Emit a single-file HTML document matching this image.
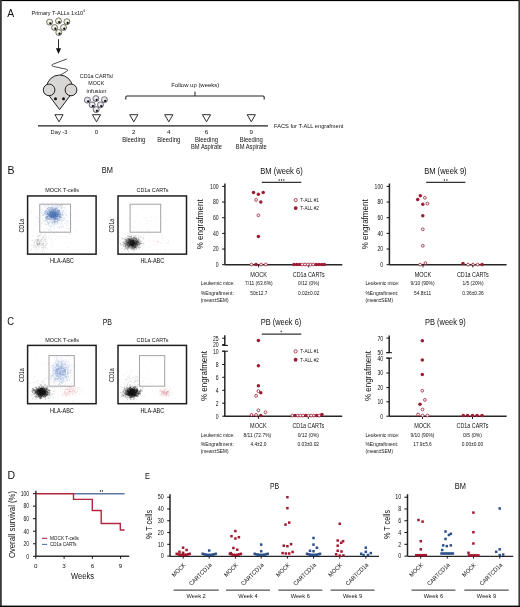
<!DOCTYPE html>
<html><head><meta charset="utf-8"><style>
html,body{margin:0;padding:0;background:#fff;}
svg{display:block;font-family:"Liberation Sans",sans-serif;will-change:transform;}
text{fill:#111111;}
</style></head><body>
<svg width="520" height="607" viewBox="0 0 520 607">
<defs>
<radialGradient id="gc" cx="0.45" cy="0.4" r="0.6"><stop offset="0" stop-color="#fbfaf0"/><stop offset="0.7" stop-color="#e8e6cc"/><stop offset="1" stop-color="#b8b69e"/></radialGradient>
<radialGradient id="gp" cx="0.45" cy="0.4" r="0.6"><stop offset="0" stop-color="#f6f6fc"/><stop offset="0.7" stop-color="#d6d6ea"/><stop offset="1" stop-color="#a4a4bc"/></radialGradient>
</defs>
<rect x="0" y="0" width="520" height="607" fill="#ffffff"/>
<path d="M135.2 379.9h.1M131.4 378.9h.1M138.0 379.4h.1M134.1 381.8h.1M134.9 384.4h.1M138.5 376.9h.1M128.6 390.7h.1M137.0 381.5h.1M130.8 382.5h.1M137.1 376.7h.1M137.7 380.8h.1M130.5 378.8h.1M123.6 382.9h.1M126.7 377.9h.1M128.4 382.4h.1M134.8 381.3h.1M132.7 383.4h.1M138.3 384.4h.1M138.2 380.7h.1M133.3 377.4h.1M134.3 376.2h.1M133.8 377.5h.1M130.5 388.0h.1M132.5 385.6h.1M131.0 370.5h.1M137.8 380.1h.1M129.3 386.4h.1M127.4 376.9h.1M136.5 377.1h.1M136.4 379.4h.1M131.1 381.5h.1M129.9 387.2h.1M136.3 381.5h.1M134.4 384.2h.1M138.6 372.1h.1M136.0 386.3h.1M130.7 381.2h.1M130.5 388.1h.1M127.4 384.5h.1M137.0 384.3h.1M130.0 378.5h.1M123.5 375.3h.1M136.3 375.7h.1M125.4 379.7h.1M126.0 383.7h.1M128.5 386.5h.1M131.5 373.1h.1M128.9 377.4h.1M128.6 388.1h.1M127.9 383.2h.1M129.6 384.4h.1M126.2 372.2h.1M134.0 389.2h.1M126.4 379.3h.1M129.9 375.8h.1M135.8 381.4h.1M126.4 379.9h.1M137.2 377.1h.1M129.9 376.4h.1M132.6 378.0h.1" stroke="#6a6a6a" stroke-width="0.5" stroke-linecap="round" stroke-opacity="0.3" fill="none"/>
<path d="M128.2 374.6h.1M136.6 385.5h.1M132.7 380.0h.1M143.6 380.9h.1M143.7 377.6h.1M141.8 391.8h.1M135.3 379.5h.1M136.6 385.6h.1M128.2 382.4h.1M133.2 392.9h.1M124.1 387.0h.1M135.3 376.4h.1M138.9 380.3h.1M138.2 383.9h.1M147.5 379.0h.1M151.2 361.6h.1M152.4 391.3h.1M150.3 383.6h.1M140.1 374.4h.1M148.5 373.3h.1M131.5 382.1h.1M139.7 384.7h.1M128.6 379.5h.1M141.8 391.1h.1M144.0 385.2h.1M135.8 378.0h.1M133.8 381.4h.1M142.1 378.3h.1M154.3 374.5h.1" stroke="#6a6a6a" stroke-width="0.5" stroke-linecap="round" stroke-opacity="0.25" fill="none"/>
<path d="M169.9 394.7h.1M164.4 393.8h.1M162.3 389.2h.1M166.3 393.8h.1M163.5 392.6h.1M156.9 392.3h.1M168.3 393.0h.1M165.9 393.8h.1M159.6 389.9h.1M161.9 393.1h.1M163.7 388.7h.1M167.9 392.2h.1M168.2 396.8h.1M160.8 389.9h.1M168.4 395.6h.1M166.5 393.4h.1M167.3 394.0h.1M161.9 394.2h.1M168.1 391.8h.1M162.9 391.6h.1M163.8 393.7h.1M167.6 392.7h.1M164.5 388.9h.1M164.2 390.5h.1M163.9 393.3h.1M165.9 399.9h.1M163.0 391.5h.1M162.2 392.1h.1M164.6 394.7h.1M160.0 394.5h.1M167.2 391.5h.1M163.5 393.0h.1M166.8 392.3h.1M165.0 392.6h.1M162.4 393.2h.1M167.0 392.7h.1M162.2 392.6h.1M165.1 393.3h.1M164.2 394.3h.1M168.4 394.3h.1M166.0 395.1h.1M165.3 392.3h.1M161.4 392.6h.1M168.8 390.6h.1M167.6 390.0h.1M166.2 396.4h.1M165.5 390.2h.1M166.2 392.3h.1M167.6 391.5h.1M160.6 391.6h.1M167.0 394.7h.1M166.2 392.7h.1M167.3 392.2h.1M164.1 393.1h.1M168.4 391.6h.1M166.8 391.3h.1M163.3 393.0h.1M161.7 390.8h.1M162.1 391.4h.1M162.9 397.4h.1M167.1 392.8h.1M161.7 387.7h.1M166.6 391.3h.1M168.3 391.8h.1M161.8 391.3h.1M161.1 389.7h.1M167.4 391.5h.1M167.3 391.5h.1M164.7 391.5h.1M163.9 391.2h.1M169.5 392.5h.1M160.0 396.1h.1M168.9 394.9h.1M165.1 392.3h.1M164.1 392.9h.1M166.7 392.6h.1M163.1 390.6h.1M170.0 396.1h.1M161.9 391.3h.1M165.3 393.8h.1M165.1 393.1h.1M166.4 394.9h.1M161.7 394.9h.1M166.6 393.7h.1M161.2 392.1h.1M164.6 393.9h.1M167.3 394.0h.1M161.8 395.2h.1M165.6 394.5h.1M165.3 391.2h.1M172.7 393.9h.1M167.5 391.7h.1M164.8 394.9h.1M166.6 396.2h.1M168.7 390.4h.1M161.1 395.0h.1M167.0 392.1h.1M164.6 391.5h.1M170.4 392.3h.1M161.5 394.5h.1M165.1 393.3h.1M164.3 392.5h.1M160.1 393.7h.1M163.5 391.8h.1M166.2 395.2h.1M159.4 392.3h.1M166.9 394.7h.1M162.8 393.3h.1M166.5 394.5h.1M163.6 392.2h.1M163.9 394.9h.1M168.4 391.7h.1M165.0 393.1h.1M162.8 392.4h.1M167.8 394.2h.1M163.5 391.3h.1M165.0 389.6h.1M166.2 392.9h.1M161.6 392.1h.1M163.5 392.1h.1M162.9 395.4h.1M162.7 394.2h.1M165.9 395.5h.1M165.2 392.6h.1M165.5 388.8h.1M172.1 392.2h.1M164.5 390.4h.1M165.0 395.9h.1M163.2 393.5h.1M168.2 394.5h.1M164.2 389.1h.1M166.5 393.8h.1M164.4 391.8h.1M170.2 389.4h.1M163.9 391.4h.1M161.0 391.2h.1M163.1 395.1h.1M160.5 389.9h.1M166.1 389.5h.1M159.8 391.4h.1" stroke="#d98890" stroke-width="0.5" stroke-linecap="round" stroke-opacity="0.45" fill="none"/>
<path d="M134.8 391.4h.1M134.1 392.9h.1M130.9 392.3h.1M129.5 388.5h.1M124.3 390.0h.1M123.8 390.6h.1M133.0 385.7h.1M132.3 391.8h.1M130.3 386.5h.1M131.5 392.3h.1M136.5 399.1h.1M122.5 392.0h.1M134.1 387.7h.1M133.6 399.8h.1M132.6 396.6h.1M137.2 388.5h.1M120.8 395.7h.1M139.5 382.7h.1M131.0 387.4h.1M133.0 390.8h.1M137.5 387.9h.1M141.3 382.9h.1M133.1 402.4h.1M131.5 393.3h.1M136.3 388.9h.1M122.7 391.4h.1M135.6 381.4h.1M129.6 393.0h.1M120.4 389.7h.1M124.3 384.5h.1M134.0 395.6h.1M137.6 387.6h.1M134.5 382.6h.1M124.8 392.9h.1M130.1 386.0h.1M123.0 389.5h.1M142.8 381.5h.1M126.9 395.5h.1M122.7 387.7h.1M132.3 395.5h.1M131.6 398.6h.1M131.9 390.0h.1M134.1 392.1h.1M124.7 386.3h.1M130.9 392.0h.1M126.1 387.3h.1M128.4 392.0h.1M129.9 393.2h.1M133.9 386.4h.1M130.6 385.0h.1M132.5 394.1h.1M127.2 382.6h.1M134.5 389.2h.1M131.9 392.6h.1M133.8 394.6h.1M129.8 380.7h.1M129.6 389.1h.1M130.0 392.3h.1M130.8 396.3h.1M128.9 390.5h.1M130.3 399.9h.1M127.4 386.0h.1M130.2 393.9h.1M132.1 389.7h.1M124.9 381.2h.1M131.0 389.4h.1M140.6 392.2h.1M134.1 394.8h.1M127.6 385.0h.1M130.2 397.1h.1M136.8 387.9h.1M126.0 394.7h.1M137.3 385.6h.1M139.8 387.0h.1M135.7 389.6h.1M130.4 387.8h.1M135.4 393.3h.1M135.9 389.2h.1M127.9 400.1h.1M140.4 389.6h.1M126.4 397.2h.1M132.7 390.8h.1M136.2 392.1h.1M132.5 399.4h.1M122.8 393.4h.1M127.2 390.8h.1M131.2 391.7h.1M120.2 393.6h.1M143.4 388.7h.1M136.4 393.3h.1M133.5 388.3h.1M135.1 391.7h.1M139.1 394.2h.1M128.5 377.4h.1M139.4 392.7h.1M132.8 387.8h.1M144.3 396.5h.1M132.5 388.9h.1M134.8 396.6h.1M134.6 394.7h.1M133.3 392.1h.1M125.8 391.1h.1M132.3 390.2h.1M130.8 391.9h.1M129.2 389.6h.1M125.6 400.9h.1M127.6 385.1h.1M129.4 388.6h.1M126.7 379.6h.1" stroke="#6a6a6a" stroke-width="0.5" stroke-linecap="round" stroke-opacity="0.35" fill="none"/>
<path d="M131.7 388.5h.1M126.4 388.7h.1M135.0 393.1h.1M134.6 395.3h.1M132.2 393.0h.1M133.4 393.5h.1M128.3 391.7h.1M131.5 392.5h.1M129.4 392.1h.1M133.0 392.8h.1M134.1 394.4h.1M134.0 394.7h.1M134.9 395.7h.1M134.2 390.9h.1M140.2 395.1h.1M136.4 394.2h.1M132.2 389.6h.1M133.5 391.5h.1M130.6 387.3h.1M137.4 389.6h.1M128.1 393.5h.1M134.0 390.5h.1M132.0 393.0h.1M132.5 393.7h.1M134.7 391.5h.1M126.3 397.6h.1M130.6 390.0h.1M134.6 393.8h.1M129.8 398.1h.1M123.7 395.5h.1M131.9 393.1h.1M133.1 391.8h.1M133.1 389.3h.1M130.6 396.8h.1M122.9 395.4h.1M124.2 390.3h.1M135.1 391.4h.1M130.0 388.8h.1M131.6 392.0h.1M129.8 388.6h.1M132.5 393.4h.1M136.0 393.6h.1M137.3 395.3h.1M122.1 396.4h.1M131.6 389.9h.1M133.5 394.7h.1M126.6 389.4h.1M134.4 391.1h.1M137.1 392.9h.1M130.1 389.2h.1M134.1 388.3h.1M127.4 389.2h.1M138.0 396.5h.1M131.2 391.5h.1M134.5 395.4h.1M129.2 397.7h.1M131.3 395.1h.1M123.7 392.3h.1M129.5 397.2h.1M131.2 389.3h.1M138.8 390.7h.1M132.0 389.4h.1M134.4 392.9h.1M131.0 391.4h.1M130.0 390.7h.1M127.1 395.3h.1M135.1 389.0h.1M127.9 393.4h.1M140.0 391.9h.1M130.9 391.8h.1M132.9 392.0h.1M135.8 394.8h.1M133.9 396.2h.1M131.2 391.1h.1M142.5 387.7h.1M126.5 386.7h.1M133.3 389.8h.1M135.7 387.3h.1M131.5 391.5h.1M128.2 395.1h.1M130.6 393.5h.1M130.1 392.8h.1M130.4 392.6h.1M131.6 390.8h.1M133.5 392.0h.1M128.6 389.9h.1M133.6 395.6h.1M127.4 391.4h.1M133.6 394.9h.1M134.5 389.5h.1M132.1 394.6h.1M132.8 391.9h.1M127.8 392.8h.1M131.8 392.5h.1M137.3 395.3h.1M129.2 393.0h.1M130.9 392.6h.1M137.7 394.6h.1M132.1 390.8h.1M131.4 393.3h.1M130.2 395.1h.1M132.1 389.6h.1M139.2 385.4h.1M131.0 392.1h.1M135.5 395.1h.1M137.1 396.2h.1M133.1 392.7h.1M135.6 392.3h.1M127.6 391.3h.1M134.3 393.9h.1M128.1 395.3h.1M133.1 388.8h.1M133.6 394.8h.1M133.9 391.6h.1M129.2 395.1h.1M132.8 392.4h.1M130.6 389.9h.1M125.4 391.6h.1M135.9 394.2h.1M129.6 396.1h.1M131.2 390.0h.1M135.4 395.7h.1M130.6 389.5h.1M131.8 386.5h.1M132.2 396.1h.1M133.0 390.6h.1M134.5 391.2h.1M136.4 391.5h.1M139.2 391.6h.1M132.7 390.1h.1M127.5 393.2h.1M133.2 390.1h.1M134.0 391.4h.1M130.1 392.2h.1M133.4 394.1h.1M136.3 393.3h.1M129.4 390.7h.1M133.3 389.5h.1M131.4 391.5h.1M131.7 392.8h.1M135.7 396.3h.1M135.1 394.8h.1M128.2 394.9h.1M136.6 389.1h.1M140.9 391.0h.1M123.6 396.6h.1M132.2 390.5h.1M130.0 395.0h.1M132.9 391.5h.1M136.0 390.1h.1M129.0 391.0h.1M129.4 394.1h.1M131.2 389.9h.1M130.4 387.6h.1M132.6 392.6h.1M134.1 391.8h.1M133.4 390.2h.1M132.1 392.8h.1M127.7 393.8h.1M132.5 392.5h.1M130.3 397.2h.1M132.0 390.6h.1M129.0 393.8h.1M131.3 390.5h.1M129.5 394.6h.1M132.3 394.9h.1M131.9 389.6h.1M135.0 393.2h.1M129.7 391.7h.1M128.6 394.4h.1M130.5 393.5h.1M132.9 391.8h.1M133.3 391.8h.1M127.9 391.4h.1M127.9 394.2h.1M134.3 391.0h.1M134.2 393.0h.1M135.4 390.2h.1M132.1 390.0h.1M129.6 395.7h.1M125.0 390.2h.1M133.7 394.3h.1M129.2 387.5h.1M126.0 393.3h.1M135.9 394.6h.1M129.4 395.6h.1M131.3 393.9h.1M131.3 396.2h.1M130.2 387.2h.1M130.9 392.9h.1M133.0 390.7h.1M131.2 389.7h.1M131.2 392.6h.1M132.8 396.3h.1M125.0 393.6h.1M133.5 389.6h.1M132.2 392.4h.1M128.5 394.1h.1M138.7 394.0h.1M134.7 395.0h.1M131.5 394.7h.1M129.2 392.8h.1M134.5 395.5h.1M131.0 391.7h.1M133.6 392.2h.1M132.5 394.3h.1M129.3 394.5h.1M133.3 391.8h.1M127.6 390.9h.1M131.8 394.6h.1M125.1 394.1h.1M132.7 389.7h.1M135.0 393.3h.1M133.5 390.1h.1M128.1 394.6h.1M136.9 393.3h.1M131.3 391.3h.1M126.0 394.7h.1M131.7 395.3h.1M129.5 394.9h.1M129.5 393.8h.1M136.8 390.7h.1M135.2 392.4h.1M128.7 392.9h.1M134.2 390.7h.1M131.1 391.0h.1M129.3 391.9h.1M134.9 391.2h.1M136.3 391.5h.1M129.6 395.0h.1M136.9 390.8h.1M134.0 389.6h.1M130.6 391.5h.1M134.5 389.4h.1M130.2 390.8h.1M132.3 389.5h.1M127.4 399.1h.1M132.7 388.8h.1M134.9 389.3h.1M125.5 396.4h.1M136.3 390.4h.1M128.2 393.5h.1M139.0 393.8h.1M134.3 389.6h.1M125.8 393.3h.1M135.5 392.7h.1M132.0 395.7h.1M129.1 395.0h.1M134.9 390.9h.1M132.4 392.7h.1M134.0 390.1h.1M131.2 392.6h.1M132.1 392.5h.1M132.9 391.9h.1M130.3 394.8h.1M129.8 391.6h.1M129.0 389.7h.1M133.5 392.3h.1M131.5 393.5h.1M131.4 394.0h.1M138.2 393.2h.1M131.1 396.3h.1M134.4 388.5h.1M136.6 392.9h.1M134.9 389.7h.1M129.1 390.9h.1M133.9 389.7h.1M129.6 394.7h.1M129.8 392.7h.1M128.9 388.4h.1M131.7 392.1h.1M127.1 394.7h.1M134.8 394.5h.1M130.2 389.7h.1M131.7 392.8h.1M131.4 391.0h.1M128.6 390.7h.1M131.7 391.2h.1M137.7 391.7h.1M133.6 391.3h.1M131.4 390.1h.1M130.3 388.9h.1M124.9 395.6h.1M128.4 393.4h.1M131.6 391.1h.1M134.5 391.1h.1M133.5 391.5h.1M135.3 394.7h.1M132.2 395.0h.1M133.7 396.1h.1M131.6 388.8h.1M132.7 393.0h.1M130.7 391.9h.1M131.1 389.4h.1M137.9 390.6h.1M128.3 388.7h.1M129.1 392.3h.1M137.1 393.8h.1M129.5 389.5h.1M128.2 392.2h.1M135.0 391.3h.1M137.5 396.9h.1M132.5 387.3h.1M135.7 392.2h.1M134.3 394.7h.1M128.5 392.5h.1M132.6 390.6h.1M134.4 392.1h.1M130.6 396.8h.1M132.6 396.2h.1M131.5 394.8h.1M129.4 392.7h.1M135.7 387.3h.1M133.8 391.8h.1M135.7 392.8h.1M131.7 389.4h.1M142.1 390.7h.1M130.9 390.7h.1M131.0 392.9h.1M127.4 394.9h.1M131.1 393.8h.1M124.8 391.2h.1M131.0 391.5h.1M129.7 393.1h.1M133.4 390.1h.1M125.3 394.1h.1M130.9 394.9h.1M135.0 392.1h.1M127.1 391.5h.1M129.5 395.3h.1M126.2 394.5h.1M126.7 391.1h.1M127.2 390.8h.1M130.5 393.3h.1M130.0 394.0h.1M138.0 392.8h.1M128.0 392.0h.1M131.6 391.5h.1M135.9 395.1h.1M138.8 393.6h.1M122.9 392.1h.1M134.3 390.5h.1M129.9 394.5h.1M132.5 389.7h.1M130.0 385.1h.1M132.0 389.5h.1M131.8 389.6h.1M128.8 391.2h.1M141.5 389.6h.1M127.9 391.1h.1M135.6 394.3h.1M134.4 391.6h.1M132.4 390.6h.1M131.4 390.5h.1M127.0 390.1h.1M138.6 393.3h.1M129.4 392.1h.1M130.4 395.3h.1M131.9 390.9h.1M134.3 393.1h.1M129.6 390.6h.1M132.5 388.5h.1M128.9 394.8h.1M134.9 395.0h.1M130.5 391.0h.1M131.0 391.3h.1M136.3 391.9h.1M136.6 390.7h.1M133.3 396.2h.1M129.4 390.9h.1M129.9 388.6h.1M131.0 390.9h.1M139.5 391.3h.1M124.7 394.6h.1M135.2 392.3h.1M132.9 394.1h.1M130.0 392.5h.1M132.5 396.3h.1M136.8 392.8h.1M127.4 394.5h.1M131.8 395.1h.1M132.1 392.8h.1M134.2 390.7h.1M129.7 397.8h.1M129.0 394.6h.1M134.3 394.3h.1M136.6 389.2h.1M135.2 387.6h.1M132.1 393.2h.1M135.5 394.9h.1M128.8 391.7h.1M131.4 390.8h.1M129.2 390.8h.1M135.9 395.6h.1M134.5 396.3h.1M132.3 389.8h.1M129.7 392.9h.1M135.5 395.2h.1M128.9 394.6h.1M130.1 393.8h.1M135.1 395.9h.1M130.2 393.0h.1M133.4 391.4h.1M132.3 393.8h.1M126.4 390.9h.1M139.8 393.5h.1M130.1 388.1h.1M128.7 393.6h.1M134.3 393.4h.1M134.0 391.0h.1M137.4 389.7h.1M133.7 391.8h.1M126.1 394.5h.1M131.0 394.1h.1M136.3 392.8h.1M129.7 391.9h.1M131.7 395.8h.1M134.9 396.1h.1M134.5 390.6h.1M135.1 394.7h.1M131.5 393.5h.1M130.9 389.4h.1M131.6 394.2h.1M130.7 387.1h.1M129.2 395.0h.1M132.7 395.0h.1M129.4 391.4h.1M128.5 390.6h.1M133.7 392.7h.1M130.3 393.1h.1M127.5 391.5h.1M126.9 388.9h.1M127.3 389.8h.1M137.3 395.6h.1M136.2 391.0h.1M134.1 389.7h.1M130.1 393.0h.1M126.5 392.9h.1M134.0 387.5h.1M123.6 391.7h.1M131.5 392.7h.1M128.1 393.7h.1M132.4 390.7h.1M137.5 393.0h.1M134.5 396.8h.1M130.3 391.9h.1M126.0 391.9h.1M133.4 398.3h.1M133.9 392.9h.1M127.6 390.4h.1M125.6 389.1h.1M132.3 393.1h.1M128.8 391.9h.1M129.2 393.9h.1M134.1 391.1h.1M130.4 389.5h.1M130.4 397.6h.1M131.9 394.4h.1M133.9 395.9h.1M130.8 390.3h.1M135.5 394.6h.1M129.7 395.0h.1M131.9 392.3h.1M138.2 393.7h.1M133.0 391.6h.1M132.6 394.9h.1M133.5 390.6h.1M133.5 392.1h.1M133.0 391.9h.1M124.5 388.6h.1M130.6 387.2h.1M126.8 397.2h.1M134.3 391.3h.1M133.1 387.1h.1M132.8 394.7h.1M132.6 389.3h.1M135.2 391.1h.1M130.0 392.9h.1M130.9 397.2h.1M131.5 397.5h.1M133.5 389.5h.1M131.9 392.5h.1M136.8 395.4h.1M140.7 390.8h.1M130.4 397.9h.1M128.9 393.2h.1M137.4 390.0h.1M130.8 390.6h.1M133.7 393.4h.1M131.8 394.0h.1M129.3 391.5h.1M133.5 397.2h.1M131.8 392.5h.1M136.4 392.6h.1M136.4 393.0h.1M135.9 392.8h.1M128.8 390.4h.1M133.4 396.9h.1M138.3 391.6h.1M140.5 389.7h.1M129.0 394.6h.1M126.7 394.6h.1M133.2 393.9h.1M127.8 393.3h.1M135.2 392.3h.1M135.5 392.5h.1M133.1 391.6h.1M127.3 392.0h.1M133.7 390.6h.1M125.3 388.7h.1M136.4 391.9h.1M129.3 395.4h.1M131.3 388.8h.1M130.4 390.3h.1M131.3 390.2h.1M132.2 393.5h.1M130.0 391.9h.1M131.4 394.4h.1M129.5 394.2h.1M136.2 391.9h.1M128.6 391.7h.1M125.9 391.1h.1M127.8 392.0h.1M130.7 393.6h.1M132.3 393.4h.1M131.8 393.1h.1M128.1 394.0h.1M136.4 395.1h.1M127.3 393.4h.1M126.4 394.2h.1M131.2 391.3h.1M129.4 391.8h.1M131.9 390.1h.1M132.1 393.0h.1M133.8 392.3h.1M131.9 397.9h.1M135.4 393.2h.1M127.2 393.9h.1M133.9 386.0h.1M131.4 393.3h.1M132.1 392.6h.1M131.4 395.7h.1M133.3 391.7h.1M131.2 397.4h.1M129.0 391.1h.1M133.1 392.8h.1M133.0 395.7h.1M135.9 393.4h.1M132.1 392.3h.1M131.2 394.8h.1M127.6 389.9h.1M130.4 390.1h.1M129.4 395.3h.1M124.2 393.8h.1M127.4 391.8h.1M130.0 390.0h.1M126.8 392.6h.1M121.7 387.3h.1M130.6 395.0h.1M138.3 391.7h.1M129.2 391.7h.1M133.6 394.6h.1M128.7 393.5h.1M131.8 395.1h.1M130.5 391.9h.1M129.0 389.2h.1M132.9 394.1h.1M135.8 393.0h.1M130.4 390.2h.1M128.0 390.7h.1M133.1 392.6h.1M124.0 392.2h.1M131.0 389.9h.1M131.9 393.7h.1M128.4 389.2h.1M130.8 393.0h.1M131.1 396.1h.1M132.5 390.0h.1M134.6 390.8h.1M134.3 392.6h.1M136.2 390.0h.1M134.5 393.4h.1M128.8 394.1h.1M139.8 393.3h.1M129.3 392.0h.1M136.5 393.0h.1M137.1 390.8h.1M136.5 388.6h.1M131.4 391.7h.1M130.3 395.3h.1M129.9 393.2h.1M138.4 394.4h.1M130.5 390.6h.1M125.0 393.3h.1M135.0 395.1h.1M132.8 397.6h.1M134.7 386.9h.1M128.9 394.3h.1M130.6 394.4h.1M140.9 390.6h.1M139.6 392.2h.1M126.9 392.6h.1M135.1 391.0h.1M137.5 390.3h.1M131.3 394.6h.1M131.2 391.1h.1M131.9 394.0h.1M138.0 395.7h.1M138.5 392.3h.1M126.2 392.3h.1M130.5 390.0h.1M130.2 392.2h.1M132.2 394.6h.1M128.8 395.2h.1M132.1 394.2h.1M136.3 389.4h.1M137.5 390.7h.1M133.4 395.0h.1M135.2 388.6h.1M132.5 395.1h.1M131.6 392.2h.1M132.2 396.3h.1M130.1 390.1h.1M128.1 391.1h.1M131.2 393.2h.1M131.7 388.3h.1M126.5 394.0h.1M134.5 389.1h.1M135.3 386.6h.1M140.1 393.8h.1M126.2 393.6h.1M131.9 391.3h.1M130.7 391.9h.1M131.6 390.2h.1M130.0 393.7h.1M133.8 389.2h.1M130.3 396.2h.1M134.5 396.4h.1M127.3 389.9h.1M124.4 387.7h.1M130.7 389.9h.1M128.2 390.7h.1M131.3 394.4h.1M134.0 388.2h.1M137.2 391.6h.1M128.5 392.3h.1M130.6 389.1h.1M137.4 391.0h.1M129.9 393.7h.1M137.9 393.6h.1M128.8 393.5h.1M135.9 393.3h.1M134.3 391.2h.1M131.8 388.4h.1M129.5 389.7h.1M132.0 396.0h.1M124.1 389.2h.1M128.7 392.2h.1M136.1 390.5h.1M129.2 395.3h.1M133.3 393.7h.1M134.9 390.6h.1M132.8 390.8h.1M129.5 392.7h.1M133.5 389.3h.1M129.3 393.9h.1M132.6 394.0h.1M130.9 390.5h.1M134.7 393.8h.1M122.0 394.5h.1M129.3 394.0h.1M137.5 391.7h.1M128.6 393.0h.1M132.3 393.8h.1M127.1 393.0h.1M135.1 394.1h.1M134.2 395.3h.1M129.1 395.3h.1M132.7 390.0h.1M131.0 393.1h.1M133.2 395.7h.1M132.7 391.2h.1M139.7 391.6h.1M129.1 394.6h.1M130.5 390.5h.1M128.3 395.3h.1M128.3 392.6h.1M130.4 391.9h.1M129.1 392.8h.1M134.1 394.9h.1M130.7 389.6h.1M126.8 392.4h.1M123.3 395.6h.1M132.1 392.7h.1M127.1 390.9h.1M129.4 394.0h.1M130.6 393.9h.1M133.8 387.8h.1M131.2 395.4h.1M130.2 392.7h.1M131.6 389.5h.1M139.7 392.1h.1M134.2 391.3h.1M136.9 395.2h.1M136.1 394.7h.1M134.5 395.7h.1M133.4 392.7h.1M134.8 390.3h.1M123.1 394.4h.1M132.5 390.7h.1M131.1 390.1h.1M129.0 392.9h.1M132.4 394.4h.1M131.7 393.9h.1M134.4 390.7h.1M126.1 390.8h.1M131.1 391.1h.1M139.8 390.8h.1M133.7 390.6h.1M134.4 389.4h.1M135.3 392.9h.1M130.6 389.6h.1M137.9 391.0h.1M137.1 386.6h.1M127.8 396.8h.1M138.3 392.5h.1M135.5 393.9h.1M130.7 392.7h.1M128.0 389.2h.1M132.4 394.2h.1M132.6 389.5h.1M135.0 392.6h.1M134.6 391.7h.1M131.1 394.9h.1M136.8 389.5h.1M128.1 394.7h.1M133.3 392.6h.1M128.6 394.9h.1M132.7 392.9h.1M133.4 391.2h.1M133.4 392.7h.1M134.5 393.3h.1M127.5 390.7h.1M131.1 395.2h.1M129.7 395.1h.1M135.8 394.5h.1M139.9 392.4h.1M133.1 395.4h.1M133.4 394.8h.1M131.5 395.8h.1M133.2 387.8h.1M135.8 392.0h.1M128.9 391.7h.1M131.0 395.2h.1M133.2 392.3h.1M131.9 390.3h.1M129.8 391.3h.1M131.2 389.6h.1M130.6 394.8h.1M133.6 392.4h.1M133.2 391.9h.1M127.8 394.5h.1M139.9 393.7h.1M134.4 398.3h.1M127.7 393.7h.1M130.8 391.8h.1M126.2 392.2h.1M133.4 388.6h.1M131.2 391.3h.1M128.5 393.9h.1M137.8 393.4h.1M135.6 394.3h.1M131.8 393.8h.1M136.7 391.4h.1M131.5 389.1h.1M125.5 390.5h.1M135.1 393.3h.1M132.9 395.6h.1M125.8 395.7h.1M132.3 394.3h.1M136.9 390.5h.1M128.9 393.4h.1M131.8 391.0h.1M131.6 390.7h.1M132.5 391.5h.1M138.0 389.9h.1M134.0 392.6h.1M137.6 390.1h.1M130.4 396.6h.1M129.7 391.5h.1M130.6 390.1h.1M136.3 396.0h.1M131.5 390.6h.1M127.2 394.0h.1M130.1 393.7h.1M123.5 391.4h.1M134.2 393.4h.1M121.9 393.1h.1M132.5 392.4h.1M130.8 391.4h.1M132.5 393.6h.1M120.9 392.4h.1M135.3 391.9h.1M136.3 390.2h.1M138.7 394.7h.1M130.6 399.0h.1M137.1 396.2h.1M127.8 392.2h.1M133.7 394.9h.1M132.3 389.3h.1M136.3 392.0h.1M133.5 391.7h.1M131.6 389.2h.1M134.3 390.9h.1M125.8 393.4h.1M131.9 394.7h.1M134.9 389.5h.1M131.4 392.4h.1M132.3 389.9h.1M132.3 394.8h.1M136.4 395.9h.1M134.7 386.4h.1M131.0 391.1h.1M121.8 396.1h.1M135.2 392.4h.1M133.3 393.6h.1M131.2 395.7h.1M138.4 394.4h.1M130.0 393.0h.1M135.4 394.1h.1M129.6 394.7h.1M134.6 393.8h.1M130.5 392.4h.1M125.3 392.4h.1M130.4 391.7h.1M131.0 391.7h.1M132.3 392.7h.1M129.9 392.1h.1M131.7 393.6h.1M133.5 391.6h.1M129.1 388.5h.1M127.6 393.4h.1M128.8 396.2h.1M131.4 391.5h.1M131.4 391.1h.1M129.8 392.6h.1M126.9 392.7h.1M131.7 390.3h.1M135.6 393.3h.1M135.8 390.8h.1M127.6 389.6h.1M126.5 387.9h.1M137.5 391.3h.1M132.7 391.2h.1M131.5 396.2h.1M125.9 390.1h.1M132.5 390.3h.1M134.4 395.5h.1M135.1 394.2h.1M131.4 394.8h.1M129.2 389.6h.1M131.1 391.8h.1M136.3 390.1h.1M136.0 390.6h.1M127.6 388.4h.1M131.9 389.0h.1M132.7 392.5h.1M130.6 387.9h.1M130.2 393.5h.1M125.7 394.1h.1M132.1 391.1h.1M132.7 394.0h.1M131.9 390.6h.1M134.8 390.8h.1M133.3 394.7h.1M136.6 396.2h.1M135.6 392.8h.1M131.3 392.9h.1M133.9 399.5h.1M134.3 390.5h.1M137.3 388.6h.1M135.5 389.4h.1M128.2 391.2h.1M131.0 389.2h.1M134.2 392.1h.1M136.7 390.0h.1M125.6 394.0h.1M131.2 394.7h.1M123.8 389.5h.1M132.3 397.0h.1M127.7 387.9h.1M130.4 395.8h.1M137.6 389.2h.1M129.9 388.0h.1M129.0 390.1h.1M133.5 395.1h.1M140.4 391.6h.1M134.9 392.9h.1M132.4 397.0h.1M134.5 396.1h.1M133.1 394.5h.1M133.8 392.2h.1M129.6 391.5h.1M132.0 391.5h.1M130.8 390.7h.1M135.0 391.8h.1M131.6 391.9h.1M136.6 391.1h.1M137.0 390.4h.1M137.4 393.9h.1M130.3 393.5h.1M136.0 390.2h.1M131.2 393.2h.1M131.3 391.7h.1M132.1 393.2h.1M134.7 395.9h.1M130.9 399.4h.1M130.9 396.6h.1M131.6 389.0h.1M130.5 391.6h.1M135.8 387.6h.1M129.8 392.1h.1M134.3 393.3h.1M135.0 392.0h.1M131.2 395.3h.1M138.0 393.3h.1M132.6 390.4h.1M139.4 393.4h.1M134.2 388.6h.1M134.1 398.2h.1M131.4 391.9h.1M137.4 392.0h.1M135.0 397.0h.1M127.9 390.4h.1M134.4 392.7h.1M132.2 392.0h.1M132.5 393.3h.1M130.3 391.8h.1M132.8 389.8h.1M133.6 387.2h.1M134.2 392.1h.1M127.9 395.6h.1M127.9 397.3h.1M129.5 395.3h.1M131.8 396.2h.1M131.2 394.9h.1M130.9 388.0h.1M133.4 393.5h.1M133.4 396.4h.1M129.4 389.0h.1M132.9 390.8h.1M131.7 392.4h.1M129.2 395.0h.1M131.6 396.7h.1M132.9 394.9h.1M131.0 390.8h.1M130.2 390.3h.1M133.6 392.7h.1M128.3 388.8h.1M129.0 388.1h.1M128.9 388.8h.1M134.5 389.7h.1M130.0 392.1h.1M132.1 393.4h.1M134.7 393.9h.1M130.8 395.4h.1M133.3 390.7h.1M137.2 389.6h.1M133.7 395.4h.1M132.4 393.2h.1M132.4 394.0h.1M132.8 392.4h.1M134.5 387.9h.1M132.9 391.7h.1M138.8 393.1h.1M129.7 394.0h.1M130.7 389.6h.1M131.0 393.6h.1M136.1 394.9h.1M132.8 392.0h.1M132.7 395.3h.1M131.6 395.2h.1M129.3 392.4h.1M134.7 394.1h.1M132.7 391.2h.1M125.8 391.4h.1M129.1 391.5h.1M137.5 390.6h.1M135.0 392.4h.1M128.2 392.7h.1M134.6 389.6h.1M128.0 391.5h.1M134.5 391.0h.1M133.5 393.5h.1M132.1 393.5h.1M136.4 392.0h.1M133.1 389.9h.1M129.5 392.2h.1M134.8 390.8h.1M127.2 394.6h.1M140.2 386.3h.1M128.3 392.7h.1M133.7 390.2h.1M133.2 395.0h.1M131.1 394.1h.1M132.5 390.2h.1M129.9 391.0h.1M136.6 395.2h.1M132.9 388.7h.1M130.3 391.5h.1M125.4 392.4h.1M133.0 389.3h.1M130.5 391.3h.1M138.4 394.0h.1M134.7 392.6h.1M127.6 394.6h.1M129.7 387.8h.1M134.5 391.6h.1M132.0 393.6h.1M131.2 393.4h.1M136.4 391.6h.1M130.8 392.4h.1M134.2 391.5h.1M132.3 390.8h.1M131.8 393.7h.1M129.2 392.0h.1M127.0 390.7h.1M132.3 393.7h.1M128.5 392.2h.1M128.8 393.2h.1M132.9 393.5h.1M131.3 389.0h.1M130.1 389.2h.1M129.7 392.3h.1M135.7 390.9h.1M129.4 392.9h.1M125.0 397.1h.1M126.7 394.8h.1M135.4 394.7h.1M131.7 394.1h.1M130.8 394.7h.1M129.8 390.5h.1M133.3 391.3h.1M134.3 390.4h.1M132.9 390.1h.1M131.7 397.5h.1M128.3 389.5h.1M126.5 391.9h.1M137.5 391.3h.1M135.2 392.0h.1M129.8 397.2h.1M135.7 388.1h.1M128.7 393.4h.1M134.2 391.9h.1M133.1 393.7h.1M130.8 394.8h.1M129.1 394.2h.1M135.1 392.9h.1M130.8 392.4h.1M124.5 393.0h.1M127.2 387.6h.1M134.6 390.2h.1M133.2 392.5h.1M126.0 390.3h.1M131.1 393.5h.1M132.2 389.4h.1M130.2 392.7h.1M127.7 391.4h.1M130.1 387.4h.1M137.9 394.5h.1M130.4 394.6h.1M128.5 396.0h.1M130.7 392.7h.1M130.0 392.6h.1M133.1 392.5h.1M129.2 394.2h.1M133.9 392.4h.1M135.6 390.7h.1M136.3 392.0h.1M137.1 391.4h.1M131.1 392.9h.1M135.7 395.8h.1M130.5 390.7h.1M134.6 395.3h.1M134.4 391.6h.1M136.3 392.3h.1M132.6 393.9h.1M130.1 387.1h.1M132.7 394.1h.1M133.5 393.7h.1M132.6 394.9h.1M132.4 395.9h.1M132.2 394.3h.1M130.1 393.1h.1M133.4 392.7h.1M137.2 392.5h.1M135.8 393.2h.1M135.7 390.3h.1M130.8 394.7h.1M129.2 393.3h.1" stroke="#1a1a1a" stroke-width="0.6" stroke-linecap="round" stroke-opacity="0.5" fill="none"/>
<path d="M46.1 389.7h.1M36.7 356.7h.1M42.8 388.8h.1M43.3 384.0h.1M37.0 394.0h.1M55.2 390.5h.1M46.7 392.8h.1M50.9 375.1h.1M42.3 380.5h.1M39.1 368.0h.1M51.6 387.1h.1M46.5 388.4h.1M69.1 367.3h.1M53.1 370.3h.1M42.2 381.8h.1M60.1 385.4h.1M57.8 398.2h.1M45.6 391.0h.1M67.4 384.9h.1M46.5 363.8h.1M49.3 387.6h.1M46.9 378.2h.1M67.7 373.8h.1M38.6 380.4h.1M63.5 385.9h.1M50.9 375.1h.1M64.8 388.9h.1M29.1 383.3h.1M57.4 373.7h.1M34.5 377.0h.1M28.9 385.7h.1M43.8 362.3h.1M49.7 391.9h.1M34.7 376.4h.1M71.8 381.8h.1M43.3 381.9h.1M59.4 369.9h.1" stroke="#6a6a6a" stroke-width="0.5" stroke-linecap="round" stroke-opacity="0.25" fill="none"/>
<path d="M66.6 395.0h.1M72.4 394.4h.1M69.2 395.1h.1M67.9 388.4h.1M70.0 387.6h.1M75.7 393.6h.1M62.4 392.0h.1M73.9 390.5h.1M71.9 389.9h.1M69.7 391.3h.1M72.2 388.8h.1M64.9 392.4h.1M67.7 393.0h.1M67.8 387.8h.1M73.4 392.2h.1M73.3 390.5h.1M68.4 395.0h.1M62.4 396.4h.1M72.4 391.3h.1M70.4 393.2h.1M66.5 392.3h.1M65.7 386.3h.1M70.9 391.8h.1M73.0 393.1h.1M73.2 393.7h.1M65.3 394.9h.1M82.1 389.9h.1M64.3 393.4h.1M74.2 394.3h.1M77.0 387.6h.1M71.7 392.8h.1M75.7 389.0h.1M70.1 390.5h.1M69.3 391.1h.1M69.3 386.5h.1M69.9 391.7h.1M68.3 381.5h.1M66.9 389.7h.1M66.1 396.0h.1M74.2 391.0h.1M72.7 400.7h.1M65.6 392.8h.1M67.3 395.7h.1M75.0 391.2h.1M72.8 389.3h.1M62.9 393.9h.1M77.4 390.6h.1M67.6 386.5h.1M79.7 388.1h.1M65.6 391.0h.1M75.5 391.7h.1M69.9 391.6h.1M73.9 391.4h.1M70.7 391.3h.1M65.0 395.3h.1M66.9 387.8h.1M68.0 391.6h.1M73.7 387.4h.1M64.3 392.0h.1M71.7 388.4h.1M64.9 392.0h.1M69.4 387.0h.1M66.0 395.7h.1M65.2 394.5h.1M63.1 395.7h.1M77.3 389.7h.1M66.9 393.3h.1M64.4 393.1h.1M75.5 392.2h.1M71.5 391.1h.1M74.5 389.2h.1M77.2 391.4h.1M68.5 386.9h.1M68.0 392.2h.1M75.6 387.0h.1M69.4 389.6h.1M64.6 391.5h.1M66.6 393.9h.1M57.8 393.6h.1M61.4 386.0h.1M72.4 390.5h.1M70.6 388.8h.1M65.3 389.4h.1M69.8 389.1h.1M68.1 389.1h.1M71.1 388.3h.1M60.6 384.1h.1M69.9 391.8h.1M74.4 389.4h.1M64.9 387.3h.1M73.4 389.7h.1M74.5 391.3h.1M68.8 386.3h.1M66.9 393.7h.1M67.2 393.4h.1M62.6 394.4h.1M82.6 394.6h.1M71.5 388.0h.1M67.6 389.7h.1M70.8 385.8h.1M66.1 393.7h.1M70.7 393.6h.1M73.9 388.3h.1M63.9 392.8h.1M70.2 391.7h.1M66.3 394.4h.1M72.2 394.7h.1M68.4 393.4h.1M69.7 388.9h.1M69.6 386.8h.1M69.2 392.0h.1M73.1 388.5h.1M64.0 389.4h.1M60.6 389.7h.1M81.8 391.9h.1M66.6 389.6h.1M78.0 388.2h.1M69.5 391.3h.1M66.7 389.5h.1M62.4 389.1h.1M75.9 395.5h.1M68.7 393.5h.1M72.1 391.8h.1M69.4 394.9h.1M72.6 390.9h.1M68.9 394.1h.1M67.3 389.5h.1M68.8 390.1h.1M75.7 392.5h.1M69.6 390.0h.1M76.4 392.7h.1M79.4 394.1h.1M69.0 390.0h.1M68.7 392.0h.1M73.6 392.9h.1M77.1 387.2h.1M70.1 387.5h.1M65.4 389.8h.1M67.1 388.8h.1M63.1 394.7h.1" stroke="#d98890" stroke-width="0.5" stroke-linecap="round" stroke-opacity="0.45" fill="none"/>
<path d="M39.3 385.2h.1M45.2 394.2h.1M44.3 391.6h.1M46.3 390.0h.1M44.9 394.1h.1M47.8 392.8h.1M41.9 393.6h.1M34.0 382.7h.1M49.3 391.1h.1M36.4 387.9h.1M40.7 390.8h.1M37.8 394.9h.1M36.2 397.8h.1M44.7 383.1h.1M35.5 390.8h.1M42.8 388.6h.1M41.5 391.2h.1M35.9 390.8h.1M52.5 387.6h.1M36.5 393.4h.1M48.0 395.1h.1M38.4 390.2h.1M42.5 389.6h.1M43.4 395.3h.1M44.1 390.5h.1M40.5 398.4h.1M35.5 399.4h.1M45.1 390.9h.1M37.8 398.6h.1M47.4 394.5h.1M51.6 382.5h.1M42.0 389.1h.1M37.9 390.8h.1M44.1 392.8h.1M40.8 384.6h.1M44.2 393.2h.1M51.8 394.6h.1M41.5 385.4h.1M54.8 387.5h.1M42.4 393.8h.1M43.9 396.4h.1M36.4 387.4h.1M42.3 385.0h.1M38.5 396.6h.1M42.9 390.0h.1M38.7 390.7h.1M41.3 385.7h.1M45.3 384.8h.1M47.8 389.0h.1M30.2 383.6h.1M42.9 386.6h.1M50.4 396.6h.1M51.8 394.5h.1M48.1 387.8h.1M47.9 388.6h.1M41.2 384.4h.1M41.7 392.3h.1M41.2 385.6h.1M45.9 394.6h.1M41.0 394.0h.1M46.3 386.1h.1M41.3 382.2h.1M36.3 392.4h.1M37.1 392.3h.1M43.3 381.3h.1M39.1 397.3h.1M41.5 391.1h.1M38.0 383.3h.1M40.5 386.6h.1M42.0 381.8h.1M48.4 398.2h.1M37.7 391.9h.1M37.0 394.3h.1M37.3 389.9h.1M48.0 392.8h.1M39.8 383.7h.1M33.5 395.9h.1M44.0 390.8h.1M47.7 391.2h.1M37.8 390.0h.1M41.0 390.4h.1M53.9 393.1h.1M42.8 389.4h.1M38.1 386.1h.1M32.1 388.4h.1M33.9 382.2h.1M36.8 381.4h.1M48.3 396.1h.1M36.6 399.7h.1M44.8 379.2h.1M41.6 386.0h.1M32.8 389.3h.1M47.2 392.5h.1M34.2 387.5h.1M37.7 395.6h.1M41.0 386.1h.1M36.9 381.7h.1M37.2 394.5h.1M31.9 391.4h.1M40.9 394.2h.1M35.7 394.6h.1M49.2 400.8h.1M33.3 390.4h.1M40.4 391.1h.1M36.5 394.4h.1M53.2 397.3h.1M36.7 387.9h.1M45.1 391.1h.1" stroke="#6a6a6a" stroke-width="0.5" stroke-linecap="round" stroke-opacity="0.35" fill="none"/>
<path d="M47.1 391.7h.1M40.8 392.8h.1M44.0 392.0h.1M42.4 391.2h.1M39.6 390.3h.1M43.6 390.9h.1M43.2 393.2h.1M44.6 385.7h.1M38.2 389.2h.1M40.9 394.2h.1M49.8 395.9h.1M45.9 393.1h.1M40.1 393.5h.1M34.2 394.5h.1M41.4 393.7h.1M38.0 389.5h.1M39.3 392.1h.1M42.6 391.3h.1M42.6 393.9h.1M37.5 392.0h.1M36.2 390.9h.1M44.4 390.5h.1M47.6 393.4h.1M44.4 392.5h.1M44.3 394.9h.1M41.8 390.9h.1M39.6 396.9h.1M40.8 391.1h.1M39.0 388.1h.1M39.7 393.0h.1M39.8 390.4h.1M42.8 393.3h.1M40.0 392.9h.1M38.2 394.3h.1M38.1 391.4h.1M41.9 391.2h.1M37.6 397.3h.1M46.4 388.0h.1M41.8 389.1h.1M42.4 389.0h.1M43.3 393.5h.1M47.1 395.1h.1M39.9 394.5h.1M39.9 391.9h.1M39.7 387.9h.1M43.4 387.3h.1M40.6 393.5h.1M41.8 388.4h.1M39.2 393.9h.1M45.1 396.1h.1M35.4 393.3h.1M39.8 394.1h.1M35.8 391.9h.1M43.8 390.6h.1M40.2 389.8h.1M45.1 389.0h.1M38.4 391.4h.1M40.3 397.3h.1M42.3 390.2h.1M43.3 393.0h.1M42.3 392.0h.1M42.9 389.3h.1M37.4 391.2h.1M37.7 393.9h.1M47.8 395.2h.1M42.9 393.0h.1M39.1 389.0h.1M43.2 388.6h.1M42.4 391.9h.1M43.9 392.3h.1M41.8 390.8h.1M35.7 391.4h.1M43.7 394.7h.1M46.0 389.8h.1M38.3 393.9h.1M39.9 398.5h.1M42.4 388.5h.1M39.6 396.0h.1M35.3 392.6h.1M36.8 396.1h.1M39.9 389.7h.1M35.7 390.5h.1M32.9 391.0h.1M48.6 392.4h.1M40.5 389.4h.1M42.5 391.1h.1M38.6 395.6h.1M42.9 390.0h.1M46.3 392.1h.1M43.1 392.6h.1M45.3 393.7h.1M40.2 393.9h.1M40.1 392.5h.1M46.9 389.6h.1M38.0 391.2h.1M39.7 395.4h.1M36.1 397.8h.1M46.7 391.1h.1M42.0 391.3h.1M43.6 393.8h.1M43.9 394.1h.1M47.8 391.8h.1M43.7 391.7h.1M41.5 392.7h.1M41.2 393.0h.1M38.6 391.8h.1M39.4 389.4h.1M39.0 391.0h.1M40.9 388.4h.1M40.5 389.4h.1M38.7 392.7h.1M45.1 392.9h.1M39.8 391.1h.1M45.9 388.2h.1M45.2 388.5h.1M39.3 392.3h.1M40.7 396.3h.1M43.0 392.1h.1M44.6 392.3h.1M38.7 394.9h.1M46.4 395.3h.1M37.5 396.9h.1M40.0 394.1h.1M45.4 398.0h.1M36.0 389.7h.1M45.3 393.4h.1M40.4 385.1h.1M42.9 391.7h.1M32.7 398.7h.1M33.1 390.8h.1M41.4 392.8h.1M43.9 391.6h.1M38.4 391.3h.1M34.4 389.5h.1M48.0 390.5h.1M41.1 396.8h.1M44.9 392.5h.1M43.8 391.5h.1M38.4 394.6h.1M41.8 396.1h.1M40.5 391.3h.1M42.5 391.7h.1M40.4 390.0h.1M42.2 393.0h.1M47.5 392.1h.1M35.6 393.3h.1M49.0 391.1h.1M38.7 391.8h.1M31.9 391.4h.1M40.8 388.5h.1M43.3 390.1h.1M35.2 390.4h.1M43.5 396.9h.1M45.6 392.7h.1M39.7 391.6h.1M44.6 390.9h.1M42.8 394.6h.1M38.4 390.8h.1M42.9 392.2h.1M41.0 390.9h.1M41.2 396.7h.1M45.9 388.3h.1M41.6 392.4h.1M41.5 388.8h.1M41.0 392.6h.1M39.1 393.0h.1M33.3 388.5h.1M41.7 393.2h.1M40.8 391.1h.1M42.0 394.9h.1M44.4 392.0h.1M39.8 394.8h.1M43.2 394.4h.1M40.5 390.1h.1M42.0 390.7h.1M45.2 394.3h.1M34.1 393.8h.1M45.8 394.7h.1M39.8 390.1h.1M44.6 394.7h.1M41.6 389.4h.1M36.3 392.9h.1M38.6 390.5h.1M42.9 394.8h.1M34.5 390.6h.1M45.7 392.1h.1M40.3 393.8h.1M37.6 389.2h.1M41.5 396.0h.1M44.8 392.2h.1M44.8 391.2h.1M37.5 388.1h.1M42.3 394.4h.1M42.6 392.1h.1M40.1 394.9h.1M41.2 388.7h.1M46.0 390.6h.1M42.7 392.2h.1M44.9 392.8h.1M45.5 392.7h.1M39.9 391.0h.1M43.6 390.2h.1M44.5 391.6h.1M38.3 390.1h.1M40.9 396.5h.1M44.0 392.2h.1M38.4 396.9h.1M40.5 392.2h.1M40.0 395.5h.1M42.0 391.1h.1M42.0 389.8h.1M37.9 391.8h.1M31.8 395.1h.1M48.0 389.5h.1M40.9 388.3h.1M42.0 392.7h.1M43.9 388.9h.1M39.4 390.6h.1M40.6 397.8h.1M40.7 392.1h.1M39.7 394.2h.1M50.0 395.0h.1M46.5 389.6h.1M44.9 392.3h.1M45.6 394.8h.1M43.6 388.1h.1M41.8 391.0h.1M42.9 392.3h.1M44.9 388.3h.1M38.9 392.0h.1M42.5 391.2h.1M41.3 392.3h.1M44.9 391.9h.1M42.2 387.7h.1M32.7 388.6h.1M42.6 386.5h.1M42.8 392.0h.1M41.4 390.4h.1M40.0 394.2h.1M42.6 392.1h.1M39.8 392.7h.1M45.4 392.2h.1M40.2 389.3h.1M41.7 389.9h.1M36.6 394.3h.1M39.3 387.2h.1M39.0 396.7h.1M41.0 388.9h.1M37.7 394.0h.1M42.8 392.7h.1M40.7 393.4h.1M46.5 393.4h.1M40.9 388.8h.1M42.9 396.0h.1M43.6 389.1h.1M42.0 395.4h.1M39.3 393.4h.1M45.4 396.2h.1M36.1 387.9h.1M42.7 393.9h.1M40.2 392.1h.1M40.0 395.1h.1M34.0 392.8h.1M37.1 390.5h.1M36.3 390.0h.1M41.3 392.3h.1M47.4 391.7h.1M42.6 393.1h.1M42.3 395.8h.1M41.9 392.6h.1M41.0 392.2h.1M41.2 394.6h.1M41.5 392.4h.1M41.2 394.1h.1M39.8 394.5h.1M39.5 393.9h.1M47.8 392.8h.1M41.1 389.3h.1M43.9 392.2h.1M44.4 390.6h.1M43.1 396.6h.1M42.7 391.4h.1M37.0 392.2h.1M43.6 393.7h.1M37.7 389.7h.1M38.1 389.7h.1M40.5 392.9h.1M47.8 392.7h.1M46.3 388.1h.1M46.6 394.2h.1M42.9 394.2h.1M43.5 396.9h.1M44.1 387.9h.1M35.5 396.2h.1M41.1 395.5h.1M40.3 390.6h.1M40.2 393.0h.1M42.0 390.7h.1M43.2 393.7h.1M38.3 389.5h.1M34.8 391.4h.1M41.4 390.5h.1M39.4 391.9h.1M41.5 393.6h.1M44.2 393.3h.1M45.2 389.8h.1M43.4 393.1h.1M37.9 390.5h.1M42.9 392.4h.1M37.2 390.8h.1M46.5 394.3h.1M41.7 395.5h.1M38.4 391.8h.1M44.6 391.4h.1M37.6 393.6h.1M46.8 385.9h.1M41.9 389.1h.1M40.4 388.7h.1M50.1 390.5h.1M41.5 390.5h.1M38.1 391.1h.1M42.1 396.5h.1M42.4 396.1h.1M37.8 392.4h.1M39.9 388.3h.1M53.9 391.6h.1M42.2 390.3h.1M39.5 389.6h.1M44.8 391.2h.1M40.9 392.6h.1M37.3 392.8h.1M40.8 393.3h.1M40.1 392.3h.1M43.1 394.6h.1M39.1 394.6h.1M38.1 391.7h.1M41.8 392.6h.1M33.0 389.8h.1M40.8 394.5h.1M39.0 395.9h.1M35.3 392.4h.1M43.2 392.2h.1M42.3 394.5h.1M38.7 393.7h.1M45.0 391.6h.1M33.6 389.3h.1M38.5 389.6h.1M42.8 390.2h.1M49.7 393.6h.1M37.0 391.5h.1M46.5 393.9h.1M38.0 394.8h.1M39.8 397.7h.1M39.5 393.7h.1M43.3 391.1h.1M40.9 395.1h.1M43.1 392.1h.1M42.9 396.5h.1M44.5 393.4h.1M42.5 388.3h.1M41.9 391.0h.1M43.9 390.7h.1M42.9 389.6h.1M44.4 390.4h.1M41.3 393.6h.1M40.3 392.2h.1M45.0 396.6h.1M35.3 390.0h.1M43.7 394.5h.1M39.8 392.4h.1M40.8 397.8h.1M40.7 389.3h.1M36.2 389.0h.1M45.8 391.2h.1M47.9 393.8h.1M42.7 393.8h.1M44.1 394.5h.1M38.1 390.8h.1M39.6 392.5h.1M40.6 389.2h.1M39.1 396.6h.1M48.5 390.1h.1M42.7 392.1h.1M38.6 394.0h.1M41.2 396.3h.1M42.9 391.4h.1M32.5 391.9h.1M44.2 390.4h.1M44.4 393.9h.1M35.5 391.7h.1M42.5 394.1h.1M41.9 392.2h.1M40.2 391.5h.1M41.4 389.6h.1M43.6 391.4h.1M43.2 390.9h.1M42.8 392.5h.1M44.4 393.3h.1M44.5 391.8h.1M41.2 391.6h.1M37.2 391.9h.1M45.1 394.1h.1M38.5 392.9h.1M43.9 388.8h.1M42.6 393.0h.1M43.9 392.8h.1M35.6 387.2h.1M48.1 391.2h.1M45.7 395.3h.1M41.7 389.4h.1M46.0 392.1h.1M43.1 393.4h.1M44.6 394.7h.1M36.6 388.7h.1M41.9 392.2h.1M44.0 391.9h.1M40.8 397.2h.1M46.0 395.1h.1M44.9 390.3h.1M41.1 392.0h.1M37.7 390.1h.1M41.9 389.2h.1M43.2 393.4h.1M40.6 391.4h.1M43.4 393.4h.1M42.6 389.2h.1M35.9 397.2h.1M39.2 391.3h.1M35.3 390.2h.1M38.9 394.2h.1M32.5 388.8h.1M40.0 391.0h.1M38.8 391.1h.1M36.1 392.9h.1M45.4 392.6h.1M39.6 395.3h.1M43.0 389.7h.1M39.5 390.7h.1M41.2 395.2h.1M39.0 391.8h.1M41.8 389.3h.1M39.8 393.7h.1M45.2 387.6h.1M43.8 391.5h.1M45.7 393.7h.1M48.0 393.0h.1M40.1 390.2h.1M36.6 393.6h.1M43.1 394.2h.1M42.6 388.5h.1M40.0 391.6h.1M41.9 394.1h.1M46.2 392.9h.1M34.5 389.7h.1M34.2 390.3h.1M37.4 392.8h.1M40.7 394.9h.1M45.0 391.1h.1M44.6 392.2h.1M42.9 395.5h.1M37.5 392.0h.1M46.6 390.3h.1M42.1 392.5h.1M40.0 389.0h.1M39.1 389.8h.1M45.0 392.8h.1M43.8 389.3h.1M43.1 392.6h.1M44.9 390.4h.1M44.1 395.6h.1M47.5 389.9h.1M37.6 388.6h.1M44.6 393.7h.1M42.5 390.1h.1M45.6 396.1h.1M41.3 391.9h.1M45.4 393.4h.1M45.9 391.2h.1M42.5 391.4h.1M39.5 391.5h.1M40.4 393.4h.1M40.4 392.4h.1M38.7 389.2h.1M46.2 389.8h.1M47.5 394.5h.1M33.7 390.6h.1M40.0 392.3h.1M40.8 390.7h.1M45.6 391.9h.1M44.6 390.5h.1M39.1 395.5h.1M40.5 389.5h.1M40.8 394.8h.1M40.9 390.4h.1M43.5 394.6h.1M40.7 391.4h.1M40.2 398.8h.1M40.8 396.5h.1M40.9 393.2h.1M34.6 392.6h.1M41.6 391.4h.1M40.0 388.9h.1M36.4 392.6h.1M39.3 392.0h.1M40.8 391.0h.1M39.0 396.7h.1M37.7 391.0h.1M40.4 389.4h.1M38.2 394.3h.1M44.5 392.5h.1M52.3 394.2h.1M45.5 390.2h.1M45.0 396.3h.1M40.1 396.6h.1M38.7 389.4h.1M41.3 390.2h.1M43.5 389.5h.1M41.7 387.4h.1M41.3 394.8h.1M40.5 393.0h.1M45.1 389.5h.1M37.1 392.4h.1M42.3 391.5h.1M38.2 395.2h.1M37.5 391.6h.1M41.3 394.0h.1M39.9 390.2h.1M48.2 390.1h.1M44.1 391.8h.1M39.8 392.1h.1M40.6 393.0h.1M32.9 392.1h.1M41.7 389.8h.1M40.1 397.9h.1M47.6 393.8h.1M42.2 391.5h.1M46.1 391.1h.1M38.7 393.9h.1M38.2 390.3h.1M46.3 388.3h.1M41.2 392.5h.1M42.3 388.6h.1M40.6 391.4h.1M47.9 394.7h.1M38.9 394.3h.1M43.6 391.9h.1M40.6 391.5h.1M36.2 390.7h.1M44.6 395.7h.1M47.6 391.3h.1M43.5 386.3h.1M40.5 389.1h.1M44.2 388.2h.1M37.9 389.5h.1M42.7 394.2h.1M38.3 396.6h.1M42.0 390.2h.1M42.6 392.2h.1M44.2 393.0h.1M48.8 395.1h.1M39.3 394.1h.1M44.0 389.8h.1M38.9 390.2h.1M33.1 393.8h.1M40.7 395.2h.1M39.5 392.4h.1M43.9 394.6h.1M42.5 389.7h.1M48.8 394.3h.1M46.0 396.1h.1M46.1 393.2h.1M43.0 393.7h.1M36.4 394.2h.1M38.2 393.2h.1M38.0 393.9h.1M39.8 398.3h.1M42.1 393.4h.1M38.4 391.5h.1M41.2 391.5h.1M40.0 390.1h.1M44.0 391.3h.1M38.7 393.1h.1M38.7 391.8h.1M39.7 389.9h.1M40.7 390.2h.1M37.2 393.1h.1M40.4 388.6h.1M40.1 392.7h.1M42.9 393.1h.1M42.3 393.7h.1M39.8 390.3h.1M43.5 391.2h.1M41.5 393.8h.1M44.6 395.2h.1M39.1 391.3h.1M43.3 388.7h.1M37.2 393.7h.1M39.4 390.0h.1M44.1 393.5h.1M44.5 391.4h.1M40.5 391.4h.1M42.4 387.3h.1M39.1 393.9h.1M38.8 392.0h.1M41.8 393.5h.1M39.8 389.4h.1M49.8 390.5h.1M47.2 387.9h.1M41.8 391.7h.1M47.8 397.2h.1M44.7 389.7h.1M38.7 390.4h.1M39.7 392.8h.1M38.8 391.6h.1M46.4 395.7h.1M35.2 389.9h.1M40.2 395.4h.1M40.3 396.8h.1M42.7 395.7h.1M38.6 391.4h.1M44.8 393.6h.1M35.2 391.5h.1M42.0 393.7h.1M39.3 396.4h.1M41.9 395.7h.1M42.8 392.4h.1M40.4 389.4h.1M44.3 394.0h.1M44.6 391.3h.1M38.1 391.3h.1M40.4 392.2h.1M44.7 390.0h.1M39.8 393.9h.1M44.5 397.6h.1M43.2 390.1h.1M38.0 390.3h.1M41.7 392.8h.1M41.2 390.7h.1M40.8 392.0h.1M43.4 392.4h.1M38.7 389.4h.1M46.4 392.0h.1M40.9 392.1h.1M45.2 391.4h.1M42.0 391.6h.1M43.4 389.8h.1M42.1 394.7h.1M45.4 393.7h.1M42.4 396.0h.1M43.8 395.6h.1M37.4 389.5h.1M44.1 391.6h.1M40.0 389.9h.1M46.4 389.3h.1M41.8 388.8h.1M40.9 397.6h.1M49.6 391.0h.1M38.1 396.1h.1M38.6 387.9h.1M42.6 389.6h.1M36.6 394.9h.1M39.0 389.6h.1M42.0 391.7h.1M45.2 392.4h.1M46.7 395.0h.1M47.4 394.9h.1M41.7 393.5h.1M41.5 388.4h.1M37.5 394.0h.1M33.6 390.2h.1M37.2 392.1h.1M38.0 392.8h.1M40.8 391.1h.1M38.6 386.8h.1M41.7 389.1h.1M40.5 393.1h.1M44.9 393.9h.1M46.4 388.8h.1M43.7 396.0h.1M42.8 389.5h.1M42.8 391.0h.1M39.3 394.8h.1M40.9 389.5h.1M39.2 397.0h.1M38.6 393.8h.1M42.0 395.0h.1M40.5 389.9h.1M39.3 389.7h.1M50.1 392.7h.1M40.4 395.3h.1M43.6 391.8h.1M43.5 392.9h.1M45.2 396.2h.1M40.4 392.1h.1M40.8 395.2h.1M42.7 394.1h.1M44.4 390.7h.1M41.9 395.6h.1M44.5 394.2h.1M40.5 391.3h.1M38.6 391.6h.1M41.2 388.7h.1M45.3 390.4h.1M42.3 393.7h.1M39.6 387.8h.1M44.7 393.2h.1M40.6 394.9h.1M44.4 389.9h.1M41.2 387.9h.1M40.6 395.6h.1M38.7 394.2h.1M36.4 391.5h.1M44.6 396.4h.1M43.0 394.0h.1M47.2 386.3h.1M35.8 396.8h.1M49.6 393.7h.1M41.7 392.8h.1M41.6 390.7h.1M41.4 391.9h.1M43.7 393.9h.1M44.7 393.6h.1M38.2 395.6h.1M32.6 392.5h.1M42.6 390.9h.1M47.7 389.6h.1M37.6 391.0h.1M42.8 394.1h.1M41.8 393.8h.1M39.1 390.7h.1M41.9 389.0h.1M42.1 391.3h.1M43.7 389.8h.1M39.7 390.8h.1M40.2 389.8h.1M40.6 388.9h.1M43.2 393.8h.1M41.4 391.8h.1M38.5 389.9h.1M40.7 390.0h.1M37.6 392.6h.1M41.4 391.2h.1M38.8 392.1h.1M39.2 391.2h.1M42.1 393.9h.1M44.0 390.7h.1M45.4 389.4h.1M40.9 395.4h.1M49.3 392.5h.1M40.3 391.3h.1M37.5 391.9h.1M40.1 390.4h.1M45.4 390.3h.1M47.0 394.2h.1M43.6 390.8h.1M39.8 387.4h.1M42.4 391.6h.1M42.7 390.6h.1M43.1 388.6h.1M34.2 393.4h.1M45.0 384.6h.1M45.7 391.4h.1M40.9 388.5h.1M38.2 393.9h.1M39.0 392.1h.1M40.9 397.0h.1M44.4 389.0h.1M39.9 389.4h.1M36.9 390.6h.1M45.1 392.3h.1M43.7 391.9h.1M40.1 392.4h.1M41.2 396.9h.1M47.4 393.1h.1M43.4 387.4h.1M41.0 398.0h.1M38.8 394.2h.1M45.5 391.2h.1M40.7 391.1h.1M44.1 392.3h.1M46.4 395.1h.1M41.4 398.5h.1M40.4 390.7h.1M40.7 390.1h.1M40.1 392.0h.1M44.4 388.4h.1M36.8 390.3h.1M40.4 393.3h.1M38.9 395.9h.1M39.7 391.7h.1M41.6 395.0h.1M42.4 392.3h.1M39.7 392.6h.1M42.8 391.4h.1M41.4 387.8h.1M39.7 395.1h.1M46.1 392.0h.1M34.4 396.6h.1M40.9 398.4h.1M40.1 394.6h.1M39.4 395.5h.1M45.2 389.6h.1M45.7 399.1h.1M40.7 389.3h.1M42.3 391.2h.1M36.5 389.7h.1M42.2 388.5h.1M45.0 393.3h.1M40.9 395.6h.1M38.4 393.9h.1M37.0 391.4h.1M43.5 390.9h.1M41.1 393.8h.1M46.4 395.4h.1M42.9 391.6h.1M36.7 396.4h.1M47.6 387.0h.1M44.3 392.1h.1M43.8 393.0h.1M40.8 392.2h.1M41.3 395.0h.1M40.6 390.9h.1M43.6 393.8h.1M42.9 392.9h.1M46.3 394.9h.1M42.1 391.7h.1M43.6 387.7h.1M39.7 390.5h.1M42.0 391.3h.1M49.5 394.0h.1M42.8 397.7h.1M41.4 391.4h.1M45.5 394.2h.1M44.5 395.1h.1M40.2 390.6h.1M39.1 392.5h.1M44.7 389.6h.1M39.7 389.0h.1M48.0 394.1h.1M42.1 389.2h.1M38.1 390.6h.1M41.5 389.1h.1M40.7 395.2h.1M41.5 392.4h.1M34.6 391.5h.1M41.0 390.5h.1M36.9 392.0h.1M38.1 390.9h.1M36.2 392.0h.1M44.4 390.2h.1M42.5 388.5h.1M43.3 393.5h.1M40.2 394.4h.1M38.6 392.3h.1M46.9 392.1h.1M37.8 395.0h.1M43.2 391.5h.1M35.5 387.6h.1M36.5 395.8h.1M42.4 390.1h.1M45.2 395.8h.1M38.7 393.4h.1M36.1 393.1h.1M47.4 388.8h.1M41.6 390.7h.1M41.1 392.4h.1M42.3 394.4h.1M43.1 394.8h.1M44.7 394.9h.1M39.2 393.2h.1M40.2 390.1h.1M47.8 392.9h.1M41.6 387.1h.1M40.7 394.1h.1M40.8 390.9h.1M46.2 391.4h.1M40.3 392.0h.1M40.7 394.8h.1M43.3 392.0h.1M40.3 391.7h.1M46.9 391.5h.1M43.6 388.4h.1M42.5 393.9h.1M45.6 393.0h.1M43.3 393.0h.1M44.9 397.2h.1M42.1 390.2h.1M43.4 391.9h.1M43.5 394.1h.1M41.9 391.1h.1M42.4 389.2h.1M42.3 390.0h.1M42.9 392.5h.1M40.7 389.3h.1M41.6 390.5h.1M41.0 393.9h.1M44.5 389.1h.1M44.5 395.5h.1M45.1 392.9h.1M41.1 396.4h.1M40.4 388.5h.1M41.7 392.9h.1M38.1 389.2h.1M47.9 392.5h.1M44.0 390.8h.1M36.5 391.8h.1M45.8 390.6h.1M35.6 391.8h.1M40.5 392.2h.1M38.0 391.4h.1M39.7 394.4h.1M41.9 394.3h.1M41.3 387.0h.1M35.1 393.5h.1M44.3 394.3h.1M41.2 387.8h.1M39.8 393.2h.1M45.9 391.4h.1M39.6 390.3h.1M44.8 394.3h.1M35.5 395.2h.1M38.4 388.6h.1M36.3 390.4h.1M49.0 398.4h.1M37.4 390.6h.1M41.9 393.2h.1M39.9 388.3h.1M40.1 390.5h.1M35.6 392.6h.1M36.7 388.0h.1M46.4 394.5h.1M46.1 392.5h.1M40.1 392.0h.1M37.0 394.0h.1M42.3 391.5h.1M35.4 391.9h.1M46.7 395.7h.1M44.3 391.3h.1M41.9 393.6h.1M42.1 394.8h.1M39.3 386.5h.1M33.5 390.0h.1M36.9 393.8h.1M44.9 392.2h.1M43.2 392.4h.1M42.0 391.1h.1M40.1 395.1h.1M40.6 392.1h.1M45.3 394.6h.1M40.2 392.8h.1M38.1 392.5h.1M42.5 392.2h.1M42.0 393.1h.1M33.2 390.2h.1M41.7 391.0h.1M38.3 391.6h.1M46.7 391.6h.1M39.3 391.0h.1M37.6 393.4h.1M38.2 394.4h.1M44.4 393.6h.1M44.8 392.0h.1M35.7 392.0h.1M43.5 388.4h.1M37.5 394.9h.1M42.9 395.5h.1M43.6 392.4h.1M42.8 394.3h.1M41.3 391.7h.1M42.5 391.4h.1M49.3 390.3h.1M36.5 389.0h.1M44.9 391.2h.1M42.0 391.7h.1M42.3 388.7h.1M41.7 390.8h.1M45.0 393.7h.1M37.3 389.8h.1M43.3 395.1h.1M43.9 391.8h.1M45.1 386.4h.1M39.7 389.8h.1M38.1 393.6h.1M42.3 392.9h.1M41.0 393.7h.1M44.0 390.8h.1M44.5 389.9h.1M47.2 389.0h.1M40.5 389.6h.1M41.6 395.4h.1M39.0 396.5h.1M46.1 393.1h.1M39.5 394.4h.1M32.1 390.3h.1M44.6 392.1h.1M49.6 390.5h.1M37.1 391.7h.1M43.3 396.4h.1M35.7 392.6h.1M45.6 390.6h.1" stroke="#1a1a1a" stroke-width="0.6" stroke-linecap="round" stroke-opacity="0.5" fill="none"/>
<path d="M73.4 367.1h.1M64.4 377.4h.1M65.0 370.1h.1M56.6 369.8h.1M63.6 372.0h.1M63.2 374.7h.1M56.3 365.7h.1M67.3 368.4h.1M53.1 382.5h.1M56.6 365.7h.1M65.0 364.5h.1M56.4 377.6h.1M56.6 386.3h.1M61.0 387.4h.1M61.1 371.6h.1M57.5 370.0h.1M58.1 371.2h.1M64.1 363.7h.1M56.2 358.7h.1M67.6 370.9h.1M60.4 371.0h.1M65.2 373.2h.1M64.5 370.3h.1M59.9 371.0h.1M51.7 377.8h.1M53.1 365.3h.1M63.7 371.6h.1M64.3 381.5h.1M69.3 379.6h.1M59.4 383.6h.1M56.4 370.8h.1M65.2 370.0h.1M59.9 369.2h.1M66.9 356.5h.1M66.5 377.7h.1M60.2 374.7h.1M55.9 378.0h.1M74.9 365.8h.1M67.1 371.0h.1M58.9 368.4h.1M59.6 363.8h.1M54.1 381.3h.1M60.4 374.6h.1M62.0 374.2h.1M53.3 365.6h.1M63.5 377.3h.1M55.1 367.8h.1M55.5 375.2h.1M62.1 371.5h.1M57.4 373.4h.1M60.7 366.8h.1M62.1 367.3h.1M65.0 375.1h.1M57.3 374.8h.1M60.8 367.1h.1M56.2 361.3h.1M55.2 373.4h.1M66.2 367.5h.1M61.3 373.4h.1M64.2 374.0h.1M66.3 375.9h.1M56.9 373.7h.1M49.5 370.2h.1M60.6 374.8h.1M59.1 376.3h.1M66.7 366.3h.1M57.9 372.9h.1M62.8 372.2h.1M64.4 364.2h.1M64.1 378.3h.1M65.7 373.9h.1M59.4 373.7h.1M60.1 361.8h.1M57.7 371.1h.1M58.1 365.7h.1M59.4 369.1h.1M60.8 371.0h.1M61.3 377.3h.1M61.1 373.7h.1M54.8 353.6h.1M58.6 375.4h.1M58.9 367.6h.1M54.7 376.7h.1M58.0 372.8h.1M65.8 374.5h.1M71.0 370.5h.1M65.0 375.5h.1M57.4 371.6h.1M57.8 365.2h.1M61.9 366.7h.1M68.4 366.9h.1M57.9 371.8h.1M58.1 371.6h.1M57.6 362.8h.1M49.2 363.6h.1M67.7 374.0h.1M61.2 368.5h.1M59.8 373.1h.1M54.0 366.5h.1M56.3 378.9h.1M55.5 378.3h.1M58.3 387.7h.1M60.1 371.5h.1M66.8 376.5h.1M64.9 364.9h.1M65.8 381.4h.1M60.0 368.4h.1M55.4 377.4h.1M61.9 371.3h.1M54.7 381.0h.1M64.6 371.2h.1M67.4 365.6h.1M64.6 365.3h.1M67.1 369.6h.1M66.2 368.8h.1M62.4 378.2h.1M56.3 371.9h.1M56.6 376.4h.1M57.7 369.1h.1M59.5 378.3h.1M55.6 371.1h.1M59.0 368.0h.1M56.8 370.3h.1M61.4 362.0h.1M61.6 364.2h.1M60.6 385.0h.1M56.0 370.9h.1M59.3 377.2h.1M58.3 360.6h.1M52.9 372.4h.1M61.7 377.7h.1M58.0 375.3h.1M55.5 379.1h.1M60.2 367.2h.1M61.3 381.8h.1M56.5 363.9h.1M55.7 364.4h.1M60.3 373.4h.1M59.7 372.5h.1M66.1 369.6h.1M54.6 357.6h.1M61.6 367.2h.1M59.3 373.8h.1M62.7 361.9h.1M56.0 371.7h.1M59.8 378.2h.1M58.1 358.9h.1M66.0 361.5h.1M55.9 373.6h.1M55.5 386.2h.1M61.6 374.5h.1M58.4 384.6h.1M63.0 367.0h.1M66.4 361.2h.1M57.7 373.0h.1M61.1 365.5h.1M67.9 380.1h.1M56.1 373.5h.1M57.5 368.7h.1M65.1 372.1h.1M60.0 371.9h.1M55.0 378.6h.1M57.0 379.2h.1M58.3 368.6h.1M67.5 372.4h.1M57.5 368.1h.1M63.3 382.5h.1M63.4 368.9h.1M55.2 367.3h.1M59.9 372.8h.1M57.4 379.0h.1M56.0 367.0h.1M62.8 374.2h.1M58.7 377.1h.1M53.9 381.1h.1M70.8 383.0h.1M61.1 383.1h.1M60.8 379.3h.1M59.6 372.5h.1M63.0 360.8h.1M59.5 381.6h.1M46.8 373.6h.1M64.8 373.3h.1M61.4 379.6h.1M62.1 359.9h.1M56.1 369.5h.1M61.2 368.6h.1M60.0 381.3h.1M46.7 378.2h.1M64.9 374.9h.1M60.6 371.7h.1M62.2 372.8h.1M57.1 376.0h.1M56.6 371.1h.1M58.8 364.4h.1M63.3 370.9h.1M55.0 370.8h.1M54.0 379.9h.1M62.9 383.2h.1M57.8 375.5h.1M56.0 366.2h.1M60.1 373.8h.1M64.8 369.7h.1M65.7 377.1h.1M56.4 370.2h.1M56.2 381.5h.1M57.9 376.6h.1M64.8 369.8h.1M58.2 373.4h.1M56.9 363.7h.1M56.0 373.3h.1M61.4 381.8h.1M51.9 374.3h.1M55.1 378.2h.1M63.8 372.1h.1M67.4 369.1h.1M58.0 365.0h.1M57.4 372.0h.1M63.6 378.9h.1M59.2 366.9h.1M58.9 368.7h.1M58.3 368.9h.1M56.4 371.0h.1M58.1 370.3h.1M54.0 372.2h.1M63.2 375.2h.1M57.9 364.5h.1M54.4 364.3h.1M57.5 369.5h.1M52.2 375.3h.1M53.3 367.2h.1M57.1 376.2h.1M69.1 369.2h.1M59.2 369.0h.1M59.6 370.3h.1M72.0 364.8h.1M60.0 366.6h.1M62.2 368.2h.1M63.2 364.9h.1M70.3 372.5h.1M52.3 375.5h.1M58.3 364.4h.1M62.6 368.2h.1M63.9 368.1h.1M64.7 372.2h.1M62.2 372.2h.1M58.8 369.2h.1M62.6 375.5h.1M58.6 384.6h.1M68.4 364.5h.1M65.6 370.9h.1M61.6 366.6h.1M68.2 366.4h.1M60.1 367.0h.1M69.5 378.7h.1M54.4 368.6h.1M62.2 368.8h.1M58.9 364.9h.1M61.7 364.8h.1M64.4 385.5h.1M59.0 381.0h.1M62.2 367.3h.1M58.9 365.6h.1M61.0 375.4h.1M64.8 369.7h.1M55.0 370.9h.1M68.3 373.0h.1M60.2 359.0h.1M58.5 374.5h.1M56.1 379.3h.1M57.9 366.2h.1M57.8 370.8h.1M65.1 368.0h.1M52.2 370.8h.1M62.9 380.4h.1M55.3 380.0h.1M63.6 374.0h.1M56.9 366.1h.1M56.1 376.8h.1M61.5 377.6h.1M68.9 371.4h.1M60.3 382.6h.1M54.5 368.7h.1M58.8 369.1h.1M61.2 366.4h.1M65.9 363.3h.1M56.7 361.4h.1M54.0 374.8h.1M63.4 370.2h.1M64.4 375.0h.1M57.8 371.1h.1M62.2 383.1h.1M58.5 373.5h.1M63.0 378.5h.1M62.5 377.6h.1M55.6 369.8h.1M51.6 371.0h.1M71.3 372.8h.1M60.9 372.9h.1M61.2 363.6h.1M57.3 370.3h.1M61.3 366.3h.1M60.0 367.0h.1M54.4 367.5h.1M56.8 376.3h.1M66.7 374.7h.1M59.5 368.1h.1M53.2 368.2h.1M67.7 378.1h.1M61.5 369.9h.1M60.5 373.8h.1M60.5 373.8h.1M56.9 371.6h.1M58.9 377.6h.1M54.8 378.9h.1M60.1 368.4h.1M60.6 372.1h.1M59.4 373.8h.1M57.8 361.4h.1M63.7 371.2h.1M68.2 373.6h.1M51.3 378.6h.1M57.3 374.5h.1M70.8 377.7h.1M55.4 370.8h.1M53.1 375.3h.1M63.1 365.3h.1M62.6 376.8h.1M64.2 367.4h.1M57.3 364.8h.1M54.5 373.2h.1M60.7 379.0h.1M61.8 369.5h.1M53.9 380.4h.1M61.3 371.2h.1M55.9 365.2h.1M63.4 365.7h.1M63.2 375.0h.1M58.7 361.9h.1M62.4 379.6h.1M56.7 364.0h.1M65.5 372.2h.1M57.6 378.5h.1M59.2 374.0h.1M58.6 367.0h.1M61.5 366.3h.1M52.3 368.2h.1M66.2 377.8h.1M70.5 377.1h.1M67.9 372.8h.1M58.5 374.1h.1M56.1 375.6h.1M58.4 372.9h.1M56.6 370.6h.1M65.0 370.1h.1M57.4 373.0h.1M64.6 370.3h.1M55.1 362.3h.1M54.3 377.6h.1M60.1 374.1h.1M65.5 373.0h.1M62.7 368.4h.1M53.1 375.0h.1M60.1 374.7h.1M55.6 370.5h.1M69.8 366.5h.1M61.0 379.0h.1M59.4 372.1h.1M50.7 375.9h.1M58.5 378.8h.1M60.1 369.2h.1M62.5 370.0h.1M58.1 380.3h.1M65.0 372.0h.1M64.2 376.2h.1M63.2 371.6h.1M60.8 373.7h.1M63.1 373.4h.1M58.0 370.9h.1M62.6 365.7h.1M60.5 375.8h.1M61.3 369.7h.1M60.4 368.6h.1M65.0 369.2h.1M52.8 364.4h.1M61.9 372.6h.1M58.3 363.8h.1M59.8 366.5h.1M57.5 371.4h.1M57.0 373.2h.1M57.1 368.7h.1M59.5 379.8h.1M67.8 376.8h.1M57.1 371.4h.1M64.7 376.0h.1M53.0 371.1h.1M57.1 375.7h.1M63.4 368.3h.1M70.4 369.8h.1M71.7 370.4h.1M60.1 382.3h.1M58.1 368.7h.1M67.3 371.2h.1M62.7 364.2h.1M68.7 377.0h.1M62.1 375.4h.1M58.2 368.7h.1M53.3 373.5h.1M66.2 376.3h.1M64.7 375.5h.1M56.3 363.9h.1M63.4 372.3h.1M65.0 369.8h.1M56.4 373.9h.1M57.9 362.0h.1M57.7 366.4h.1M55.4 368.2h.1M64.9 384.9h.1M68.4 369.0h.1M65.8 371.0h.1M62.4 367.5h.1M60.2 361.8h.1M68.7 367.0h.1M63.2 368.0h.1M61.7 364.7h.1M58.8 376.6h.1M63.2 360.3h.1M64.4 363.9h.1M61.8 374.4h.1M57.5 369.6h.1M59.4 373.7h.1M64.7 379.2h.1M62.0 382.8h.1M56.1 381.6h.1M59.3 375.8h.1M59.9 371.9h.1M56.3 373.6h.1M69.8 372.2h.1M60.4 371.4h.1M63.8 370.2h.1M60.5 372.6h.1M66.5 376.8h.1M55.7 367.8h.1M60.6 376.2h.1M65.0 370.2h.1M70.3 370.5h.1M67.0 379.5h.1M67.8 372.5h.1M63.2 362.7h.1M52.3 367.9h.1M63.8 377.5h.1M60.0 377.3h.1M63.2 380.1h.1M53.2 366.7h.1M56.1 365.4h.1M68.1 366.1h.1M56.7 369.1h.1M64.6 368.8h.1M63.9 374.5h.1M57.6 357.9h.1M56.3 364.3h.1M68.0 367.3h.1M55.6 373.5h.1M60.7 366.1h.1M65.5 376.6h.1M61.8 367.1h.1M56.5 359.7h.1M62.3 373.6h.1M56.3 371.5h.1M75.6 365.0h.1M52.6 374.9h.1M58.5 368.6h.1M63.4 370.6h.1M65.1 374.3h.1M65.8 372.1h.1M50.6 379.1h.1M52.7 377.3h.1M61.7 363.5h.1M60.8 376.4h.1M55.8 371.6h.1M57.1 365.7h.1M57.7 378.7h.1M63.7 371.2h.1M60.1 372.1h.1M61.8 372.4h.1M52.6 376.6h.1M56.6 356.5h.1M63.7 364.5h.1M59.8 370.8h.1M57.8 374.4h.1M59.2 369.8h.1M56.1 369.8h.1M55.7 371.6h.1M66.6 377.1h.1M62.5 363.6h.1M65.2 376.7h.1M70.0 358.5h.1M60.6 369.5h.1M65.5 365.2h.1M58.7 384.6h.1M65.1 360.0h.1M60.6 379.2h.1M57.6 374.8h.1M61.0 363.0h.1M57.6 377.8h.1M66.0 367.9h.1M65.7 367.3h.1M61.6 371.2h.1M54.7 373.2h.1M58.7 355.7h.1M56.7 366.5h.1M56.6 365.8h.1M57.3 357.3h.1M64.6 371.8h.1M61.7 369.8h.1M60.8 369.8h.1M55.5 362.7h.1M60.8 377.2h.1M61.6 380.6h.1M54.2 369.8h.1M57.6 378.4h.1M68.3 368.4h.1M63.9 370.0h.1M55.9 370.7h.1M55.7 380.2h.1M63.2 378.1h.1M62.2 357.4h.1M64.2 371.9h.1M49.5 371.9h.1M65.2 381.1h.1M55.8 375.9h.1M62.0 370.3h.1M59.2 374.4h.1M63.2 375.1h.1M58.6 363.8h.1M66.6 378.8h.1M57.9 371.1h.1M64.2 361.2h.1M62.8 385.2h.1M61.8 367.3h.1M69.9 371.4h.1M61.5 368.9h.1M61.3 361.0h.1M54.6 362.9h.1M64.7 370.8h.1M65.8 359.6h.1M57.7 379.7h.1M56.8 360.6h.1M57.1 369.3h.1M60.4 378.8h.1M66.6 380.2h.1M63.2 368.4h.1M58.2 362.8h.1M66.4 378.5h.1M60.9 366.2h.1M63.6 374.1h.1M61.2 364.6h.1M61.6 368.1h.1M63.9 374.7h.1M62.5 368.9h.1M67.5 375.8h.1M66.4 376.1h.1M63.6 373.6h.1M55.6 360.9h.1M56.2 374.8h.1M64.7 372.4h.1M60.9 381.9h.1M58.7 361.1h.1M53.4 369.5h.1M63.7 375.5h.1M59.5 376.0h.1M60.3 367.1h.1M58.8 375.7h.1M64.9 364.8h.1M55.9 372.0h.1M70.3 364.6h.1M54.7 373.7h.1M62.8 367.8h.1M60.4 374.1h.1M52.5 371.2h.1M63.3 376.6h.1M65.9 370.9h.1M53.9 379.0h.1M64.1 367.6h.1M65.3 377.3h.1M59.9 357.7h.1M58.3 367.0h.1M56.6 370.8h.1M55.5 373.5h.1M69.2 364.5h.1M65.3 368.2h.1M63.0 370.6h.1M66.4 367.2h.1M63.9 366.8h.1M61.6 371.2h.1M65.5 362.2h.1M54.3 379.3h.1M62.3 381.1h.1M55.8 372.5h.1M63.3 381.5h.1M60.3 368.7h.1M63.8 370.7h.1M57.1 375.7h.1M51.7 365.5h.1M66.8 368.4h.1M59.0 373.4h.1M65.7 374.3h.1M56.1 368.0h.1M65.3 370.6h.1M57.6 376.3h.1M65.7 383.8h.1M55.6 367.2h.1M57.3 373.3h.1M58.3 377.7h.1M48.2 376.8h.1M57.5 369.7h.1M63.1 372.5h.1M55.9 379.9h.1M63.1 368.5h.1M61.5 364.9h.1M54.9 369.6h.1M62.2 371.9h.1M56.9 363.3h.1M52.8 380.5h.1M62.2 366.7h.1M65.9 374.4h.1M58.6 367.8h.1M65.7 373.2h.1M68.0 373.4h.1M57.8 367.9h.1M57.3 372.8h.1M61.7 374.8h.1M62.6 365.3h.1M59.6 365.9h.1M62.7 363.7h.1M57.8 366.4h.1M57.7 369.8h.1M67.4 369.8h.1M53.9 369.6h.1M63.9 374.5h.1M61.6 382.8h.1M65.6 371.8h.1M66.1 363.6h.1M59.7 366.3h.1M61.3 380.6h.1M58.2 380.5h.1M55.8 379.5h.1M52.8 366.4h.1M65.1 370.8h.1M61.2 371.2h.1M61.3 370.3h.1M56.0 369.6h.1M61.0 366.1h.1M62.6 381.4h.1M53.0 368.2h.1M59.2 371.4h.1M60.9 367.1h.1M60.3 371.3h.1M60.1 380.2h.1M61.1 362.8h.1M53.3 374.7h.1M58.9 367.7h.1M54.3 369.5h.1M60.1 367.4h.1M58.9 376.4h.1M64.1 374.4h.1M59.7 363.5h.1M64.0 379.9h.1M66.3 378.0h.1M61.8 373.5h.1M60.4 378.5h.1M59.3 383.7h.1M64.1 369.5h.1M60.5 362.0h.1M57.2 369.6h.1M71.7 366.6h.1M64.7 371.7h.1M59.2 374.9h.1M51.4 376.7h.1M69.3 373.0h.1M60.2 372.2h.1M63.5 368.5h.1M61.1 374.2h.1M58.9 373.5h.1M62.0 375.4h.1M56.0 368.2h.1M58.6 378.2h.1M61.6 361.8h.1M54.7 382.5h.1M62.0 363.9h.1M56.3 372.1h.1M67.0 380.6h.1M58.8 369.6h.1M69.3 365.6h.1M67.6 373.3h.1M60.9 378.7h.1M62.7 366.5h.1M53.5 371.4h.1M62.8 379.2h.1M48.6 379.0h.1M63.3 380.0h.1M64.1 372.5h.1M62.5 373.6h.1M57.6 370.6h.1M61.1 368.7h.1M53.8 363.0h.1M62.8 374.3h.1M61.0 364.6h.1M64.4 369.0h.1M51.0 380.3h.1M53.7 384.3h.1M62.9 368.8h.1M49.8 367.2h.1M67.3 379.1h.1M61.7 361.4h.1M58.8 369.7h.1M62.6 370.6h.1M62.1 361.9h.1M57.6 379.6h.1M53.9 376.6h.1M71.0 375.1h.1M54.2 378.5h.1M52.0 373.2h.1M58.6 378.4h.1M65.9 372.4h.1M68.7 377.0h.1M58.3 365.6h.1M71.7 369.0h.1M62.4 370.6h.1M58.3 362.0h.1M59.8 370.6h.1M65.0 368.3h.1M53.4 365.1h.1M60.3 372.7h.1M63.8 369.1h.1M63.0 372.1h.1M68.2 371.0h.1M61.2 374.6h.1M66.1 366.0h.1M58.3 369.7h.1M50.8 378.8h.1M65.4 371.4h.1M75.9 378.6h.1M69.7 380.4h.1M64.6 363.1h.1M67.5 373.7h.1M55.0 371.6h.1M63.9 377.0h.1M61.3 368.3h.1M64.0 366.9h.1M60.1 375.7h.1M53.9 373.5h.1M51.6 365.9h.1M54.9 370.8h.1M63.8 371.0h.1M64.7 371.9h.1M59.6 374.1h.1M59.4 372.1h.1M65.3 368.0h.1M65.8 364.9h.1M59.5 361.3h.1M58.1 380.5h.1M62.1 378.6h.1M53.8 365.5h.1M62.6 376.1h.1M64.3 361.6h.1M62.8 370.9h.1M61.1 374.1h.1M59.2 361.5h.1M55.6 362.9h.1M54.5 370.5h.1M66.5 367.2h.1M57.0 364.7h.1M52.6 371.7h.1M58.3 369.9h.1M56.1 374.1h.1M55.0 374.5h.1M57.5 375.9h.1M56.4 373.9h.1M62.5 370.8h.1M68.0 372.3h.1M56.4 375.3h.1M56.7 368.2h.1M60.6 372.4h.1M68.3 361.2h.1M59.3 377.8h.1M59.8 373.2h.1M67.5 364.2h.1M60.7 375.9h.1M57.8 361.2h.1M55.9 372.4h.1M61.4 382.0h.1M66.6 362.3h.1M65.2 376.6h.1M67.9 370.4h.1M58.0 372.2h.1M67.6 374.9h.1M68.3 375.9h.1M57.8 365.4h.1M69.0 362.5h.1M58.9 369.5h.1M56.3 368.0h.1M60.5 385.1h.1M60.2 368.3h.1M61.1 376.7h.1M56.8 368.9h.1M52.5 375.4h.1M63.6 380.0h.1M55.0 383.9h.1M64.5 369.7h.1M58.7 369.5h.1M54.9 375.8h.1M57.7 367.1h.1M62.9 372.0h.1M57.8 369.9h.1M58.2 379.1h.1M65.1 367.1h.1M60.3 379.3h.1M59.2 381.6h.1M62.5 375.2h.1M51.0 376.2h.1M62.1 374.7h.1M62.7 374.4h.1M58.2 376.5h.1M60.8 365.2h.1M55.8 372.2h.1M62.0 358.5h.1M51.0 377.4h.1M60.4 387.9h.1M53.5 369.9h.1M57.8 374.5h.1M67.0 380.7h.1M55.9 378.5h.1M54.9 373.1h.1M61.3 374.9h.1M56.8 379.1h.1M60.2 371.2h.1M59.3 365.1h.1M63.8 373.3h.1M62.6 382.1h.1M56.5 369.6h.1M60.5 376.3h.1M59.7 376.7h.1M62.6 361.1h.1M57.4 359.5h.1M59.2 368.9h.1M63.2 372.3h.1M60.2 378.6h.1M63.2 364.1h.1M57.3 373.2h.1" stroke="#6a8fcb" stroke-width="0.55" stroke-linecap="round" stroke-opacity="0.36" fill="none"/>
<path d="M156.2 227.4h.1M161.7 235.1h.1M147.1 223.4h.1M134.0 227.5h.1M141.8 209.1h.1M132.2 244.4h.1M147.1 230.0h.1M147.0 220.4h.1M149.6 235.8h.1M141.9 230.1h.1M155.3 220.2h.1M146.7 217.6h.1M151.0 221.3h.1M156.5 217.4h.1M161.9 221.9h.1M136.6 216.0h.1M151.6 216.4h.1M163.0 237.8h.1M150.2 210.8h.1M144.8 217.7h.1M126.9 229.3h.1M167.0 219.6h.1M153.1 237.8h.1M135.4 221.6h.1M147.7 229.7h.1M133.5 227.2h.1M143.9 234.5h.1M129.0 219.4h.1M140.0 221.8h.1M152.2 218.7h.1" stroke="#6a6a6a" stroke-width="0.5" stroke-linecap="round" stroke-opacity="0.25" fill="none"/>
<path d="M149.1 247.1h.1M147.8 241.3h.1M143.1 249.5h.1M173.5 241.5h.1M153.4 241.7h.1M154.0 246.2h.1M168.2 240.0h.1M161.1 236.8h.1M168.7 243.6h.1M153.1 250.1h.1M157.3 249.5h.1M165.5 250.6h.1M152.4 244.2h.1M160.6 243.2h.1M168.7 241.1h.1M165.0 249.5h.1M144.3 240.1h.1M151.7 241.8h.1M160.7 243.3h.1M158.6 242.2h.1M157.4 245.9h.1M163.2 240.9h.1M157.2 241.0h.1M156.8 238.3h.1M164.7 246.7h.1M157.1 241.3h.1M154.8 241.3h.1M147.2 250.5h.1M181.0 239.1h.1M149.8 246.3h.1M162.2 237.7h.1M144.6 246.2h.1M144.1 249.7h.1M154.5 244.3h.1M158.0 241.8h.1M157.0 242.8h.1M166.7 243.6h.1M157.8 241.9h.1M153.6 241.1h.1M158.1 251.3h.1" stroke="#d98890" stroke-width="0.5" stroke-linecap="round" stroke-opacity="0.4" fill="none"/>
<path d="M128.8 234.1h.1M133.4 246.2h.1M127.7 248.7h.1M134.7 247.6h.1M123.8 243.0h.1M140.6 250.9h.1M139.1 243.0h.1M133.0 240.6h.1M137.9 240.3h.1M132.7 235.0h.1M123.9 249.9h.1M132.3 243.8h.1M120.2 242.9h.1M143.1 237.2h.1M119.3 242.4h.1M129.2 242.2h.1M125.3 237.7h.1M125.4 245.5h.1M131.7 246.2h.1M126.2 245.3h.1M129.6 243.3h.1M137.0 243.1h.1M130.1 236.5h.1M132.3 246.1h.1M128.6 242.7h.1M122.5 237.8h.1M134.2 248.1h.1M130.3 236.5h.1M130.0 236.9h.1M130.5 250.6h.1M133.6 242.4h.1M137.6 241.5h.1M133.8 243.8h.1M134.4 237.2h.1M135.8 246.5h.1M119.7 232.4h.1M127.2 248.9h.1M132.1 245.7h.1M135.0 246.5h.1M128.6 240.7h.1M134.0 245.4h.1M135.1 244.3h.1M129.4 247.3h.1M134.5 247.2h.1M128.4 243.5h.1M129.4 241.8h.1M133.0 244.4h.1M127.7 233.0h.1M127.8 245.1h.1M127.4 244.7h.1M130.0 239.3h.1M138.3 249.5h.1M131.4 242.8h.1M137.2 237.8h.1M127.3 247.5h.1M136.9 241.1h.1M127.8 244.4h.1M124.4 241.0h.1M130.7 233.3h.1M135.2 246.0h.1M137.8 237.3h.1M125.0 239.8h.1M124.9 251.1h.1M126.7 241.8h.1M133.1 244.8h.1M139.9 238.7h.1M136.8 243.6h.1M125.6 243.6h.1M124.4 249.4h.1M128.0 247.0h.1M139.1 240.5h.1M127.1 243.5h.1M126.3 246.6h.1M133.0 240.0h.1M128.3 245.9h.1M124.1 249.7h.1M127.7 242.2h.1M126.9 249.5h.1M136.5 248.2h.1M135.6 243.4h.1M141.3 245.6h.1M134.4 245.3h.1M136.0 244.1h.1M131.1 236.7h.1M143.3 237.8h.1M120.2 240.2h.1M142.6 247.9h.1M128.7 244.1h.1M131.9 235.1h.1M130.2 244.2h.1M138.4 238.2h.1M119.6 236.7h.1M133.8 243.3h.1M132.8 243.6h.1M130.0 237.6h.1M134.5 244.5h.1M135.2 248.0h.1M125.2 233.7h.1M122.2 251.5h.1M127.0 244.6h.1M131.9 245.9h.1M149.6 240.9h.1M131.1 240.6h.1M133.3 245.1h.1M126.7 248.3h.1M138.3 244.8h.1M131.4 242.1h.1M123.0 245.6h.1M126.6 241.0h.1M137.5 239.3h.1M129.1 246.4h.1M142.2 240.2h.1M138.1 240.4h.1M134.1 244.9h.1M125.7 247.1h.1M141.9 243.2h.1M133.5 238.3h.1M141.8 243.3h.1" stroke="#6a6a6a" stroke-width="0.5" stroke-linecap="round" stroke-opacity="0.35" fill="none"/>
<path d="M135.3 247.0h.1M128.7 247.0h.1M129.2 238.5h.1M134.8 244.9h.1M131.5 236.6h.1M132.0 242.3h.1M130.8 242.3h.1M125.7 241.6h.1M138.8 247.1h.1M130.9 241.3h.1M133.6 245.9h.1M134.8 240.1h.1M132.8 243.5h.1M137.4 246.2h.1M134.1 246.3h.1M130.8 247.1h.1M130.6 244.1h.1M135.5 240.7h.1M129.6 238.5h.1M132.8 243.0h.1M131.0 244.4h.1M124.5 243.0h.1M132.5 242.4h.1M135.1 247.6h.1M130.6 240.7h.1M130.0 243.3h.1M134.3 240.9h.1M135.8 240.4h.1M135.2 244.2h.1M133.9 248.7h.1M131.2 242.7h.1M133.9 245.3h.1M127.3 243.8h.1M129.5 244.7h.1M137.2 243.2h.1M131.8 243.6h.1M121.4 245.1h.1M134.2 243.5h.1M130.8 241.2h.1M131.5 246.2h.1M131.8 246.6h.1M122.8 241.9h.1M133.2 243.1h.1M126.1 241.4h.1M136.8 239.8h.1M128.6 240.3h.1M130.2 244.8h.1M134.4 237.8h.1M137.5 241.6h.1M130.1 247.4h.1M131.9 239.9h.1M129.9 241.2h.1M128.5 242.2h.1M135.4 244.0h.1M127.2 250.3h.1M128.6 243.4h.1M132.3 245.1h.1M131.0 244.3h.1M139.9 243.3h.1M128.3 244.0h.1M129.3 242.1h.1M132.9 244.0h.1M131.2 245.3h.1M131.5 239.7h.1M135.4 242.2h.1M136.6 241.4h.1M134.3 243.9h.1M122.4 239.2h.1M128.1 246.7h.1M125.3 245.5h.1M136.2 244.4h.1M134.7 241.8h.1M132.2 243.7h.1M133.7 244.9h.1M131.4 241.3h.1M130.1 244.2h.1M126.1 239.9h.1M130.7 241.7h.1M131.2 236.2h.1M131.0 242.4h.1M135.0 238.0h.1M131.1 244.3h.1M134.0 246.2h.1M136.1 240.4h.1M134.5 242.2h.1M129.3 247.1h.1M129.9 240.9h.1M130.7 240.9h.1M135.9 244.1h.1M137.3 244.2h.1M130.0 245.8h.1M129.8 241.9h.1M131.6 243.2h.1M136.6 241.5h.1M133.5 243.0h.1M127.6 240.3h.1M131.4 244.2h.1M133.4 244.3h.1M132.4 241.9h.1M133.8 240.5h.1M127.3 242.2h.1M127.0 241.8h.1M129.5 241.7h.1M132.0 241.0h.1M130.7 238.7h.1M132.7 240.8h.1M133.7 235.7h.1M129.3 243.7h.1M123.3 242.2h.1M132.5 243.4h.1M126.7 243.7h.1M132.7 240.6h.1M134.9 243.0h.1M132.3 241.9h.1M134.2 243.4h.1M136.4 244.3h.1M129.9 242.5h.1M135.6 242.1h.1M133.6 244.5h.1M131.5 237.0h.1M132.7 243.7h.1M132.7 241.1h.1M136.6 242.7h.1M129.9 241.2h.1M133.5 240.3h.1M128.5 248.3h.1M137.0 245.9h.1M137.2 244.7h.1M126.0 246.2h.1M136.8 244.4h.1M125.0 246.3h.1M137.2 241.8h.1M132.7 245.1h.1M131.9 246.0h.1M132.5 244.9h.1M132.5 239.2h.1M128.5 251.4h.1M133.2 246.5h.1M136.4 247.6h.1M134.2 241.5h.1M132.3 238.1h.1M131.5 245.5h.1M124.2 243.6h.1M135.2 246.6h.1M128.8 241.4h.1M125.3 240.4h.1M134.2 248.5h.1M128.0 246.7h.1M133.8 241.8h.1M140.3 236.5h.1M132.0 243.7h.1M140.1 247.8h.1M140.6 243.5h.1M135.8 246.7h.1M134.1 244.0h.1M131.5 242.0h.1M127.7 248.2h.1M130.6 237.6h.1M133.2 243.0h.1M132.9 247.9h.1M131.8 242.4h.1M129.4 243.0h.1M130.6 243.6h.1M143.7 244.1h.1M129.0 248.2h.1M135.4 245.2h.1M134.8 245.3h.1M134.7 246.8h.1M135.9 246.6h.1M130.3 243.1h.1M129.5 245.6h.1M135.3 241.9h.1M134.4 250.0h.1M136.8 240.2h.1M131.9 244.8h.1M132.1 244.1h.1M136.6 244.0h.1M128.1 245.0h.1M131.8 243.4h.1M130.1 239.5h.1M127.6 242.2h.1M128.2 236.0h.1M136.4 240.0h.1M129.5 244.5h.1M123.3 246.6h.1M129.4 244.8h.1M130.4 243.9h.1M132.6 243.1h.1M125.4 239.2h.1M132.0 246.8h.1M130.2 244.5h.1M132.8 244.4h.1M135.9 239.2h.1M133.2 242.6h.1M131.0 240.9h.1M129.3 240.4h.1M128.1 249.7h.1M138.5 243.1h.1M134.9 240.5h.1M121.9 238.3h.1M132.7 246.9h.1M132.0 240.5h.1M131.3 240.5h.1M127.0 242.5h.1M130.7 241.0h.1M128.9 240.7h.1M133.1 246.8h.1M131.4 249.0h.1M126.2 243.8h.1M127.9 242.7h.1M132.6 244.6h.1M136.4 241.6h.1M127.6 242.6h.1M133.3 241.3h.1M135.5 247.5h.1M126.9 244.1h.1M136.0 238.0h.1M133.0 242.5h.1M126.9 246.6h.1M133.0 241.8h.1M133.8 244.8h.1M135.0 244.6h.1M133.7 240.0h.1M130.6 243.4h.1M121.9 248.7h.1M130.8 240.3h.1M125.5 243.8h.1M132.3 241.6h.1M130.7 240.8h.1M129.4 242.8h.1M129.8 244.9h.1M131.7 243.4h.1M133.7 246.4h.1M134.4 243.7h.1M131.6 241.0h.1M130.9 244.9h.1M133.0 242.1h.1M127.3 239.1h.1M133.4 245.8h.1M133.6 239.5h.1M131.4 243.7h.1M128.8 244.0h.1M131.5 240.9h.1M127.6 245.2h.1M133.5 240.8h.1M128.4 245.4h.1M134.4 242.3h.1M138.1 242.3h.1M128.3 246.0h.1M131.5 244.0h.1M132.3 240.5h.1M127.8 242.6h.1M137.4 240.5h.1M137.2 243.7h.1M128.1 243.8h.1M134.3 240.7h.1M124.3 244.0h.1M128.1 244.3h.1M125.1 242.7h.1M129.2 239.2h.1M131.3 243.6h.1M130.1 240.0h.1M133.0 238.5h.1M134.2 244.4h.1M138.4 245.4h.1M133.5 243.8h.1M132.3 239.6h.1M137.6 244.5h.1M131.1 240.1h.1M137.7 244.5h.1M127.8 244.9h.1M139.2 243.0h.1M133.7 242.0h.1M129.9 245.9h.1M143.6 243.4h.1M131.7 245.2h.1M131.1 245.0h.1M135.3 240.4h.1M128.2 242.9h.1M135.3 243.8h.1M136.8 239.5h.1M134.0 241.5h.1M132.6 243.9h.1M128.6 242.5h.1M127.9 243.8h.1M129.1 241.8h.1M133.0 241.4h.1M136.4 241.4h.1M135.3 243.8h.1M128.4 242.5h.1M129.1 242.2h.1M131.2 247.9h.1M130.7 247.2h.1M133.8 239.7h.1M123.7 244.9h.1M124.9 245.0h.1M136.0 244.1h.1M131.4 242.4h.1M133.2 242.3h.1M130.2 242.1h.1M136.5 241.5h.1M133.6 240.1h.1M129.6 239.5h.1M131.5 244.9h.1M133.3 241.8h.1M134.5 242.2h.1M133.6 243.8h.1M134.2 236.6h.1M127.4 245.1h.1M131.8 249.0h.1M131.3 241.7h.1M137.7 244.6h.1M139.2 244.4h.1M131.5 245.0h.1M129.3 241.9h.1M130.2 242.5h.1M135.1 241.8h.1M133.4 241.8h.1M135.4 235.9h.1M131.4 243.5h.1M128.2 245.7h.1M133.0 246.4h.1M135.7 244.8h.1M131.7 240.3h.1M131.4 241.9h.1M133.1 241.9h.1M143.4 238.9h.1M136.5 241.9h.1M131.3 245.5h.1M132.2 239.9h.1M133.7 242.6h.1M124.6 243.6h.1M128.3 241.2h.1M134.0 243.9h.1M131.1 248.8h.1M133.7 241.5h.1M133.1 242.8h.1M124.1 239.0h.1M127.1 248.5h.1M131.5 242.4h.1M130.1 245.7h.1M132.3 247.5h.1M135.1 247.4h.1M131.8 244.1h.1M130.6 242.7h.1M125.9 241.6h.1M128.7 241.4h.1M136.7 243.8h.1M136.7 245.3h.1M135.6 245.7h.1M130.0 245.2h.1M131.0 241.7h.1M136.6 248.7h.1M128.6 247.6h.1M135.2 240.9h.1M133.2 244.1h.1M133.6 242.2h.1M127.5 243.2h.1M135.4 245.1h.1M134.6 246.0h.1M128.6 243.0h.1M133.4 245.7h.1M132.8 244.4h.1M132.7 248.6h.1M124.2 243.0h.1M141.3 243.7h.1M125.5 243.4h.1M127.0 241.3h.1M133.0 247.6h.1M133.9 244.8h.1M135.9 243.6h.1M129.1 242.8h.1M133.4 242.4h.1M129.8 242.2h.1M126.7 240.4h.1M131.9 242.2h.1M132.3 246.7h.1M133.3 243.0h.1M127.9 240.3h.1M133.6 240.8h.1M133.8 240.3h.1M132.7 242.9h.1M135.8 242.1h.1M130.8 243.7h.1M132.4 247.5h.1M131.3 241.7h.1M131.0 244.3h.1M133.1 244.9h.1M127.1 249.5h.1M138.9 243.0h.1M127.8 243.5h.1M133.7 237.3h.1M132.2 239.3h.1M133.9 246.7h.1M136.0 239.2h.1M137.3 245.5h.1M130.9 244.4h.1M137.7 242.2h.1M132.1 241.6h.1M136.4 237.5h.1M137.4 240.6h.1M135.6 238.9h.1M128.8 241.5h.1M135.2 238.9h.1M134.4 241.4h.1M136.7 242.3h.1M134.0 242.7h.1M138.8 242.2h.1M132.1 248.3h.1M132.5 244.9h.1M129.5 243.6h.1M123.9 243.4h.1M129.8 239.2h.1M127.0 246.1h.1M133.8 239.2h.1M138.8 241.3h.1M130.9 243.7h.1M128.0 238.9h.1M129.5 246.2h.1M135.7 239.0h.1M136.6 243.2h.1M134.0 243.2h.1M133.7 240.5h.1M128.9 241.3h.1M130.9 244.7h.1M127.8 247.2h.1M129.9 241.6h.1M134.8 244.2h.1M131.0 240.3h.1M128.5 238.9h.1M136.4 245.9h.1M139.0 244.4h.1M133.4 245.1h.1M135.7 242.4h.1M133.5 248.7h.1M126.0 239.4h.1M128.7 245.1h.1M136.5 242.2h.1M134.7 243.0h.1M133.3 241.7h.1M132.1 243.1h.1M136.3 248.9h.1M125.6 244.5h.1M132.2 245.6h.1M136.1 245.1h.1M135.2 240.6h.1M126.0 247.4h.1M136.6 240.6h.1M136.9 244.8h.1M123.2 245.4h.1M128.6 246.1h.1M129.7 241.2h.1M126.5 242.5h.1M135.9 241.4h.1M125.4 248.7h.1M139.0 244.9h.1M130.2 239.9h.1M126.2 244.6h.1M137.0 240.3h.1M132.2 242.4h.1M131.3 244.4h.1M139.9 241.4h.1M135.3 245.9h.1M131.2 242.7h.1M127.3 245.9h.1M130.3 241.4h.1M132.4 240.9h.1M128.4 242.3h.1M137.6 242.6h.1M134.1 239.3h.1M125.1 247.8h.1M130.7 239.1h.1M131.8 244.7h.1M125.9 240.8h.1M133.2 240.7h.1M135.1 245.6h.1M133.8 242.0h.1M132.0 241.5h.1M131.7 243.9h.1M131.1 245.6h.1M141.7 241.7h.1M133.5 245.2h.1M134.6 242.5h.1M130.4 245.7h.1M134.5 244.4h.1M129.3 244.7h.1M135.1 242.6h.1M134.6 248.8h.1M125.3 244.7h.1M127.9 239.5h.1M131.3 244.5h.1M132.4 240.1h.1M126.9 241.6h.1M132.3 240.9h.1M126.7 247.7h.1M129.1 242.7h.1M130.2 241.6h.1M132.3 242.3h.1M134.5 240.0h.1M126.7 248.2h.1M131.9 245.1h.1M136.5 244.5h.1M132.3 239.0h.1M126.3 245.7h.1M134.7 244.6h.1M126.1 237.5h.1M128.3 240.0h.1M132.8 240.4h.1M138.0 241.5h.1M130.1 245.4h.1M133.4 240.7h.1M135.2 248.1h.1M127.7 242.4h.1M128.2 238.0h.1M134.5 244.9h.1M135.8 244.2h.1M124.8 243.0h.1M129.7 240.0h.1M128.1 245.1h.1M131.1 248.3h.1M133.9 238.1h.1M135.5 246.4h.1M132.3 239.9h.1M138.7 239.7h.1M131.9 238.1h.1M127.6 238.6h.1M136.2 246.2h.1M130.7 239.5h.1M132.0 244.1h.1M126.6 240.1h.1M131.8 244.9h.1M132.5 244.3h.1M127.6 236.6h.1M133.4 240.7h.1M131.7 242.1h.1M134.0 241.1h.1M137.6 243.2h.1M134.2 244.8h.1M136.0 244.2h.1M125.7 241.4h.1M139.1 244.3h.1M134.3 244.3h.1M129.8 241.3h.1M129.8 246.2h.1M133.6 247.8h.1M134.1 248.1h.1M133.9 240.0h.1M138.7 244.0h.1M136.6 243.7h.1M131.0 243.5h.1M128.0 239.9h.1M128.9 241.7h.1M127.1 242.8h.1M133.3 248.5h.1M139.1 243.0h.1M135.5 242.5h.1M133.7 243.0h.1M130.2 243.3h.1M126.7 244.3h.1M131.1 240.2h.1M130.9 244.6h.1M129.7 244.4h.1M134.3 247.2h.1M128.1 242.8h.1M134.1 247.1h.1M133.2 245.1h.1M126.7 241.5h.1M138.4 242.3h.1M140.3 241.2h.1M131.2 238.9h.1M134.6 243.8h.1M139.8 243.5h.1M131.3 239.4h.1M131.9 245.6h.1M135.0 246.4h.1M135.4 243.0h.1M134.5 243.6h.1M127.2 247.7h.1M133.6 240.3h.1M133.6 243.9h.1M135.9 247.0h.1M120.8 244.6h.1M137.9 240.6h.1M125.2 243.8h.1M133.5 244.0h.1M128.0 241.9h.1M132.9 245.1h.1M140.4 243.9h.1M129.9 236.8h.1M136.2 242.7h.1M131.8 240.5h.1M135.0 238.3h.1M132.6 243.4h.1M133.3 246.6h.1M131.8 243.4h.1M135.4 238.9h.1M131.1 243.3h.1M135.8 241.0h.1M135.2 244.1h.1M126.6 239.1h.1M126.8 243.5h.1M133.0 245.0h.1M135.3 241.6h.1M136.2 245.3h.1M134.0 244.4h.1M127.3 244.1h.1M128.3 239.9h.1M130.9 243.5h.1M132.0 242.2h.1M128.4 243.6h.1M129.4 239.3h.1M132.6 247.0h.1M130.7 240.2h.1M137.4 247.7h.1M131.1 242.5h.1M133.0 251.0h.1M132.7 245.8h.1M133.9 238.2h.1M128.0 239.8h.1M133.8 243.4h.1M139.0 242.4h.1M133.4 243.3h.1M132.7 249.3h.1M133.3 247.1h.1M137.1 241.5h.1M134.8 242.1h.1M132.6 243.5h.1M132.3 241.8h.1M138.1 242.4h.1M134.9 247.6h.1M134.6 245.9h.1M137.5 246.0h.1M138.7 239.3h.1M139.6 243.2h.1M125.6 241.4h.1M126.9 243.0h.1M126.6 240.4h.1M133.3 243.5h.1M129.2 242.5h.1M131.8 243.3h.1M132.2 242.5h.1M135.5 238.8h.1M130.3 243.5h.1M130.7 241.6h.1M130.5 243.7h.1M136.9 242.6h.1M131.2 244.1h.1M131.3 237.9h.1M133.2 242.1h.1M130.0 244.8h.1M132.4 241.6h.1M123.9 238.5h.1M132.3 242.8h.1M133.9 243.7h.1M130.4 239.7h.1M128.0 242.7h.1M127.8 245.1h.1M127.2 238.3h.1M131.5 238.3h.1M138.4 240.4h.1M132.0 242.4h.1M129.1 238.3h.1M125.1 245.4h.1M136.1 248.9h.1M126.6 244.6h.1M132.1 245.4h.1M130.2 245.0h.1M135.6 244.7h.1M137.7 242.6h.1M138.1 241.2h.1M138.5 235.7h.1M132.3 240.9h.1M132.2 245.9h.1M134.9 243.4h.1M138.7 239.1h.1M129.1 247.2h.1M133.4 237.5h.1M133.5 239.9h.1M137.8 246.2h.1M130.1 246.6h.1M129.0 245.6h.1M134.4 242.8h.1M126.8 242.3h.1M123.5 241.6h.1M125.2 246.4h.1M128.5 236.5h.1M134.4 244.1h.1M130.3 248.8h.1M135.1 243.3h.1M129.7 235.1h.1M134.0 245.7h.1M130.0 239.3h.1M132.0 238.6h.1M132.2 245.2h.1M137.9 243.8h.1M132.9 245.1h.1M137.5 242.2h.1M127.5 241.0h.1M127.4 240.7h.1M131.7 244.0h.1M132.8 243.3h.1M130.8 244.2h.1M135.6 245.2h.1M137.9 242.3h.1M131.2 247.7h.1M133.0 244.2h.1M130.9 245.7h.1M130.7 240.4h.1M132.0 241.9h.1M135.4 242.1h.1M132.7 242.5h.1M133.5 241.4h.1M136.4 239.3h.1M130.7 241.2h.1M134.7 243.2h.1M134.0 242.2h.1M129.5 240.1h.1M130.9 241.7h.1M133.3 244.1h.1M135.9 242.8h.1M129.4 240.2h.1M132.4 244.1h.1M139.6 243.6h.1M138.9 248.2h.1M128.2 246.4h.1M136.5 246.7h.1M132.2 245.7h.1M130.4 242.9h.1M132.3 247.9h.1M131.4 245.7h.1M132.5 241.2h.1M133.1 244.9h.1M129.5 244.8h.1M129.5 240.7h.1M133.0 242.5h.1M128.5 238.7h.1M132.3 243.8h.1M130.5 243.6h.1M126.4 244.2h.1M133.8 243.9h.1M129.9 243.3h.1M132.7 246.0h.1M133.2 243.8h.1M129.5 245.4h.1M136.7 241.8h.1M134.6 243.9h.1M132.0 239.6h.1M138.9 238.1h.1M133.4 242.1h.1M136.5 242.0h.1M132.3 244.7h.1M133.9 241.7h.1M134.8 244.2h.1M136.0 241.7h.1M132.0 242.0h.1M129.0 243.8h.1M133.8 246.9h.1M131.0 244.1h.1M136.5 242.8h.1M132.4 243.5h.1M129.6 240.4h.1M136.4 243.6h.1M131.9 239.8h.1M132.6 246.3h.1M127.8 240.7h.1M136.4 247.0h.1M138.1 241.6h.1M134.5 241.1h.1M134.2 242.1h.1M132.9 246.7h.1M133.5 242.5h.1M132.4 243.8h.1M130.3 243.7h.1M134.5 247.3h.1M124.4 239.9h.1M127.5 245.5h.1M141.4 243.6h.1M132.7 246.2h.1M123.0 242.6h.1M120.4 243.5h.1M130.3 241.8h.1M133.5 241.5h.1M136.4 243.1h.1M133.6 249.9h.1M130.5 245.6h.1M129.1 246.4h.1M135.8 243.5h.1M135.9 247.4h.1M137.4 243.1h.1M132.0 246.1h.1M126.7 241.5h.1M134.0 244.6h.1M139.2 247.8h.1M133.4 244.3h.1M127.2 242.6h.1M133.2 242.5h.1M132.4 244.7h.1M128.6 241.6h.1M125.5 246.2h.1M128.2 238.5h.1M135.1 242.5h.1M135.8 242.1h.1M140.2 245.0h.1M132.8 243.4h.1M131.4 245.3h.1M139.7 242.0h.1M128.1 244.7h.1M136.2 239.1h.1M129.6 240.4h.1M134.3 244.4h.1M129.4 240.1h.1M134.8 237.6h.1M134.6 242.7h.1M139.4 245.7h.1M130.0 242.4h.1M131.2 241.2h.1M132.5 245.7h.1M126.5 242.5h.1M137.8 245.1h.1M129.2 241.0h.1M129.0 238.8h.1M136.5 243.3h.1M129.6 239.3h.1M130.8 241.7h.1M138.6 241.9h.1M132.6 245.9h.1M134.7 242.6h.1M124.0 246.8h.1M134.4 241.9h.1M131.9 240.6h.1M128.8 239.2h.1M134.1 244.5h.1M132.9 245.2h.1M134.2 243.4h.1M128.9 244.7h.1M136.6 244.8h.1M136.9 241.8h.1M128.5 246.4h.1M130.0 243.7h.1M131.5 243.2h.1M131.2 241.7h.1M125.5 248.2h.1M133.0 238.0h.1M128.8 240.1h.1M129.4 236.3h.1M134.3 247.4h.1M131.3 245.1h.1M134.4 239.8h.1M136.7 238.6h.1M130.1 242.1h.1M136.9 243.4h.1M131.7 241.0h.1M132.5 243.2h.1M134.9 246.8h.1M134.9 243.1h.1M131.6 247.3h.1M132.9 243.1h.1M138.9 247.2h.1M134.3 242.8h.1M129.8 245.9h.1M130.5 245.6h.1M129.3 243.4h.1M133.7 243.5h.1M133.1 244.1h.1M128.0 240.2h.1M131.7 247.9h.1M131.7 240.7h.1M129.7 243.2h.1M136.6 241.6h.1M134.3 243.6h.1M130.9 240.6h.1M131.6 241.2h.1M134.2 238.5h.1M136.4 245.1h.1M134.3 247.1h.1M134.4 238.6h.1M132.4 244.3h.1M129.7 240.1h.1M133.8 244.4h.1M130.6 242.5h.1M130.3 241.6h.1M132.0 245.9h.1M126.2 242.2h.1M138.2 243.9h.1M132.8 245.3h.1M128.5 239.9h.1M126.0 239.3h.1M133.1 245.3h.1M130.7 241.3h.1M133.7 244.7h.1M133.2 238.1h.1M130.2 236.4h.1M133.1 240.9h.1M129.8 247.1h.1M137.1 244.4h.1M133.2 243.6h.1M130.0 243.0h.1M139.3 240.8h.1M129.8 243.5h.1M135.5 245.3h.1M128.6 242.8h.1M131.2 239.9h.1M132.5 241.8h.1M135.6 244.2h.1M129.3 243.3h.1M130.9 241.4h.1M130.4 245.9h.1M130.7 238.6h.1M129.3 245.2h.1M140.2 240.3h.1M130.9 242.2h.1M127.0 244.2h.1M132.0 243.8h.1M140.5 242.4h.1M135.1 245.3h.1M129.9 241.5h.1M138.0 245.0h.1M132.7 240.2h.1M135.5 244.5h.1M140.3 247.0h.1M135.2 243.8h.1M132.4 241.7h.1M133.3 243.7h.1M134.6 246.0h.1M133.4 241.7h.1M135.2 247.2h.1M129.1 244.2h.1M134.2 244.5h.1M134.1 242.9h.1M131.8 247.5h.1M138.6 239.4h.1M122.8 244.3h.1M129.7 241.7h.1M126.3 244.0h.1M132.0 241.7h.1M135.5 249.5h.1M137.6 246.2h.1M130.7 244.8h.1M132.1 246.1h.1M134.4 243.0h.1M134.2 241.2h.1M135.1 247.0h.1M130.9 244.6h.1M126.1 245.6h.1M135.4 240.4h.1M138.6 243.4h.1M125.8 239.5h.1M135.4 242.4h.1M136.3 239.0h.1M131.8 245.7h.1M129.7 244.9h.1M130.9 244.0h.1M133.4 249.0h.1M127.6 245.1h.1M137.0 240.2h.1M132.5 249.2h.1M136.1 235.3h.1M131.3 238.6h.1M133.3 241.2h.1M130.1 240.9h.1M133.3 241.9h.1M128.9 242.5h.1M133.7 240.9h.1M136.3 238.7h.1M133.7 242.1h.1M138.0 241.4h.1M129.8 239.6h.1M139.5 244.7h.1M128.2 242.2h.1M128.7 247.1h.1M133.7 237.8h.1M133.0 245.5h.1M132.2 244.3h.1M131.8 243.6h.1M133.0 241.2h.1M133.5 243.5h.1M132.1 241.3h.1M128.5 243.7h.1M135.2 236.8h.1M130.2 246.7h.1M135.6 241.2h.1M137.2 240.5h.1M129.3 248.2h.1M130.6 242.5h.1M126.1 240.4h.1M127.9 242.7h.1M125.4 245.9h.1M130.9 241.5h.1M129.9 245.1h.1M137.9 242.0h.1M138.2 247.3h.1M137.2 243.9h.1M126.7 244.9h.1M130.7 243.6h.1M125.2 242.4h.1M133.1 240.6h.1M133.3 247.5h.1M133.1 241.3h.1M141.0 237.4h.1M128.8 244.2h.1" stroke="#1a1a1a" stroke-width="0.6" stroke-linecap="round" stroke-opacity="0.38" fill="none"/>
<path d="M46.3 249.4h.1M37.5 234.0h.1M43.2 244.1h.1M38.7 218.8h.1M55.9 231.6h.1M46.3 245.4h.1M39.8 231.4h.1M51.7 239.0h.1M44.0 244.9h.1M75.8 231.1h.1M71.5 214.7h.1M66.2 231.7h.1M51.6 231.7h.1M42.7 222.7h.1M45.5 247.4h.1M63.1 231.7h.1M43.9 228.3h.1M36.2 252.3h.1M57.6 236.1h.1M44.3 225.2h.1M65.2 242.5h.1M39.0 244.5h.1M37.2 241.2h.1M38.9 231.0h.1M55.7 239.2h.1M61.7 227.0h.1M68.2 247.9h.1M49.9 239.5h.1M41.0 233.5h.1M34.8 235.9h.1M52.3 247.9h.1M60.9 242.8h.1M45.8 232.8h.1M46.1 237.1h.1M31.9 230.1h.1M50.3 230.1h.1M69.2 234.1h.1M68.1 246.3h.1M44.3 238.8h.1M65.0 231.8h.1M51.0 229.6h.1M50.7 231.6h.1M51.0 244.6h.1M66.0 236.3h.1M52.3 243.2h.1M46.7 224.8h.1M62.8 226.0h.1M60.7 225.7h.1M71.1 225.0h.1" stroke="#6a6a6a" stroke-width="0.5" stroke-linecap="round" stroke-opacity="0.3" fill="none"/>
<path d="M37.5 244.8h.1M40.8 245.4h.1M39.6 243.5h.1M37.4 239.5h.1M43.4 247.4h.1M42.5 244.2h.1M40.7 240.8h.1M31.5 245.0h.1M40.4 240.4h.1M35.2 247.4h.1M31.4 249.2h.1M42.4 251.5h.1M36.3 242.4h.1M37.2 243.1h.1M38.6 239.7h.1M44.3 239.5h.1M37.2 244.6h.1M37.1 240.8h.1M41.1 241.1h.1M33.9 242.1h.1M38.5 249.0h.1M34.6 246.2h.1M36.0 241.1h.1M38.0 243.5h.1M43.4 249.1h.1M36.6 247.6h.1M44.0 245.6h.1M36.1 245.9h.1M39.0 243.8h.1M38.3 245.0h.1M44.5 246.8h.1M38.6 246.3h.1M46.0 238.9h.1M46.1 237.4h.1M41.9 244.8h.1M46.2 243.6h.1M37.3 239.5h.1M33.9 245.4h.1M38.4 239.8h.1M41.9 239.6h.1M37.5 240.8h.1M46.9 248.1h.1M38.8 236.5h.1M40.7 242.8h.1M41.1 244.6h.1M38.1 246.0h.1M43.3 243.3h.1M37.7 240.7h.1M42.6 238.3h.1M38.8 239.7h.1M33.2 244.8h.1M39.4 242.6h.1M43.4 236.8h.1M39.2 243.6h.1M43.2 238.4h.1M42.7 243.3h.1M45.6 246.8h.1M42.0 250.7h.1M39.5 240.9h.1M38.0 238.9h.1M39.4 235.4h.1M39.1 244.1h.1M44.0 241.2h.1M45.7 240.0h.1M38.9 235.4h.1M36.1 239.5h.1M46.1 244.5h.1M34.6 244.5h.1M41.6 241.6h.1M39.6 241.4h.1M37.1 235.9h.1M39.1 247.3h.1M45.8 241.5h.1M36.2 241.7h.1M43.4 243.8h.1M36.9 243.8h.1M38.6 244.4h.1M37.7 237.0h.1M39.8 245.3h.1M34.6 242.1h.1M43.4 241.1h.1M36.6 250.0h.1M43.1 246.3h.1M35.4 248.5h.1M32.2 240.6h.1M42.7 247.4h.1M35.4 240.0h.1M40.4 235.4h.1M42.3 244.6h.1M37.5 244.5h.1M42.9 243.6h.1M41.8 248.1h.1M37.4 243.1h.1M37.2 246.3h.1M37.7 244.2h.1M40.1 242.7h.1M47.0 242.2h.1M45.7 245.5h.1M45.3 241.9h.1M43.5 245.3h.1M36.8 243.5h.1M38.9 242.4h.1M45.2 239.9h.1M32.2 236.1h.1M37.5 240.1h.1M39.6 244.6h.1M47.1 243.6h.1M41.5 239.8h.1M42.0 247.5h.1M45.3 235.3h.1M43.4 248.3h.1M43.1 237.0h.1M38.2 244.7h.1M41.3 239.5h.1M35.6 246.0h.1M33.7 247.7h.1M39.6 243.6h.1M33.7 240.3h.1M42.5 237.1h.1M48.5 237.4h.1M34.2 242.7h.1M41.6 245.2h.1M37.9 241.7h.1M38.5 240.4h.1M40.6 243.1h.1M36.8 243.4h.1M39.4 242.2h.1M44.3 236.2h.1M40.6 238.6h.1" stroke="#6a6a6a" stroke-width="0.5" stroke-linecap="round" stroke-opacity="0.45" fill="none"/>
<path d="M57.1 216.9h.1M48.2 210.7h.1M63.7 219.0h.1M48.0 204.2h.1M45.2 233.1h.1M46.7 217.0h.1M55.9 216.5h.1M52.6 208.8h.1M47.4 228.1h.1M49.4 222.8h.1M43.0 215.8h.1M56.3 224.0h.1M46.9 221.3h.1M57.1 212.9h.1M57.7 211.8h.1M49.1 217.4h.1M36.0 216.8h.1M47.7 208.3h.1M51.6 222.3h.1M51.7 225.5h.1M46.6 209.2h.1M65.0 220.0h.1M60.9 212.3h.1M60.0 219.1h.1M58.9 217.7h.1M62.7 213.4h.1M47.9 208.2h.1M62.4 212.8h.1M47.4 211.6h.1M51.5 209.5h.1M52.5 213.5h.1M50.8 211.5h.1M54.8 214.6h.1M55.3 219.1h.1M56.8 203.7h.1M50.9 212.5h.1M59.8 207.6h.1M49.6 215.6h.1M52.2 223.7h.1M51.5 223.6h.1M44.5 206.1h.1M62.8 220.2h.1M57.8 218.3h.1M57.8 209.8h.1M60.9 214.1h.1M61.2 218.1h.1M41.1 209.4h.1M62.2 216.6h.1M51.8 219.0h.1M51.6 214.1h.1M55.2 218.4h.1M64.8 217.8h.1M67.3 228.9h.1M66.2 224.2h.1M55.4 218.4h.1M53.5 212.9h.1M54.0 213.5h.1M65.7 220.9h.1M51.5 205.4h.1M54.1 214.9h.1M47.1 210.3h.1M39.2 221.1h.1M54.1 233.8h.1M54.3 216.6h.1M64.3 218.3h.1M55.6 215.2h.1M50.4 226.9h.1M61.3 228.3h.1M52.1 217.7h.1M48.5 223.6h.1M45.0 221.1h.1M62.0 226.4h.1M48.1 224.4h.1M49.6 212.7h.1M45.5 224.8h.1M65.7 213.8h.1M49.3 215.4h.1M71.5 223.8h.1M50.8 206.2h.1M49.9 225.0h.1M67.2 215.8h.1M49.8 214.3h.1M41.7 223.2h.1M47.1 224.2h.1M42.9 209.5h.1M56.5 212.7h.1M59.8 217.6h.1M46.5 221.4h.1M60.2 205.4h.1M66.9 220.6h.1M59.7 205.8h.1M49.6 215.3h.1M61.8 208.3h.1M48.5 204.7h.1M52.9 219.7h.1M43.0 213.8h.1M58.0 227.5h.1M59.0 215.6h.1M46.5 211.6h.1M50.0 218.4h.1M54.2 228.0h.1M56.5 210.7h.1M65.0 223.5h.1M55.2 213.0h.1M41.8 211.1h.1M60.7 212.4h.1M45.5 218.7h.1M56.2 221.3h.1M59.0 226.4h.1M48.8 223.7h.1M47.8 221.9h.1M55.7 219.0h.1M61.1 217.4h.1M62.1 223.0h.1M55.4 213.9h.1M49.4 214.2h.1M53.1 217.3h.1M74.8 221.5h.1M59.7 212.1h.1M49.7 215.5h.1M55.8 211.0h.1M65.5 214.0h.1M61.8 202.8h.1M54.5 219.3h.1M55.8 221.3h.1M56.4 218.5h.1M41.6 213.0h.1M38.6 221.5h.1M56.6 216.3h.1M48.9 213.8h.1M67.0 228.4h.1M54.1 225.6h.1M43.7 205.3h.1M51.2 212.0h.1M50.7 218.7h.1M75.1 213.3h.1M54.8 219.2h.1M54.3 223.4h.1M66.6 209.7h.1M55.6 215.8h.1M56.9 207.9h.1M42.5 202.9h.1M58.1 218.7h.1M55.0 202.6h.1M52.0 212.7h.1M44.9 211.7h.1M59.2 220.9h.1M54.3 220.7h.1M50.4 217.9h.1M54.8 221.0h.1M54.0 216.6h.1M53.6 213.4h.1M69.7 220.7h.1M57.4 231.9h.1M64.0 207.7h.1M59.2 222.8h.1M67.3 225.8h.1M59.7 210.1h.1M48.6 219.2h.1M57.9 211.1h.1M51.9 215.0h.1M54.9 219.6h.1M52.5 209.7h.1M63.0 227.6h.1M53.8 224.0h.1M57.5 221.7h.1M57.8 212.7h.1M58.4 223.9h.1M48.4 229.9h.1M68.7 229.0h.1M68.0 222.2h.1M52.2 213.7h.1M49.0 218.2h.1M54.3 221.7h.1M40.8 232.1h.1M70.0 217.3h.1M59.1 220.5h.1M56.4 216.2h.1M53.7 212.3h.1M55.7 217.3h.1M56.7 212.1h.1M54.8 217.8h.1M58.6 210.8h.1M57.4 223.7h.1M58.6 215.2h.1M51.2 216.0h.1M59.5 227.3h.1M53.4 213.5h.1M57.1 218.8h.1M48.3 212.9h.1M53.8 221.7h.1M46.4 211.1h.1M57.9 209.8h.1M55.2 219.7h.1M53.7 211.1h.1M54.1 215.4h.1M56.8 212.2h.1M61.9 206.9h.1M53.3 217.5h.1M61.0 213.7h.1M58.2 213.9h.1M59.5 228.4h.1M51.8 220.3h.1M48.2 223.6h.1M62.7 217.7h.1M46.8 220.0h.1M62.3 224.4h.1M60.0 206.0h.1M49.9 226.5h.1M46.2 224.6h.1M67.3 222.3h.1M62.1 215.4h.1M46.2 216.9h.1M53.1 217.2h.1M59.2 216.6h.1M55.8 220.2h.1M54.5 229.1h.1M57.5 218.0h.1M53.1 213.6h.1M63.6 218.4h.1M47.2 214.0h.1M53.6 214.7h.1M61.9 210.2h.1M57.8 218.4h.1M46.5 217.8h.1M53.9 220.7h.1M51.4 219.4h.1M43.2 210.7h.1M59.8 224.1h.1M54.4 213.7h.1M61.9 204.3h.1M49.1 221.7h.1M58.9 211.0h.1M41.7 226.6h.1M55.5 211.9h.1M54.9 223.2h.1M36.9 224.5h.1M59.5 204.4h.1M59.7 206.3h.1M62.2 220.0h.1M69.8 213.7h.1M54.5 224.1h.1M50.1 213.1h.1M52.0 217.0h.1M47.1 220.6h.1M58.2 218.0h.1M66.1 215.4h.1M63.4 214.1h.1M59.6 205.3h.1M55.8 216.4h.1M51.1 213.7h.1M52.1 213.0h.1M39.6 213.7h.1M50.8 214.2h.1M47.3 216.6h.1M59.8 215.9h.1M51.1 226.1h.1M61.1 223.3h.1M62.4 215.4h.1M53.6 224.5h.1M50.7 216.7h.1M57.1 219.8h.1M52.6 223.7h.1M53.3 222.1h.1M61.8 221.7h.1M59.5 210.2h.1M45.6 213.6h.1M57.7 227.0h.1M46.2 219.4h.1M48.7 212.9h.1M52.6 221.9h.1M55.9 224.9h.1M47.8 223.1h.1M60.8 217.9h.1M57.7 214.0h.1M47.1 214.9h.1M50.1 235.7h.1M51.2 227.9h.1M55.9 219.5h.1M59.6 212.6h.1M60.7 219.9h.1M44.2 221.3h.1M58.3 220.4h.1M65.3 214.9h.1M58.0 222.2h.1M48.4 225.1h.1M44.6 209.3h.1M58.1 210.6h.1M53.7 207.1h.1M55.0 210.4h.1M56.8 207.8h.1M57.6 215.8h.1M54.9 217.1h.1M55.4 209.2h.1M37.1 217.7h.1M48.1 214.6h.1M57.4 205.0h.1M49.3 213.7h.1M47.3 219.6h.1M53.5 212.3h.1M47.8 222.6h.1M50.0 221.2h.1M57.6 205.6h.1M47.1 217.5h.1M56.8 222.4h.1M60.0 224.0h.1M52.0 216.2h.1M59.8 214.8h.1M61.7 207.5h.1M58.9 216.4h.1M41.1 223.7h.1M56.6 217.6h.1M47.2 214.6h.1M64.8 212.3h.1M30.9 212.1h.1M46.3 216.7h.1M51.8 211.8h.1M48.8 224.1h.1M44.7 229.8h.1M50.8 210.6h.1M59.9 221.1h.1M47.4 222.2h.1M42.0 211.7h.1M62.2 215.9h.1M45.6 220.7h.1M60.7 217.4h.1M42.2 215.3h.1M57.3 222.3h.1M67.1 215.9h.1M51.2 217.3h.1M62.7 211.6h.1M63.4 200.2h.1M59.9 213.2h.1M57.6 221.8h.1M46.5 217.0h.1M56.1 221.2h.1M48.2 211.3h.1M41.4 233.5h.1M53.2 216.1h.1M44.3 223.4h.1M50.9 226.5h.1M60.3 217.6h.1M59.4 210.5h.1M52.3 213.9h.1M45.9 217.6h.1M53.5 226.5h.1M31.7 213.3h.1M48.3 214.6h.1M57.4 220.0h.1M54.7 214.5h.1M57.9 219.8h.1M42.0 215.8h.1M45.2 210.1h.1M55.5 217.9h.1M55.3 212.0h.1M53.1 211.8h.1M57.1 221.8h.1M66.4 225.5h.1M49.0 214.6h.1M48.1 219.4h.1M68.0 222.0h.1M39.5 209.6h.1M45.7 220.7h.1M54.5 219.4h.1M66.6 212.3h.1M48.7 229.9h.1M56.8 212.6h.1M40.7 207.9h.1M37.9 217.9h.1M54.8 223.8h.1M53.6 213.1h.1M49.5 229.5h.1M42.5 218.6h.1M54.7 221.4h.1M51.7 220.6h.1M60.0 216.6h.1M51.4 216.3h.1M47.9 216.2h.1M52.4 218.8h.1M63.6 225.7h.1" stroke="#4a70b4" stroke-width="0.5" stroke-linecap="round" stroke-opacity="0.33" fill="none"/>
<path d="M52.3 215.9h.1M52.4 213.2h.1M49.7 213.5h.1M57.6 215.6h.1M57.3 215.0h.1M54.8 214.8h.1M46.8 217.0h.1M55.3 215.8h.1M46.7 208.4h.1M49.8 212.7h.1M54.5 214.0h.1M55.3 212.1h.1M54.5 215.5h.1M50.7 219.9h.1M55.5 218.2h.1M50.9 211.8h.1M52.0 213.8h.1M55.8 215.0h.1M51.6 211.0h.1M51.3 218.2h.1M50.1 215.0h.1M55.0 209.3h.1M53.5 218.5h.1M45.4 213.1h.1M52.9 211.5h.1M55.2 214.0h.1M47.6 216.9h.1M55.9 217.3h.1M58.9 215.4h.1M53.8 209.9h.1M55.7 212.2h.1M51.5 210.0h.1M49.5 212.4h.1M58.3 207.5h.1M47.6 215.0h.1M58.9 216.1h.1M45.9 205.9h.1M54.7 211.8h.1M48.9 217.4h.1M57.6 214.7h.1M54.3 215.6h.1M59.5 216.2h.1M55.3 216.0h.1M47.2 218.4h.1M57.0 215.9h.1M45.6 212.1h.1M56.6 208.2h.1M52.6 217.6h.1M48.2 219.5h.1M55.5 213.7h.1M54.6 216.3h.1M53.8 218.0h.1M50.7 212.8h.1M57.4 214.3h.1M49.9 217.3h.1M59.0 212.7h.1M47.9 213.8h.1M52.7 213.2h.1M58.8 210.8h.1M58.2 210.0h.1M50.2 216.3h.1M57.7 217.0h.1M54.6 214.7h.1M53.9 216.1h.1M52.6 215.1h.1M55.5 214.2h.1M56.3 216.1h.1M61.1 215.3h.1M51.6 213.0h.1M53.2 217.2h.1M52.0 215.5h.1M60.5 205.7h.1M48.9 215.0h.1M54.9 215.0h.1M51.6 216.4h.1M54.4 212.5h.1M62.8 215.4h.1M51.1 213.9h.1M52.4 214.0h.1M42.7 212.6h.1M57.2 210.3h.1M53.0 217.3h.1M56.6 219.1h.1M46.7 213.0h.1M52.0 216.3h.1M57.6 205.3h.1M57.5 209.4h.1M56.0 209.3h.1M54.0 218.1h.1M52.7 214.8h.1M56.4 214.7h.1M53.0 219.3h.1M57.4 213.2h.1M64.0 210.4h.1M56.9 213.3h.1M53.8 216.5h.1M54.2 216.3h.1M47.3 209.2h.1M55.7 211.0h.1M49.3 209.3h.1M58.2 216.7h.1M59.0 211.1h.1M53.3 210.4h.1M56.3 219.4h.1M49.8 219.3h.1M57.2 213.6h.1M45.6 218.8h.1M52.9 212.2h.1M54.9 215.6h.1M59.1 210.8h.1M57.7 219.1h.1M59.0 213.6h.1M50.4 217.6h.1M53.7 214.6h.1M58.9 213.3h.1M44.3 212.9h.1M46.1 216.9h.1M54.5 212.2h.1M53.3 216.9h.1M53.6 218.6h.1M53.1 217.6h.1M59.1 219.5h.1M50.7 217.1h.1M46.0 210.6h.1M45.6 217.7h.1M48.5 214.2h.1M52.6 214.1h.1M51.0 215.0h.1M60.3 214.3h.1M55.4 217.5h.1M52.5 210.0h.1M51.1 217.7h.1M46.9 212.2h.1M57.2 216.8h.1M53.3 216.9h.1M53.9 210.3h.1M47.2 212.1h.1M56.9 212.3h.1M49.8 211.7h.1M47.3 213.8h.1M48.7 215.4h.1M44.1 215.3h.1M50.8 207.8h.1M56.1 213.3h.1M44.6 211.3h.1M54.4 212.7h.1M56.3 216.7h.1M55.9 215.3h.1M58.5 216.4h.1M55.1 207.3h.1M56.8 218.5h.1M52.1 212.7h.1M60.9 208.4h.1M55.1 222.2h.1M49.7 216.5h.1M60.7 213.8h.1M55.5 217.2h.1M49.8 213.9h.1M54.4 216.9h.1M53.2 213.6h.1M49.3 213.0h.1M56.8 214.5h.1M50.0 211.4h.1M63.7 218.0h.1M55.8 205.6h.1M55.7 215.8h.1M59.9 215.6h.1M53.0 215.9h.1M45.7 217.6h.1M54.6 211.9h.1M58.5 220.2h.1M47.8 212.0h.1M54.4 214.8h.1M51.7 211.0h.1M61.6 217.6h.1M48.6 209.8h.1M59.9 217.5h.1M60.4 216.9h.1M49.9 215.1h.1M44.9 211.7h.1M53.1 215.9h.1M50.5 213.8h.1M55.1 215.4h.1M55.8 214.9h.1M52.0 216.8h.1M53.5 211.5h.1M50.9 214.2h.1M52.9 214.7h.1M53.3 214.8h.1M52.8 210.0h.1M54.9 217.7h.1M55.0 213.6h.1M55.0 211.0h.1M45.9 214.4h.1M49.7 216.6h.1M49.1 205.5h.1M49.2 219.4h.1M51.8 209.7h.1M50.3 215.9h.1M55.2 214.8h.1M59.1 216.5h.1M53.2 216.2h.1M59.8 217.4h.1M57.3 210.6h.1M52.7 216.6h.1M52.1 217.7h.1M55.6 217.2h.1M52.5 222.6h.1M58.1 213.5h.1M53.7 222.8h.1M52.0 217.1h.1M57.1 214.2h.1M48.7 214.8h.1M54.7 217.9h.1M56.4 214.3h.1M56.6 216.0h.1M54.1 214.4h.1M52.4 216.5h.1M49.2 212.1h.1M53.3 209.4h.1M51.6 207.6h.1M50.6 216.1h.1M55.5 214.0h.1M52.4 209.5h.1M60.4 215.9h.1M57.6 211.3h.1M52.6 208.2h.1M56.3 217.3h.1M45.9 214.0h.1M55.8 208.4h.1M46.2 210.7h.1M50.8 209.6h.1M53.4 215.0h.1M55.8 216.5h.1M59.2 218.0h.1M48.2 212.5h.1M49.2 210.6h.1M53.0 214.2h.1M55.2 209.0h.1M48.5 214.1h.1M52.5 213.2h.1M53.1 211.7h.1M56.0 215.4h.1M53.0 212.0h.1M52.6 205.2h.1M49.5 214.3h.1M47.4 214.9h.1M53.9 209.7h.1M52.3 213.2h.1M55.1 216.2h.1M53.2 211.4h.1M52.7 214.0h.1M56.2 215.2h.1M50.5 209.7h.1M51.8 211.8h.1M49.0 213.8h.1M51.4 214.5h.1M55.3 212.8h.1M62.4 213.1h.1M57.6 214.6h.1M57.7 206.4h.1M50.4 215.0h.1M55.6 221.9h.1M54.6 218.4h.1M56.3 217.3h.1M55.3 213.7h.1M55.3 210.6h.1M57.9 210.8h.1M54.3 221.2h.1M52.4 214.3h.1M57.8 214.3h.1M50.2 215.1h.1M55.6 216.5h.1M50.3 220.0h.1M59.8 214.3h.1M54.3 212.8h.1M58.8 211.9h.1M55.9 212.6h.1M50.6 216.6h.1M58.5 214.2h.1M50.7 216.9h.1M53.1 215.2h.1M59.2 217.9h.1M51.3 221.7h.1M53.3 216.8h.1M50.8 214.1h.1M46.5 220.1h.1M58.6 210.2h.1M47.4 208.9h.1M57.9 212.7h.1M53.1 213.2h.1M52.8 210.6h.1M53.4 209.5h.1M53.0 215.2h.1M55.1 213.4h.1M49.8 214.7h.1M51.4 219.4h.1M56.3 213.8h.1M51.5 211.9h.1M49.6 213.0h.1M54.4 215.9h.1M55.5 221.1h.1M50.6 214.2h.1M64.2 208.0h.1M51.3 214.8h.1M53.9 215.5h.1M52.4 215.4h.1M53.5 216.7h.1M45.9 211.3h.1M53.3 210.8h.1M49.2 216.3h.1M50.8 216.3h.1M56.2 215.2h.1M55.3 213.9h.1M47.8 214.1h.1M55.1 212.5h.1M52.9 216.7h.1M49.9 216.3h.1M60.6 212.4h.1M53.9 213.7h.1M59.3 215.2h.1M56.8 211.9h.1M53.2 214.2h.1M46.4 219.0h.1M56.8 208.4h.1M56.2 213.8h.1M55.0 215.4h.1M47.5 213.5h.1M59.1 212.3h.1M49.3 209.7h.1M48.5 215.3h.1M59.9 215.6h.1M54.3 221.6h.1M51.3 212.0h.1M55.4 216.0h.1M49.3 210.3h.1M54.4 215.0h.1M48.2 213.5h.1M51.2 215.7h.1M52.8 213.9h.1M51.9 217.7h.1M58.7 213.0h.1M56.6 211.7h.1M53.6 216.7h.1M59.2 212.9h.1M53.0 214.8h.1M47.5 214.3h.1M50.7 215.4h.1M48.9 207.7h.1M53.4 215.1h.1M51.2 217.1h.1M52.2 212.2h.1M55.2 209.0h.1M50.7 214.1h.1M56.6 213.7h.1M54.5 212.0h.1M54.5 219.7h.1M50.6 222.0h.1M50.8 214.3h.1M54.0 217.6h.1M48.5 207.3h.1M55.7 216.8h.1M55.7 222.9h.1M54.1 215.0h.1M56.9 215.4h.1M59.8 210.1h.1M51.8 202.8h.1M56.5 213.0h.1M56.9 221.3h.1M53.3 213.4h.1M51.4 211.4h.1M50.8 216.3h.1M53.4 214.4h.1M52.6 217.2h.1M55.2 213.7h.1M55.9 213.7h.1M48.8 219.0h.1M55.1 211.0h.1M57.5 215.3h.1M47.2 219.5h.1M54.6 217.1h.1M54.1 213.7h.1M47.3 217.4h.1M53.4 213.3h.1M54.7 214.5h.1M55.9 213.0h.1M53.2 207.1h.1M51.6 216.4h.1M58.5 213.0h.1M52.8 219.4h.1M52.0 216.6h.1M59.8 214.3h.1M58.1 211.9h.1M54.1 213.9h.1M53.7 217.9h.1M62.6 212.0h.1M51.1 215.8h.1M49.2 215.8h.1M55.5 213.3h.1M55.4 209.1h.1M56.3 209.1h.1M50.6 212.4h.1M51.7 217.0h.1M53.6 212.9h.1M55.4 219.4h.1M53.3 215.4h.1M58.1 215.1h.1M48.3 222.4h.1M61.9 207.6h.1M53.1 215.6h.1M57.1 216.4h.1M52.2 210.7h.1M53.7 217.6h.1M49.1 210.8h.1M53.2 207.8h.1M52.3 212.8h.1M55.1 211.9h.1M49.9 212.9h.1M53.1 212.0h.1M53.3 216.7h.1M57.9 219.8h.1M50.2 212.8h.1M43.6 220.5h.1M50.5 214.1h.1M55.3 209.7h.1M55.1 214.1h.1M46.2 215.2h.1M58.0 208.0h.1M56.4 214.9h.1M55.2 215.7h.1M58.4 213.5h.1M56.7 212.8h.1M56.1 211.5h.1M52.9 219.9h.1M55.0 213.7h.1M48.8 211.6h.1M54.1 217.3h.1M55.0 215.9h.1M53.1 218.7h.1M51.8 212.4h.1M56.8 214.4h.1M52.2 212.3h.1M52.3 216.3h.1M54.7 210.2h.1M55.0 214.8h.1M49.4 216.8h.1M52.2 213.1h.1M56.4 218.6h.1M50.6 215.6h.1M49.9 221.8h.1M51.4 218.1h.1M50.8 216.9h.1M62.0 205.8h.1M51.6 215.9h.1M52.9 212.0h.1M61.7 214.5h.1M46.9 217.0h.1M46.6 218.0h.1M51.0 214.7h.1M58.2 214.6h.1M47.9 208.6h.1M57.9 216.6h.1M50.1 217.0h.1M55.2 216.3h.1M44.5 213.2h.1M56.8 216.6h.1M56.7 206.1h.1M54.0 215.8h.1M63.3 211.1h.1M52.0 214.3h.1M56.8 212.7h.1M57.8 211.6h.1M54.3 212.5h.1M53.9 211.9h.1M47.1 217.8h.1M54.5 212.4h.1M54.1 217.5h.1M49.5 213.8h.1M55.4 215.9h.1M52.0 207.2h.1M58.1 215.3h.1M53.4 213.3h.1M54.3 212.8h.1M49.3 211.8h.1M51.0 212.2h.1M48.8 216.3h.1M48.2 216.4h.1M49.3 215.4h.1M58.7 214.9h.1M50.4 214.4h.1M53.9 208.5h.1M50.9 214.7h.1M51.5 214.5h.1M56.2 216.7h.1M56.8 216.1h.1M52.2 214.1h.1M52.2 213.2h.1M52.6 208.5h.1M52.0 214.1h.1M49.5 214.1h.1M55.3 213.7h.1M61.4 205.6h.1M52.5 208.2h.1M57.1 223.0h.1M43.5 214.6h.1M55.3 213.2h.1M55.5 206.8h.1M56.6 215.4h.1M53.4 212.3h.1M55.8 212.6h.1M54.2 212.5h.1M44.5 214.1h.1M54.1 216.7h.1M49.9 214.1h.1M55.7 214.7h.1M58.1 220.8h.1M49.8 207.9h.1M56.6 219.2h.1M56.9 216.9h.1M50.9 211.8h.1M56.8 211.2h.1M46.2 210.9h.1M63.0 220.5h.1M50.6 211.8h.1M54.2 211.7h.1M58.4 213.9h.1M49.1 218.5h.1M51.0 214.9h.1M53.3 213.2h.1M54.6 211.9h.1M46.1 206.9h.1M48.4 211.7h.1M53.2 214.4h.1M55.5 214.6h.1M50.2 211.9h.1M45.0 213.6h.1M55.2 215.9h.1M52.8 213.6h.1M57.0 214.3h.1M56.2 216.1h.1M54.1 218.5h.1M51.1 213.0h.1M50.1 211.6h.1M59.4 220.0h.1M53.4 216.1h.1M57.9 216.9h.1M58.0 210.0h.1M50.8 215.7h.1M58.9 214.5h.1M50.0 213.0h.1M50.7 211.4h.1M59.2 212.1h.1M53.4 221.3h.1M57.9 215.3h.1M50.9 215.6h.1M59.6 216.3h.1M58.2 214.5h.1M55.3 213.5h.1M55.0 218.5h.1M47.7 214.0h.1M54.2 212.3h.1M52.1 216.8h.1M61.1 216.3h.1M54.6 209.1h.1M60.8 214.5h.1M53.2 210.5h.1M53.1 210.6h.1M53.6 215.7h.1M53.4 215.1h.1M50.0 218.9h.1M50.8 208.2h.1M52.6 211.7h.1M49.4 213.0h.1M54.4 210.3h.1M52.8 218.9h.1M56.0 213.7h.1M53.8 213.8h.1M53.1 216.6h.1M52.9 206.3h.1M53.2 211.3h.1M55.8 212.2h.1M53.9 221.4h.1M49.2 210.5h.1M47.8 206.3h.1M46.0 215.4h.1M50.8 208.0h.1M47.5 216.2h.1M50.3 213.0h.1M54.6 218.7h.1M60.9 217.6h.1M53.9 214.8h.1M60.3 218.9h.1M52.1 215.7h.1M54.4 214.4h.1M51.3 209.8h.1M51.2 209.1h.1M58.1 216.0h.1M48.6 218.8h.1M56.8 207.9h.1M60.5 216.9h.1M61.4 210.1h.1M55.4 215.6h.1M54.1 214.8h.1M57.4 209.3h.1M48.5 209.6h.1M51.1 212.2h.1M54.7 215.1h.1M53.4 212.0h.1M51.6 217.3h.1M56.3 214.5h.1M52.0 219.3h.1M51.0 216.3h.1M57.8 213.3h.1M56.5 210.5h.1M57.2 214.9h.1M47.1 216.4h.1M49.8 218.4h.1M50.7 213.7h.1M54.4 213.1h.1M54.3 212.4h.1M55.9 214.2h.1M54.1 205.1h.1M57.8 214.3h.1M46.3 214.5h.1M55.1 217.7h.1M49.1 219.3h.1M52.7 222.1h.1M52.7 216.4h.1M51.9 210.5h.1M57.6 217.2h.1M59.3 217.0h.1M51.1 208.7h.1M50.8 212.0h.1M50.1 216.1h.1M54.6 213.3h.1M54.0 213.7h.1M54.1 216.7h.1M57.0 211.9h.1M47.4 218.9h.1M53.7 217.8h.1M46.9 213.1h.1M53.4 209.4h.1M51.3 216.6h.1M57.5 219.5h.1M49.9 209.6h.1M55.3 217.3h.1M54.1 209.9h.1M56.4 216.8h.1M55.5 212.6h.1M54.5 216.8h.1M51.1 208.1h.1M54.6 215.8h.1M53.4 217.1h.1M51.0 213.9h.1M52.1 216.1h.1M59.5 213.4h.1M61.3 219.2h.1M56.4 216.1h.1M60.2 213.6h.1M52.9 210.7h.1M55.1 218.6h.1M55.4 215.6h.1M52.5 214.8h.1M47.7 217.7h.1M51.7 210.6h.1M50.4 211.5h.1M56.6 217.7h.1M48.0 217.3h.1M56.8 212.3h.1M47.5 211.7h.1M50.8 215.3h.1M51.9 207.5h.1M54.2 209.1h.1M56.8 210.2h.1M50.6 211.4h.1M51.2 218.5h.1M56.6 216.2h.1M54.5 209.1h.1M51.3 212.4h.1M49.5 215.9h.1M50.4 211.9h.1M49.2 207.4h.1M55.6 218.6h.1M54.0 211.0h.1M42.8 214.8h.1M58.0 215.2h.1M56.9 219.1h.1M57.7 212.7h.1M57.4 216.8h.1M47.3 212.9h.1M47.7 213.8h.1M55.6 210.7h.1M45.3 218.5h.1M54.8 219.1h.1M48.1 217.7h.1M61.4 220.8h.1M52.5 215.1h.1M52.7 217.5h.1M57.3 214.5h.1M48.0 216.6h.1M51.5 216.3h.1M54.3 219.6h.1M57.7 212.7h.1M54.7 220.0h.1M51.2 215.6h.1M57.9 218.3h.1M55.3 209.8h.1M48.4 215.0h.1M54.8 222.6h.1M49.9 218.0h.1M56.3 208.7h.1M50.1 214.7h.1M51.4 213.7h.1M55.1 211.5h.1M55.1 212.1h.1M51.2 216.0h.1M51.1 215.1h.1M59.5 214.3h.1M52.7 216.6h.1M51.9 217.8h.1M48.3 216.2h.1M51.3 211.6h.1M60.2 211.4h.1M60.2 216.4h.1M59.0 211.0h.1M58.0 219.0h.1M52.8 213.8h.1M62.9 214.8h.1M51.7 212.1h.1M55.0 215.3h.1M54.0 219.9h.1M52.0 215.8h.1M59.0 210.9h.1M57.4 220.2h.1M48.0 210.6h.1M49.3 208.1h.1M55.1 208.1h.1M55.2 219.0h.1M47.0 213.2h.1M45.8 216.8h.1M50.4 213.3h.1M53.5 216.0h.1M51.9 214.2h.1M51.2 214.6h.1M48.7 214.4h.1M45.8 212.6h.1M60.8 214.5h.1M48.4 215.0h.1M49.5 208.8h.1M50.4 216.6h.1" stroke="#4a70b4" stroke-width="0.55" stroke-linecap="round" stroke-opacity="0.5" fill="none"/>
<text x="7.3" y="16.5" font-size="10.8" textLength="6.9" lengthAdjust="spacingAndGlyphs">A</text>
<text x="31.5" y="15.1" font-size="5.9" textLength="51.6" lengthAdjust="spacingAndGlyphs">Primary T-ALLs 1x10</text>
<text x="83.5" y="11.8" font-size="3.2">6</text>
<circle cx="49.6" cy="22.1" r="3.0" fill="url(#gc)" stroke="#333" stroke-width="0.6"/>
<circle cx="50.35" cy="23.35" r="1.15" fill="#111"/>
<circle cx="58.5" cy="20.9" r="3.0" fill="url(#gc)" stroke="#333" stroke-width="0.6"/>
<circle cx="59.25" cy="22.15" r="1.15" fill="#111"/>
<circle cx="66.9" cy="21.7" r="3.0" fill="url(#gc)" stroke="#333" stroke-width="0.6"/>
<circle cx="67.65" cy="22.95" r="1.15" fill="#111"/>
<circle cx="54.6" cy="27.5" r="3.0" fill="url(#gc)" stroke="#333" stroke-width="0.6"/>
<circle cx="55.35" cy="28.75" r="1.15" fill="#111"/>
<circle cx="63.5" cy="27.5" r="3.0" fill="url(#gc)" stroke="#333" stroke-width="0.6"/>
<circle cx="64.25" cy="28.75" r="1.15" fill="#111"/>
<circle cx="58.8" cy="32.5" r="3.0" fill="url(#gc)" stroke="#333" stroke-width="0.6"/>
<circle cx="59.55" cy="33.75" r="1.15" fill="#111"/>
<line x1="58.5" y1="39.2" x2="58.5" y2="49.5" stroke="#111111" stroke-width="0.9"/>
<path d="M55.9,48.3 L61.1,48.3 L58.5,54 Z" fill="#111"/>
<path d="M66.8,59 L53.2,64.1 Q50.2,65.3 53.2,66.4 L66.3,69.2 Q69.3,70.1 66.6,71.4 L60.2,75.2" fill="none" stroke="#222" stroke-width="0.8"/>
<path d="M49.22,95.82 A13,13 0 1 1 69.98,95.82 L59.6,109.6 Z" fill="#d9d6d6" stroke="#222" stroke-width="1.0"/>
<circle cx="49.1" cy="89.9" r="5.8" fill="#d9d6d6" stroke="#222" stroke-width="1.0"/>
<circle cx="71" cy="89.9" r="5.9" fill="#d9d6d6" stroke="#222" stroke-width="1.0"/>
<circle cx="55.5" cy="98.8" r="1.5" fill="#111"/>
<circle cx="63.5" cy="98.8" r="1.5" fill="#111"/>
<text x="96.5" y="77.9" font-size="6.0" text-anchor="middle" textLength="33.5" lengthAdjust="spacingAndGlyphs">CD1a CARTs/</text>
<text x="96.2" y="84.9" font-size="6.0" text-anchor="middle" textLength="16" lengthAdjust="spacingAndGlyphs">MOCK</text>
<text x="96.5" y="93.1" font-size="6.0" text-anchor="middle" textLength="20" lengthAdjust="spacingAndGlyphs">infusion</text>
<circle cx="87.4" cy="100.1" r="3.0" fill="url(#gp)" stroke="#333" stroke-width="0.6"/>
<circle cx="88.15" cy="101.35" r="1.15" fill="#111"/>
<circle cx="95.9" cy="98.6" r="3.0" fill="url(#gp)" stroke="#333" stroke-width="0.6"/>
<circle cx="96.65" cy="99.85" r="1.15" fill="#111"/>
<circle cx="104.4" cy="99.7" r="3.0" fill="url(#gp)" stroke="#333" stroke-width="0.6"/>
<circle cx="105.15" cy="100.95" r="1.15" fill="#111"/>
<circle cx="92.1" cy="104.8" r="3.0" fill="url(#gp)" stroke="#333" stroke-width="0.6"/>
<circle cx="92.85" cy="106.05" r="1.15" fill="#111"/>
<circle cx="100.5" cy="104.8" r="3.0" fill="url(#gp)" stroke="#333" stroke-width="0.6"/>
<circle cx="101.25" cy="106.05" r="1.15" fill="#111"/>
<circle cx="96.2" cy="109.6" r="3.0" fill="url(#gp)" stroke="#333" stroke-width="0.6"/>
<circle cx="96.95" cy="110.85" r="1.15" fill="#111"/>
<path d="M54.9,114.7 L63.1,114.7 L59,121.8 Z" fill="#fff" stroke="#1a1a1a" stroke-width="0.9"/>
<path d="M92.4,114.7 L100.6,114.7 L96.5,121.8 Z" fill="#fff" stroke="#1a1a1a" stroke-width="0.9"/>
<path d="M129.70000000000002,114.7 L137.9,114.7 L133.8,121.8 Z" fill="#fff" stroke="#1a1a1a" stroke-width="0.9"/>
<path d="M164.70000000000002,114.7 L172.9,114.7 L168.8,121.8 Z" fill="#fff" stroke="#1a1a1a" stroke-width="0.9"/>
<path d="M202.4,114.7 L210.6,114.7 L206.5,121.8 Z" fill="#fff" stroke="#1a1a1a" stroke-width="0.9"/>
<path d="M247.20000000000002,114.7 L255.4,114.7 L251.3,121.8 Z" fill="#fff" stroke="#1a1a1a" stroke-width="0.9"/>
<line x1="38" y1="125.9" x2="267.9" y2="125.9" stroke="#1e1e1e" stroke-width="1.3"/>
<text x="274.1" y="127.8" font-size="6.0" textLength="69.3" lengthAdjust="spacingAndGlyphs">FACS for T-ALL engrafment</text>
<path d="M125.8,99.6 L125.8,97.2 Q125.8,96 127,96 L263,96 Q264.2,96 264.2,97.2 L264.2,99.6" fill="none" stroke="#222" stroke-width="1.1"/>
<line x1="195" y1="96" x2="195" y2="91.6" stroke="#222" stroke-width="1.0"/>
<text x="195.25" y="87.4" font-size="6.0" text-anchor="middle" textLength="47.9" lengthAdjust="spacingAndGlyphs">Follow up (weeks)</text>
<text x="59" y="134.4" font-size="6.2" text-anchor="middle" textLength="16.8" lengthAdjust="spacingAndGlyphs">Day -3</text>
<text x="96.5" y="134.4" font-size="6.2" text-anchor="middle">0</text>
<text x="133.8" y="134.4" font-size="6.2" text-anchor="middle">2</text>
<text x="168.8" y="134.4" font-size="6.2" text-anchor="middle">4</text>
<text x="206.5" y="134.4" font-size="6.2" text-anchor="middle">6</text>
<text x="251.3" y="134.4" font-size="6.2" text-anchor="middle">9</text>
<text x="133.8" y="142.2" font-size="6.3" text-anchor="middle" textLength="23" lengthAdjust="spacingAndGlyphs">Bleeding</text>
<text x="168.8" y="142.2" font-size="6.3" text-anchor="middle" textLength="23" lengthAdjust="spacingAndGlyphs">Bleeding</text>
<text x="206.5" y="142.2" font-size="6.3" text-anchor="middle" textLength="23" lengthAdjust="spacingAndGlyphs">Bleeding</text>
<text x="251.3" y="142.2" font-size="6.3" text-anchor="middle" textLength="23" lengthAdjust="spacingAndGlyphs">Bleeding</text>
<text x="206.5" y="149.1" font-size="6.3" text-anchor="middle" textLength="31" lengthAdjust="spacingAndGlyphs">BM Aspirate</text>
<text x="251.3" y="149.1" font-size="6.3" text-anchor="middle" textLength="31" lengthAdjust="spacingAndGlyphs">BM Aspirate</text>
<rect x="39.75" y="204.2" width="30.75" height="28" fill="none" stroke="#a7a2a2" stroke-width="1.0"/>
<rect x="27.6" y="195.95" width="68.5" height="58.2" fill="none" stroke="#1e1e1e" stroke-width="1.5"/>
<text x="62.1" y="192.14999999999998" font-size="5.9" text-anchor="middle" textLength="33.6" lengthAdjust="spacingAndGlyphs">MOCK T-cells</text>
<text x="23.7" y="225.64999999999998" font-size="6.8" text-anchor="middle" textLength="13.8" lengthAdjust="spacingAndGlyphs" transform="rotate(-90 23.7 225.64999999999998)">CD1a</text>
<text x="61.9" y="263.04999999999995" font-size="6.9" text-anchor="middle" textLength="23.8" lengthAdjust="spacingAndGlyphs">HLA-ABC</text>
<rect x="130.1" y="204.2" width="30.6" height="28" fill="none" stroke="#a7a2a2" stroke-width="1.0"/>
<rect x="118.0" y="195.95" width="68.5" height="58.2" fill="none" stroke="#1e1e1e" stroke-width="1.5"/>
<text x="152.5" y="192.14999999999998" font-size="5.9" text-anchor="middle" textLength="32" lengthAdjust="spacingAndGlyphs">CD1a CARTs</text>
<text x="114.1" y="225.64999999999998" font-size="6.8" text-anchor="middle" textLength="13.8" lengthAdjust="spacingAndGlyphs" transform="rotate(-90 114.1 225.64999999999998)">CD1a</text>
<text x="152.3" y="263.04999999999995" font-size="6.9" text-anchor="middle" textLength="23.8" lengthAdjust="spacingAndGlyphs">HLA-ABC</text>
<rect x="49.0" y="355.6" width="25.3" height="30.6" fill="none" stroke="#a7a2a2" stroke-width="1.0"/>
<rect x="27.6" y="345.4" width="68.5" height="58.3" fill="none" stroke="#1e1e1e" stroke-width="1.5"/>
<text x="62.1" y="341.59999999999997" font-size="5.9" text-anchor="middle" textLength="33.6" lengthAdjust="spacingAndGlyphs">MOCK T-cells</text>
<text x="23.7" y="375.09999999999997" font-size="6.8" text-anchor="middle" textLength="13.8" lengthAdjust="spacingAndGlyphs" transform="rotate(-90 23.7 375.09999999999997)">CD1a</text>
<text x="61.9" y="412.5" font-size="6.9" text-anchor="middle" textLength="23.8" lengthAdjust="spacingAndGlyphs">HLA-ABC</text>
<rect x="139.5" y="355.6" width="25.2" height="30.6" fill="none" stroke="#a7a2a2" stroke-width="1.0"/>
<rect x="118.0" y="345.4" width="68.5" height="58.3" fill="none" stroke="#1e1e1e" stroke-width="1.5"/>
<text x="152.5" y="341.59999999999997" font-size="5.9" text-anchor="middle" textLength="32" lengthAdjust="spacingAndGlyphs">CD1a CARTs</text>
<text x="114.1" y="375.09999999999997" font-size="6.8" text-anchor="middle" textLength="13.8" lengthAdjust="spacingAndGlyphs" transform="rotate(-90 114.1 375.09999999999997)">CD1a</text>
<text x="152.3" y="412.5" font-size="6.9" text-anchor="middle" textLength="23.8" lengthAdjust="spacingAndGlyphs">HLA-ABC</text>
<text x="7.6" y="174.4" font-size="10.5">B</text>
<text x="101.8" y="172.8" font-size="8.4" textLength="11.1" lengthAdjust="spacingAndGlyphs">BM</text>
<text x="7.3" y="325.4" font-size="10.8" textLength="6.8" lengthAdjust="spacingAndGlyphs">C</text>
<text x="102.7" y="324.6" font-size="8.6" textLength="9.3" lengthAdjust="spacingAndGlyphs">PB</text>
<text x="281.5" y="174" font-size="8.2" text-anchor="middle" textLength="42.5" lengthAdjust="spacingAndGlyphs">BM (week 6)</text>
<line x1="224.9" y1="183.5" x2="224.9" y2="264.7" stroke="#262626" stroke-width="1.5"/>
<line x1="224.9" y1="264.7" x2="342.3" y2="264.7" stroke="#262626" stroke-width="1.5"/>
<line x1="222.1" y1="264.7" x2="224.9" y2="264.7" stroke="#111111" stroke-width="1"/>
<text x="218.6" y="267.09999999999997" font-size="6.6" text-anchor="end" textLength="2.85" lengthAdjust="spacingAndGlyphs">0</text>
<line x1="222.1" y1="249.04" x2="224.9" y2="249.04" stroke="#111111" stroke-width="1"/>
<text x="218.6" y="251.44" font-size="6.6" text-anchor="end" textLength="5.7" lengthAdjust="spacingAndGlyphs">20</text>
<line x1="222.1" y1="233.38" x2="224.9" y2="233.38" stroke="#111111" stroke-width="1"/>
<text x="218.6" y="235.78" font-size="6.6" text-anchor="end" textLength="5.7" lengthAdjust="spacingAndGlyphs">40</text>
<line x1="222.1" y1="217.71999999999997" x2="224.9" y2="217.71999999999997" stroke="#111111" stroke-width="1"/>
<text x="218.6" y="220.11999999999998" font-size="6.6" text-anchor="end" textLength="5.7" lengthAdjust="spacingAndGlyphs">60</text>
<line x1="222.1" y1="202.06" x2="224.9" y2="202.06" stroke="#111111" stroke-width="1"/>
<text x="218.6" y="204.46" font-size="6.6" text-anchor="end" textLength="5.7" lengthAdjust="spacingAndGlyphs">80</text>
<line x1="222.1" y1="186.39999999999998" x2="224.9" y2="186.39999999999998" stroke="#111111" stroke-width="1"/>
<text x="218.6" y="188.79999999999998" font-size="6.6" text-anchor="end" textLength="8.55" lengthAdjust="spacingAndGlyphs">100</text>
<text x="203.3" y="224.3" font-size="8.8" text-anchor="middle" textLength="50" lengthAdjust="spacingAndGlyphs" transform="rotate(-90 203.3 224.3)">% engrafment</text>
<line x1="261.8" y1="182.4" x2="301.3" y2="182.4" stroke="#333" stroke-width="1.2"/>
<ellipse cx="279.2" cy="179.9" rx="0.65" ry="0.85" fill="#3a3a3a"/>
<ellipse cx="281.5" cy="179.9" rx="0.65" ry="0.85" fill="#3a3a3a"/>
<ellipse cx="283.8" cy="179.9" rx="0.65" ry="0.85" fill="#3a3a3a"/>
<circle cx="253.5" cy="192.4" r="1.75" fill="#9e1b32"/>
<circle cx="258.4" cy="194.2" r="1.75" fill="#9e1b32"/>
<circle cx="263.2" cy="192.6" r="1.75" fill="#9e1b32"/>
<circle cx="260.8" cy="201.9" r="1.75" fill="#9e1b32"/>
<circle cx="256.1" cy="199.9" r="1.4" fill="#fff" stroke="#9e1b32" stroke-width="0.8"/>
<circle cx="258.4" cy="215.3" r="1.4" fill="#fff" stroke="#9e1b32" stroke-width="0.8"/>
<circle cx="258.4" cy="236.5" r="1.75" fill="#9e1b32"/>
<circle cx="251.4" cy="264.5" r="1.4" fill="#fff" stroke="#9e1b32" stroke-width="0.8"/>
<circle cx="256" cy="264.5" r="1.75" fill="#9e1b32"/>
<circle cx="261.2" cy="264.5" r="1.4" fill="#fff" stroke="#9e1b32" stroke-width="0.8"/>
<circle cx="265.8" cy="264.5" r="1.4" fill="#fff" stroke="#9e1b32" stroke-width="0.8"/>
<line x1="258.6" y1="264.7" x2="258.6" y2="267.4" stroke="#262626" stroke-width="1"/>
<line x1="308.7" y1="264.7" x2="308.7" y2="267.4" stroke="#262626" stroke-width="1"/>
<circle cx="294.0" cy="264.5" r="1.75" fill="#9e1b32"/>
<circle cx="296.75454545454545" cy="264.5" r="1.75" fill="#9e1b32"/>
<circle cx="299.5090909090909" cy="264.5" r="1.75" fill="#9e1b32"/>
<circle cx="302.26363636363635" cy="264.5" r="1.4" fill="#fff" stroke="#9e1b32" stroke-width="0.8"/>
<circle cx="305.0181818181818" cy="264.5" r="1.4" fill="#fff" stroke="#9e1b32" stroke-width="0.8"/>
<circle cx="307.77272727272725" cy="264.5" r="1.4" fill="#fff" stroke="#9e1b32" stroke-width="0.8"/>
<circle cx="310.5272727272727" cy="264.5" r="1.4" fill="#fff" stroke="#9e1b32" stroke-width="0.8"/>
<circle cx="313.28181818181815" cy="264.5" r="1.4" fill="#fff" stroke="#9e1b32" stroke-width="0.8"/>
<circle cx="316.03636363636366" cy="264.5" r="1.75" fill="#9e1b32"/>
<circle cx="318.7909090909091" cy="264.5" r="1.75" fill="#9e1b32"/>
<circle cx="321.54545454545456" cy="264.5" r="1.75" fill="#9e1b32"/>
<circle cx="324.3" cy="264.5" r="1.75" fill="#9e1b32"/>
<circle cx="295.7" cy="200.1" r="1.6" fill="#fff" stroke="#9e1b32" stroke-width="0.8"/>
<text x="300.3" y="201.9" font-size="5.8" textLength="18.5" lengthAdjust="spacingAndGlyphs">T-ALL #1</text>
<circle cx="295.7" cy="208.1" r="1.95" fill="#9e1b32"/>
<text x="300.3" y="210.3" font-size="5.8" textLength="18.5" lengthAdjust="spacingAndGlyphs">T-ALL #2</text>
<text x="258.6" y="276.7" font-size="6.6" text-anchor="middle" textLength="16.6" lengthAdjust="spacingAndGlyphs">MOCK</text>
<text x="308.7" y="276.7" font-size="6.6" text-anchor="middle" textLength="31.8" lengthAdjust="spacingAndGlyphs">CD1a CARTs</text>
<text x="200.8" y="285.3" font-size="5.6" textLength="33.8" lengthAdjust="spacingAndGlyphs">Leukemic mice:</text>
<text x="258.9" y="285.3" font-size="5.6" text-anchor="middle" textLength="27.7" lengthAdjust="spacingAndGlyphs">7/11 (63.6%)</text>
<text x="308.7" y="285.3" font-size="5.6" text-anchor="middle" textLength="21.3" lengthAdjust="spacingAndGlyphs">0/12 (0%)</text>
<text x="200.8" y="295.2" font-size="5.6" textLength="33" lengthAdjust="spacingAndGlyphs">%Engraftment:</text>
<text x="200.8" y="301.6" font-size="5.6" textLength="27.7" lengthAdjust="spacingAndGlyphs">(mean±SEM)</text>
<text x="258.9" y="295.2" font-size="5.6" text-anchor="middle" textLength="17.1" lengthAdjust="spacingAndGlyphs">50±12.7</text>
<text x="308.7" y="295.2" font-size="5.6" text-anchor="middle" textLength="21.5" lengthAdjust="spacingAndGlyphs">0.02±0.02</text>
<text x="445.4" y="174" font-size="8.2" text-anchor="middle" textLength="42.5" lengthAdjust="spacingAndGlyphs">BM (week 9)</text>
<line x1="389.4" y1="183.5" x2="389.4" y2="264.7" stroke="#262626" stroke-width="1.5"/>
<line x1="389.4" y1="264.7" x2="506.6" y2="264.7" stroke="#262626" stroke-width="1.5"/>
<line x1="386.59999999999997" y1="264.7" x2="389.4" y2="264.7" stroke="#111111" stroke-width="1"/>
<text x="383.1" y="267.09999999999997" font-size="6.6" text-anchor="end" textLength="2.85" lengthAdjust="spacingAndGlyphs">0</text>
<line x1="386.59999999999997" y1="249.04" x2="389.4" y2="249.04" stroke="#111111" stroke-width="1"/>
<text x="383.1" y="251.44" font-size="6.6" text-anchor="end" textLength="5.7" lengthAdjust="spacingAndGlyphs">20</text>
<line x1="386.59999999999997" y1="233.38" x2="389.4" y2="233.38" stroke="#111111" stroke-width="1"/>
<text x="383.1" y="235.78" font-size="6.6" text-anchor="end" textLength="5.7" lengthAdjust="spacingAndGlyphs">40</text>
<line x1="386.59999999999997" y1="217.71999999999997" x2="389.4" y2="217.71999999999997" stroke="#111111" stroke-width="1"/>
<text x="383.1" y="220.11999999999998" font-size="6.6" text-anchor="end" textLength="5.7" lengthAdjust="spacingAndGlyphs">60</text>
<line x1="386.59999999999997" y1="202.06" x2="389.4" y2="202.06" stroke="#111111" stroke-width="1"/>
<text x="383.1" y="204.46" font-size="6.6" text-anchor="end" textLength="5.7" lengthAdjust="spacingAndGlyphs">80</text>
<line x1="386.59999999999997" y1="186.39999999999998" x2="389.4" y2="186.39999999999998" stroke="#111111" stroke-width="1"/>
<text x="383.1" y="188.79999999999998" font-size="6.6" text-anchor="end" textLength="8.55" lengthAdjust="spacingAndGlyphs">100</text>
<text x="367.9" y="224.3" font-size="8.8" text-anchor="middle" textLength="50" lengthAdjust="spacingAndGlyphs" transform="rotate(-90 367.9 224.3)">% engrafment</text>
<line x1="426.2" y1="182.4" x2="465.4" y2="182.4" stroke="#333" stroke-width="1.2"/>
<ellipse cx="444.4" cy="179.9" rx="0.65" ry="0.85" fill="#3a3a3a"/>
<ellipse cx="446.9" cy="179.9" rx="0.65" ry="0.85" fill="#3a3a3a"/>
<circle cx="420.3" cy="195.8" r="1.75" fill="#9e1b32"/>
<circle cx="417.7" cy="199.6" r="1.75" fill="#9e1b32"/>
<circle cx="424.9" cy="197.8" r="1.4" fill="#fff" stroke="#9e1b32" stroke-width="0.8"/>
<circle cx="422.8" cy="204.2" r="1.75" fill="#9e1b32"/>
<circle cx="427.4" cy="203.6" r="1.4" fill="#fff" stroke="#9e1b32" stroke-width="0.8"/>
<circle cx="422.8" cy="215.8" r="1.75" fill="#9e1b32"/>
<circle cx="422.8" cy="229.3" r="1.4" fill="#fff" stroke="#9e1b32" stroke-width="0.8"/>
<circle cx="422.8" cy="245.8" r="1.4" fill="#fff" stroke="#9e1b32" stroke-width="0.8"/>
<circle cx="420.1" cy="264.6" r="1.4" fill="#fff" stroke="#9e1b32" stroke-width="0.8"/>
<circle cx="425.4" cy="263.1" r="1.4" fill="#fff" stroke="#9e1b32" stroke-width="0.8"/>
<circle cx="463" cy="263.4" r="1.75" fill="#9e1b32"/>
<circle cx="468.1" cy="264.6" r="1.4" fill="#fff" stroke="#9e1b32" stroke-width="0.8"/>
<circle cx="473" cy="264.6" r="1.4" fill="#fff" stroke="#9e1b32" stroke-width="0.8"/>
<circle cx="477.6" cy="264.6" r="1.4" fill="#fff" stroke="#9e1b32" stroke-width="0.8"/>
<circle cx="482.1" cy="264.6" r="1.75" fill="#9e1b32"/>
<line x1="423" y1="264.7" x2="423" y2="267.4" stroke="#262626" stroke-width="1"/>
<line x1="472.8" y1="264.7" x2="472.8" y2="267.4" stroke="#262626" stroke-width="1"/>
<text x="423" y="276.7" font-size="6.6" text-anchor="middle" textLength="16.6" lengthAdjust="spacingAndGlyphs">MOCK</text>
<text x="472.8" y="276.7" font-size="6.6" text-anchor="middle" textLength="31.8" lengthAdjust="spacingAndGlyphs">CD1a CARTs</text>
<text x="365.4" y="285.3" font-size="5.6" textLength="33.8" lengthAdjust="spacingAndGlyphs">Leukemic mice:</text>
<text x="422.6" y="285.3" font-size="5.6" text-anchor="middle" textLength="24" lengthAdjust="spacingAndGlyphs">9/10 (90%)</text>
<text x="473" y="285.3" font-size="5.6" text-anchor="middle" textLength="21" lengthAdjust="spacingAndGlyphs">1/5 (20%)</text>
<text x="365.4" y="295.2" font-size="5.6" textLength="33" lengthAdjust="spacingAndGlyphs">%Engraftment:</text>
<text x="365.4" y="301.6" font-size="5.6" textLength="27.7" lengthAdjust="spacingAndGlyphs">(mean±SEM)</text>
<text x="422.6" y="295.2" font-size="5.6" text-anchor="middle" textLength="17" lengthAdjust="spacingAndGlyphs">54.8±11</text>
<text x="473" y="295.2" font-size="5.6" text-anchor="middle" textLength="21.5" lengthAdjust="spacingAndGlyphs">0.36±0.36</text>
<text x="281" y="325.2" font-size="8.2" text-anchor="middle" textLength="40.6" lengthAdjust="spacingAndGlyphs">PB (week 6)</text>
<line x1="224.8" y1="335.2" x2="224.8" y2="345.4" stroke="#262626" stroke-width="1.5"/>
<line x1="224.8" y1="351.2" x2="224.8" y2="416.3" stroke="#262626" stroke-width="1.5"/>
<line x1="222.2" y1="345.4" x2="228" y2="345.4" stroke="#111111" stroke-width="1"/>
<line x1="222.2" y1="351.2" x2="228" y2="351.2" stroke="#111111" stroke-width="1"/>
<line x1="224.8" y1="416.3" x2="342.2" y2="416.3" stroke="#262626" stroke-width="1.5"/>
<line x1="222.2" y1="338.2" x2="225" y2="338.2" stroke="#111111" stroke-width="1"/>
<text x="218.6" y="340.59999999999997" font-size="6.6" text-anchor="end" textLength="5.7" lengthAdjust="spacingAndGlyphs">25</text>
<line x1="222.2" y1="344.6" x2="225" y2="344.6" stroke="#111111" stroke-width="1"/>
<text x="218.6" y="347.0" font-size="6.6" text-anchor="end" textLength="5.7" lengthAdjust="spacingAndGlyphs">20</text>
<line x1="222.2" y1="351.2" x2="225" y2="351.2" stroke="#111111" stroke-width="1"/>
<text x="218.6" y="353.59999999999997" font-size="6.6" text-anchor="end" textLength="5.7" lengthAdjust="spacingAndGlyphs">10</text>
<line x1="222.2" y1="364.5" x2="225" y2="364.5" stroke="#111111" stroke-width="1"/>
<text x="218.6" y="366.9" font-size="6.6" text-anchor="end" textLength="2.85" lengthAdjust="spacingAndGlyphs">8</text>
<line x1="222.2" y1="377.3" x2="225" y2="377.3" stroke="#111111" stroke-width="1"/>
<text x="218.6" y="379.7" font-size="6.6" text-anchor="end" textLength="2.85" lengthAdjust="spacingAndGlyphs">6</text>
<line x1="222.2" y1="390.3" x2="225" y2="390.3" stroke="#111111" stroke-width="1"/>
<text x="218.6" y="392.7" font-size="6.6" text-anchor="end" textLength="2.85" lengthAdjust="spacingAndGlyphs">4</text>
<line x1="222.2" y1="403.2" x2="225" y2="403.2" stroke="#111111" stroke-width="1"/>
<text x="218.6" y="405.59999999999997" font-size="6.6" text-anchor="end" textLength="2.85" lengthAdjust="spacingAndGlyphs">2</text>
<line x1="222.2" y1="416.2" x2="225" y2="416.2" stroke="#111111" stroke-width="1"/>
<text x="218.6" y="418.59999999999997" font-size="6.6" text-anchor="end" textLength="2.85" lengthAdjust="spacingAndGlyphs">0</text>
<text x="206.6" y="376" font-size="8.8" text-anchor="middle" textLength="50" lengthAdjust="spacingAndGlyphs" transform="rotate(-90 206.6 376)">% engrafment</text>
<line x1="261.8" y1="334.1" x2="301.3" y2="334.1" stroke="#333" stroke-width="1.2"/>
<ellipse cx="281.2" cy="331.4" rx="0.65" ry="0.85" fill="#3a3a3a"/>
<line x1="258.4" y1="416.3" x2="258.4" y2="419" stroke="#262626" stroke-width="1"/>
<line x1="308.3" y1="416.3" x2="308.3" y2="419" stroke="#262626" stroke-width="1"/>
<circle cx="258.4" cy="340.5" r="1.75" fill="#9e1b32"/>
<circle cx="258.4" cy="365.7" r="1.75" fill="#9e1b32"/>
<circle cx="258.4" cy="385.8" r="1.75" fill="#9e1b32"/>
<circle cx="258.4" cy="391.1" r="1.4" fill="#fff" stroke="#9e1b32" stroke-width="0.8"/>
<circle cx="260.8" cy="392.8" r="1.75" fill="#9e1b32"/>
<circle cx="256.1" cy="395.8" r="1.4" fill="#fff" stroke="#9e1b32" stroke-width="0.8"/>
<circle cx="258.4" cy="410.3" r="1.4" fill="#fff" stroke="#9e1b32" stroke-width="0.8"/>
<circle cx="265.5" cy="412.3" r="1.4" fill="#fff" stroke="#9e1b32" stroke-width="0.8"/>
<circle cx="251.5" cy="414.9" r="1.4" fill="#fff" stroke="#9e1b32" stroke-width="0.8"/>
<circle cx="256.1" cy="414.9" r="1.4" fill="#fff" stroke="#9e1b32" stroke-width="0.8"/>
<circle cx="260.8" cy="415.4" r="1.75" fill="#9e1b32"/>
<circle cx="292.4" cy="415.6" r="1.4" fill="#fff" stroke="#9e1b32" stroke-width="0.8"/>
<circle cx="295.08181818181816" cy="415.6" r="1.75" fill="#9e1b32"/>
<circle cx="297.76363636363635" cy="415.6" r="1.4" fill="#fff" stroke="#9e1b32" stroke-width="0.8"/>
<circle cx="300.44545454545454" cy="415.6" r="1.4" fill="#fff" stroke="#9e1b32" stroke-width="0.8"/>
<circle cx="303.1272727272727" cy="415.6" r="1.4" fill="#fff" stroke="#9e1b32" stroke-width="0.8"/>
<circle cx="305.8090909090909" cy="415.6" r="1.75" fill="#9e1b32"/>
<circle cx="308.49090909090904" cy="415.6" r="1.4" fill="#fff" stroke="#9e1b32" stroke-width="0.8"/>
<circle cx="311.17272727272723" cy="415.6" r="1.4" fill="#fff" stroke="#9e1b32" stroke-width="0.8"/>
<circle cx="313.8545454545454" cy="415.6" r="1.4" fill="#fff" stroke="#9e1b32" stroke-width="0.8"/>
<circle cx="316.5363636363636" cy="415.6" r="1.75" fill="#9e1b32"/>
<circle cx="319.2181818181818" cy="415.6" r="1.4" fill="#fff" stroke="#9e1b32" stroke-width="0.8"/>
<circle cx="321.9" cy="414.5" r="1.75" fill="#9e1b32"/>
<circle cx="295.6" cy="351.3" r="1.6" fill="#fff" stroke="#9e1b32" stroke-width="0.8"/>
<text x="300.3" y="353.4" font-size="5.8" textLength="18.5" lengthAdjust="spacingAndGlyphs">T-ALL #1</text>
<circle cx="295.6" cy="359.7" r="1.95" fill="#9e1b32"/>
<text x="300.3" y="361.8" font-size="5.8" textLength="18.5" lengthAdjust="spacingAndGlyphs">T-ALL #2</text>
<text x="258.4" y="427.8" font-size="6.6" text-anchor="middle" textLength="16.6" lengthAdjust="spacingAndGlyphs">MOCK</text>
<text x="308.3" y="427.8" font-size="6.6" text-anchor="middle" textLength="31.8" lengthAdjust="spacingAndGlyphs">CD1a CARTs</text>
<text x="200.8" y="436.9" font-size="5.6" textLength="33.8" lengthAdjust="spacingAndGlyphs">Leukemic mice:</text>
<text x="257.3" y="436.9" font-size="5.6" text-anchor="middle" textLength="27.7" lengthAdjust="spacingAndGlyphs">8/11 (72.7%)</text>
<text x="308.3" y="436.9" font-size="5.6" text-anchor="middle" textLength="21.3" lengthAdjust="spacingAndGlyphs">0/12 (0%)</text>
<text x="200.8" y="446" font-size="5.6" textLength="33" lengthAdjust="spacingAndGlyphs">%Engraftment:</text>
<text x="200.8" y="452.6" font-size="5.6" textLength="27.7" lengthAdjust="spacingAndGlyphs">(mean±SEM)</text>
<text x="258.4" y="446" font-size="5.6" text-anchor="middle" textLength="16" lengthAdjust="spacingAndGlyphs">4.4±2.0</text>
<text x="308.3" y="446" font-size="5.6" text-anchor="middle" textLength="21.5" lengthAdjust="spacingAndGlyphs">0.03±0.02</text>
<text x="445.4" y="325.2" font-size="8.2" text-anchor="middle" textLength="40.6" lengthAdjust="spacingAndGlyphs">PB (week 9)</text>
<line x1="389.2" y1="335.5" x2="389.2" y2="352.7" stroke="#262626" stroke-width="1.5"/>
<line x1="389.2" y1="358.1" x2="389.2" y2="416.3" stroke="#262626" stroke-width="1.5"/>
<line x1="386.4" y1="352.7" x2="392" y2="352.7" stroke="#111111" stroke-width="1"/>
<line x1="386.4" y1="358.1" x2="392" y2="358.1" stroke="#111111" stroke-width="1"/>
<line x1="389.2" y1="416.3" x2="506.6" y2="416.3" stroke="#262626" stroke-width="1.5"/>
<line x1="386.4" y1="338.1" x2="389.2" y2="338.1" stroke="#111111" stroke-width="1"/>
<text x="383.1" y="340.5" font-size="6.6" text-anchor="end" textLength="5.7" lengthAdjust="spacingAndGlyphs">70</text>
<line x1="386.4" y1="352.7" x2="389.2" y2="352.7" stroke="#111111" stroke-width="1"/>
<text x="383.1" y="355.09999999999997" font-size="6.6" text-anchor="end" textLength="5.7" lengthAdjust="spacingAndGlyphs">50</text>
<line x1="386.4" y1="358.1" x2="389.2" y2="358.1" stroke="#111111" stroke-width="1"/>
<text x="383.1" y="360.5" font-size="6.6" text-anchor="end" textLength="5.7" lengthAdjust="spacingAndGlyphs">40</text>
<line x1="386.4" y1="373" x2="389.2" y2="373" stroke="#111111" stroke-width="1"/>
<text x="383.1" y="375.4" font-size="6.6" text-anchor="end" textLength="5.7" lengthAdjust="spacingAndGlyphs">30</text>
<line x1="386.4" y1="387.6" x2="389.2" y2="387.6" stroke="#111111" stroke-width="1"/>
<text x="383.1" y="390.0" font-size="6.6" text-anchor="end" textLength="5.7" lengthAdjust="spacingAndGlyphs">20</text>
<line x1="386.4" y1="401.8" x2="389.2" y2="401.8" stroke="#111111" stroke-width="1"/>
<text x="383.1" y="404.2" font-size="6.6" text-anchor="end" textLength="5.7" lengthAdjust="spacingAndGlyphs">10</text>
<line x1="386.4" y1="416.2" x2="389.2" y2="416.2" stroke="#111111" stroke-width="1"/>
<text x="383.1" y="418.59999999999997" font-size="6.6" text-anchor="end" textLength="2.85" lengthAdjust="spacingAndGlyphs">0</text>
<text x="371.0" y="376" font-size="8.8" text-anchor="middle" textLength="50" lengthAdjust="spacingAndGlyphs" transform="rotate(-90 371.0 376)">% engrafment</text>
<line x1="422.5" y1="416.3" x2="422.5" y2="419" stroke="#262626" stroke-width="1"/>
<line x1="472.5" y1="416.3" x2="472.5" y2="419" stroke="#262626" stroke-width="1"/>
<circle cx="422.3" cy="340.8" r="1.75" fill="#9e1b32"/>
<circle cx="422.3" cy="360.1" r="1.75" fill="#9e1b32"/>
<circle cx="422.3" cy="374.5" r="1.75" fill="#9e1b32"/>
<circle cx="422.3" cy="390.7" r="1.4" fill="#fff" stroke="#9e1b32" stroke-width="0.8"/>
<circle cx="424.9" cy="399.9" r="1.4" fill="#fff" stroke="#9e1b32" stroke-width="0.8"/>
<circle cx="420" cy="404.3" r="1.75" fill="#9e1b32"/>
<circle cx="422.5" cy="409.5" r="1.4" fill="#fff" stroke="#9e1b32" stroke-width="0.8"/>
<circle cx="418" cy="414.5" r="1.4" fill="#fff" stroke="#9e1b32" stroke-width="0.8"/>
<circle cx="422.5" cy="415.5" r="1.4" fill="#fff" stroke="#9e1b32" stroke-width="0.8"/>
<circle cx="427.5" cy="415.5" r="1.4" fill="#fff" stroke="#9e1b32" stroke-width="0.8"/>
<circle cx="463.3" cy="415.6" r="1.75" fill="#9e1b32"/>
<circle cx="467.5" cy="415.6" r="1.75" fill="#9e1b32"/>
<circle cx="472.5" cy="415.6" r="1.75" fill="#9e1b32"/>
<circle cx="477" cy="415.6" r="1.75" fill="#9e1b32"/>
<circle cx="482" cy="415.6" r="1.75" fill="#9e1b32"/>
<text x="422.5" y="427.8" font-size="6.6" text-anchor="middle" textLength="16.6" lengthAdjust="spacingAndGlyphs">MOCK</text>
<text x="472.5" y="427.8" font-size="6.6" text-anchor="middle" textLength="31.8" lengthAdjust="spacingAndGlyphs">CD1a CARTs</text>
<text x="365.4" y="436.9" font-size="5.6" textLength="33.8" lengthAdjust="spacingAndGlyphs">Leukemic mice:</text>
<text x="422.5" y="436.9" font-size="5.6" text-anchor="middle" textLength="24" lengthAdjust="spacingAndGlyphs">9/10 (90%)</text>
<text x="472.5" y="436.9" font-size="5.6" text-anchor="middle" textLength="19" lengthAdjust="spacingAndGlyphs">0/5 (0%)</text>
<text x="365.4" y="446" font-size="5.6" textLength="33" lengthAdjust="spacingAndGlyphs">%Engraftment:</text>
<text x="365.4" y="452.6" font-size="5.6" textLength="27.7" lengthAdjust="spacingAndGlyphs">(mean±SEM)</text>
<text x="422.5" y="446" font-size="5.6" text-anchor="middle" textLength="18.5" lengthAdjust="spacingAndGlyphs">17.9±5.6</text>
<text x="472.5" y="446" font-size="5.6" text-anchor="middle" textLength="21.5" lengthAdjust="spacingAndGlyphs">0.00±0.00</text>
<text x="7.6" y="478.6" font-size="10.5">D</text>
<line x1="35.9" y1="490.8" x2="35.9" y2="556.3" stroke="#333" stroke-width="1.5"/>
<line x1="35.9" y1="556.3" x2="129.2" y2="556.3" stroke="#333" stroke-width="1.5"/>
<line x1="33" y1="556.3" x2="35.8" y2="556.3" stroke="#111111" stroke-width="1"/>
<text x="29.1" y="558.5999999999999" font-size="6.6" text-anchor="end" textLength="2.8" lengthAdjust="spacingAndGlyphs">0</text>
<line x1="33" y1="543.76" x2="35.8" y2="543.76" stroke="#111111" stroke-width="1"/>
<text x="29.1" y="546.06" font-size="6.6" text-anchor="end" textLength="5.6" lengthAdjust="spacingAndGlyphs">20</text>
<line x1="33" y1="531.2199999999999" x2="35.8" y2="531.2199999999999" stroke="#111111" stroke-width="1"/>
<text x="29.1" y="533.5199999999999" font-size="6.6" text-anchor="end" textLength="5.6" lengthAdjust="spacingAndGlyphs">40</text>
<line x1="33" y1="518.68" x2="35.8" y2="518.68" stroke="#111111" stroke-width="1"/>
<text x="29.1" y="520.9799999999999" font-size="6.6" text-anchor="end" textLength="5.6" lengthAdjust="spacingAndGlyphs">60</text>
<line x1="33" y1="506.14" x2="35.8" y2="506.14" stroke="#111111" stroke-width="1"/>
<text x="29.1" y="508.44" font-size="6.6" text-anchor="end" textLength="5.6" lengthAdjust="spacingAndGlyphs">80</text>
<line x1="33" y1="493.59999999999997" x2="35.8" y2="493.59999999999997" stroke="#111111" stroke-width="1"/>
<text x="29.1" y="495.9" font-size="6.6" text-anchor="end" textLength="8.4" lengthAdjust="spacingAndGlyphs">100</text>
<line x1="35.8" y1="556.1" x2="35.8" y2="558.8" stroke="#111111" stroke-width="1"/>
<text x="35.8" y="568.2" font-size="6.2" text-anchor="middle">0</text>
<line x1="64.1" y1="556.1" x2="64.1" y2="558.8" stroke="#111111" stroke-width="1"/>
<text x="64.1" y="568.2" font-size="6.2" text-anchor="middle">3</text>
<line x1="92.4" y1="556.1" x2="92.4" y2="558.8" stroke="#111111" stroke-width="1"/>
<text x="92.4" y="568.2" font-size="6.2" text-anchor="middle">6</text>
<line x1="120.6" y1="556.1" x2="120.6" y2="558.8" stroke="#111111" stroke-width="1"/>
<text x="120.6" y="568.2" font-size="6.2" text-anchor="middle">9</text>
<text x="82.5" y="579.1" font-size="8.4" text-anchor="middle" textLength="22.8" lengthAdjust="spacingAndGlyphs">Weeks</text>
<text x="15.0" y="524.5" font-size="8.8" text-anchor="middle" textLength="67.2" lengthAdjust="spacingAndGlyphs" transform="rotate(-90 15.0 524.5)">Overall survival (%)</text>
<path d="M73.5,493.8 L124.6,493.8" fill="none" stroke="#5a79a8" stroke-width="1.4"/>
<path d="M36,493.8 L73.5,493.8 L73.5,499.4 L92.3,499.4 L92.3,510.5 L101.2,510.5 L101.2,523.5 L120.3,523.5 L120.3,530 L124.6,530" fill="none" stroke="#b0283f" stroke-width="1.4"/>
<ellipse cx="100.4" cy="490.9" rx="0.65" ry="0.85" fill="#3a3a3a"/>
<ellipse cx="102.4" cy="490.9" rx="0.65" ry="0.85" fill="#3a3a3a"/>
<line x1="42" y1="538.3" x2="47.2" y2="538.3" stroke="#b0283f" stroke-width="1.1"/>
<line x1="42" y1="544.4" x2="47.2" y2="544.4" stroke="#5a79a8" stroke-width="1.1"/>
<text x="49.9" y="540.2" font-size="5.2" textLength="29" lengthAdjust="spacingAndGlyphs">MOCK T-cells</text>
<text x="49.9" y="546.3" font-size="5.2" textLength="26.7" lengthAdjust="spacingAndGlyphs">CD1a CARTs</text>
<text x="145.1" y="478.5" font-size="9.6" textLength="4.9" lengthAdjust="spacingAndGlyphs">E</text>
<text x="270" y="488.5" font-size="8.2" textLength="9.2" lengthAdjust="spacingAndGlyphs">PB</text>
<text x="454.8" y="488.8" font-size="8.2" textLength="11.1" lengthAdjust="spacingAndGlyphs">BM</text>
<line x1="170" y1="494.2" x2="170" y2="556.3" stroke="#262626" stroke-width="1.5"/>
<line x1="170" y1="556.3" x2="379" y2="556.3" stroke="#262626" stroke-width="1.3"/>
<line x1="167.2" y1="556.1" x2="170" y2="556.1" stroke="#111111" stroke-width="1"/>
<text x="163.8" y="558.3000000000001" font-size="6.6" text-anchor="end" textLength="3.0" lengthAdjust="spacingAndGlyphs">0</text>
<line x1="167.2" y1="544.32" x2="170" y2="544.32" stroke="#111111" stroke-width="1"/>
<text x="163.8" y="546.5200000000001" font-size="6.6" text-anchor="end" textLength="6.0" lengthAdjust="spacingAndGlyphs">10</text>
<line x1="167.2" y1="532.5400000000001" x2="170" y2="532.5400000000001" stroke="#111111" stroke-width="1"/>
<text x="163.8" y="534.7400000000001" font-size="6.6" text-anchor="end" textLength="6.0" lengthAdjust="spacingAndGlyphs">20</text>
<line x1="167.2" y1="520.76" x2="170" y2="520.76" stroke="#111111" stroke-width="1"/>
<text x="163.8" y="522.96" font-size="6.6" text-anchor="end" textLength="6.0" lengthAdjust="spacingAndGlyphs">30</text>
<line x1="167.2" y1="508.98" x2="170" y2="508.98" stroke="#111111" stroke-width="1"/>
<text x="163.8" y="511.18" font-size="6.6" text-anchor="end" textLength="6.0" lengthAdjust="spacingAndGlyphs">40</text>
<line x1="167.2" y1="497.20000000000005" x2="170" y2="497.20000000000005" stroke="#111111" stroke-width="1"/>
<text x="163.8" y="499.40000000000003" font-size="6.6" text-anchor="end" textLength="6.0" lengthAdjust="spacingAndGlyphs">50</text>
<text x="152.4" y="524.5" font-size="9" text-anchor="middle" textLength="29.2" lengthAdjust="spacingAndGlyphs" transform="rotate(-90 152.4 524.5)">% T cells</text>
<line x1="183.2" y1="556.2" x2="183.2" y2="558.6" stroke="#111111" stroke-width="1"/>
<text x="186.2" y="565.4" font-size="6.2" text-anchor="end" textLength="16.8" lengthAdjust="spacingAndGlyphs" transform="rotate(-45 186.2 565.4)">MOCK</text>
<line x1="209.2" y1="556.2" x2="209.2" y2="558.6" stroke="#111111" stroke-width="1"/>
<text x="212.2" y="565.4" font-size="6.2" text-anchor="end" textLength="29.3" lengthAdjust="spacingAndGlyphs" transform="rotate(-45 212.2 565.4)">CARTCD1a</text>
<line x1="235.4" y1="556.2" x2="235.4" y2="558.6" stroke="#111111" stroke-width="1"/>
<text x="238.4" y="565.4" font-size="6.2" text-anchor="end" textLength="16.8" lengthAdjust="spacingAndGlyphs" transform="rotate(-45 238.4 565.4)">MOCK</text>
<line x1="261.2" y1="556.2" x2="261.2" y2="558.6" stroke="#111111" stroke-width="1"/>
<text x="264.2" y="565.4" font-size="6.2" text-anchor="end" textLength="29.3" lengthAdjust="spacingAndGlyphs" transform="rotate(-45 264.2 565.4)">CARTCD1a</text>
<line x1="287.4" y1="556.2" x2="287.4" y2="558.6" stroke="#111111" stroke-width="1"/>
<text x="290.4" y="565.4" font-size="6.2" text-anchor="end" textLength="16.8" lengthAdjust="spacingAndGlyphs" transform="rotate(-45 290.4 565.4)">MOCK</text>
<line x1="313.5" y1="556.2" x2="313.5" y2="558.6" stroke="#111111" stroke-width="1"/>
<text x="316.5" y="565.4" font-size="6.2" text-anchor="end" textLength="29.3" lengthAdjust="spacingAndGlyphs" transform="rotate(-45 316.5 565.4)">CARTCD1a</text>
<line x1="339.7" y1="556.2" x2="339.7" y2="558.6" stroke="#111111" stroke-width="1"/>
<text x="342.7" y="565.4" font-size="6.2" text-anchor="end" textLength="16.8" lengthAdjust="spacingAndGlyphs" transform="rotate(-45 342.7 565.4)">MOCK</text>
<line x1="365.8" y1="556.2" x2="365.8" y2="558.6" stroke="#111111" stroke-width="1"/>
<text x="368.8" y="565.4" font-size="6.2" text-anchor="end" textLength="29.3" lengthAdjust="spacingAndGlyphs" transform="rotate(-45 368.8 565.4)">CARTCD1a</text>
<line x1="173.5" y1="590.1" x2="218.8" y2="590.1" stroke="#555" stroke-width="1.2"/>
<text x="196.15" y="598.4" font-size="6.2" text-anchor="middle" textLength="19.3" lengthAdjust="spacingAndGlyphs">Week 2</text>
<line x1="226" y1="590.1" x2="270" y2="590.1" stroke="#555" stroke-width="1.2"/>
<text x="248.0" y="598.4" font-size="6.2" text-anchor="middle" textLength="19.3" lengthAdjust="spacingAndGlyphs">Week 4</text>
<line x1="278.3" y1="590.1" x2="322.3" y2="590.1" stroke="#555" stroke-width="1.2"/>
<text x="300.3" y="598.4" font-size="6.2" text-anchor="middle" textLength="19.3" lengthAdjust="spacingAndGlyphs">Week 6</text>
<line x1="330.6" y1="590.1" x2="374.6" y2="590.1" stroke="#555" stroke-width="1.2"/>
<text x="352.6" y="598.4" font-size="6.2" text-anchor="middle" textLength="19.3" lengthAdjust="spacingAndGlyphs">Week 9</text>
<line x1="407.5" y1="494.2" x2="407.5" y2="556.3" stroke="#262626" stroke-width="1.5"/>
<line x1="407.5" y1="556.3" x2="513.3" y2="556.3" stroke="#262626" stroke-width="1.3"/>
<line x1="404.4" y1="556.1" x2="407.2" y2="556.1" stroke="#111111" stroke-width="1"/>
<text x="401.2" y="558.3000000000001" font-size="6.6" text-anchor="end" textLength="3.0" lengthAdjust="spacingAndGlyphs">0</text>
<line x1="404.4" y1="544.32" x2="407.2" y2="544.32" stroke="#111111" stroke-width="1"/>
<text x="401.2" y="546.5200000000001" font-size="6.6" text-anchor="end" textLength="3.0" lengthAdjust="spacingAndGlyphs">2</text>
<line x1="404.4" y1="532.5400000000001" x2="407.2" y2="532.5400000000001" stroke="#111111" stroke-width="1"/>
<text x="401.2" y="534.7400000000001" font-size="6.6" text-anchor="end" textLength="3.0" lengthAdjust="spacingAndGlyphs">4</text>
<line x1="404.4" y1="520.76" x2="407.2" y2="520.76" stroke="#111111" stroke-width="1"/>
<text x="401.2" y="522.96" font-size="6.6" text-anchor="end" textLength="3.0" lengthAdjust="spacingAndGlyphs">6</text>
<line x1="404.4" y1="508.98" x2="407.2" y2="508.98" stroke="#111111" stroke-width="1"/>
<text x="401.2" y="511.18" font-size="6.6" text-anchor="end" textLength="3.0" lengthAdjust="spacingAndGlyphs">8</text>
<line x1="404.4" y1="497.20000000000005" x2="407.2" y2="497.20000000000005" stroke="#111111" stroke-width="1"/>
<text x="401.2" y="499.40000000000003" font-size="6.6" text-anchor="end" textLength="6.0" lengthAdjust="spacingAndGlyphs">10</text>
<text x="389.6" y="524.5" font-size="9" text-anchor="middle" textLength="29.2" lengthAdjust="spacingAndGlyphs" transform="rotate(-90 389.6 524.5)">% T cells</text>
<line x1="420.6" y1="556.2" x2="420.6" y2="558.6" stroke="#111111" stroke-width="1"/>
<text x="423.6" y="565.4" font-size="6.2" text-anchor="end" textLength="16.8" lengthAdjust="spacingAndGlyphs" transform="rotate(-45 423.6 565.4)">MOCK</text>
<line x1="447.3" y1="556.2" x2="447.3" y2="558.6" stroke="#111111" stroke-width="1"/>
<text x="450.3" y="565.4" font-size="6.2" text-anchor="end" textLength="29.3" lengthAdjust="spacingAndGlyphs" transform="rotate(-45 450.3 565.4)">CARTCD1a</text>
<line x1="473.5" y1="556.2" x2="473.5" y2="558.6" stroke="#111111" stroke-width="1"/>
<text x="476.5" y="565.4" font-size="6.2" text-anchor="end" textLength="16.8" lengthAdjust="spacingAndGlyphs" transform="rotate(-45 476.5 565.4)">MOCK</text>
<line x1="499.8" y1="556.2" x2="499.8" y2="558.6" stroke="#111111" stroke-width="1"/>
<text x="502.8" y="565.4" font-size="6.2" text-anchor="end" textLength="29.3" lengthAdjust="spacingAndGlyphs" transform="rotate(-45 502.8 565.4)">CARTCD1a</text>
<line x1="411.5" y1="590.1" x2="455.4" y2="590.1" stroke="#555" stroke-width="1.2"/>
<text x="433.45" y="598.4" font-size="6.2" text-anchor="middle" textLength="19.3" lengthAdjust="spacingAndGlyphs">Week 6</text>
<line x1="464.3" y1="590.1" x2="508.7" y2="590.1" stroke="#555" stroke-width="1.2"/>
<text x="486.5" y="598.4" font-size="6.2" text-anchor="middle" textLength="19.3" lengthAdjust="spacingAndGlyphs">Week 9</text>
<rect x="181.85" y="546.45" width="2.5" height="2.5" fill="#a3182f"/>
<rect x="185.35" y="548.75" width="2.5" height="2.5" fill="#a3182f"/>
<rect x="178.25" y="550.55" width="2.5" height="2.5" fill="#a3182f"/>
<rect x="181.85" y="551.55" width="2.5" height="2.5" fill="#a3182f"/>
<rect x="175.45" y="552.55" width="2.5" height="2.5" fill="#a3182f"/>
<rect x="177.07" y="553.08" width="2.5" height="2.5" fill="#a3182f"/>
<rect x="178.7" y="553.45" width="2.5" height="2.5" fill="#a3182f"/>
<rect x="180.32" y="553.67" width="2.5" height="2.5" fill="#a3182f"/>
<rect x="181.95" y="553.75" width="2.5" height="2.5" fill="#a3182f"/>
<rect x="183.57" y="553.67" width="2.5" height="2.5" fill="#a3182f"/>
<rect x="185.2" y="553.45" width="2.5" height="2.5" fill="#a3182f"/>
<rect x="186.82" y="553.08" width="2.5" height="2.5" fill="#a3182f"/>
<rect x="188.45" y="552.55" width="2.5" height="2.5" fill="#a3182f"/>
<rect x="207.95" y="549.25" width="2.5" height="2.5" fill="#2d5189"/>
<rect x="201.45" y="552.55" width="2.5" height="2.5" fill="#2d5189"/>
<rect x="203.07" y="553.08" width="2.5" height="2.5" fill="#2d5189"/>
<rect x="204.7" y="553.45" width="2.5" height="2.5" fill="#2d5189"/>
<rect x="206.32" y="553.67" width="2.5" height="2.5" fill="#2d5189"/>
<rect x="207.95" y="553.75" width="2.5" height="2.5" fill="#2d5189"/>
<rect x="209.57" y="553.67" width="2.5" height="2.5" fill="#2d5189"/>
<rect x="211.2" y="553.45" width="2.5" height="2.5" fill="#2d5189"/>
<rect x="212.82" y="553.08" width="2.5" height="2.5" fill="#2d5189"/>
<rect x="214.45" y="552.55" width="2.5" height="2.5" fill="#2d5189"/>
<rect x="234.15" y="529.85" width="2.5" height="2.5" fill="#a3182f"/>
<rect x="230.25" y="534.95" width="2.5" height="2.5" fill="#a3182f"/>
<rect x="234.15" y="537.25" width="2.5" height="2.5" fill="#a3182f"/>
<rect x="237.65" y="535.95" width="2.5" height="2.5" fill="#a3182f"/>
<rect x="232.15" y="546.75" width="2.5" height="2.5" fill="#a3182f"/>
<rect x="235.95" y="548.45" width="2.5" height="2.5" fill="#a3182f"/>
<rect x="229.55" y="551.85" width="2.5" height="2.5" fill="#a3182f"/>
<rect x="228.65" y="552.55" width="2.5" height="2.5" fill="#a3182f"/>
<rect x="230.48" y="553.22" width="2.5" height="2.5" fill="#a3182f"/>
<rect x="232.32" y="553.62" width="2.5" height="2.5" fill="#a3182f"/>
<rect x="234.15" y="553.75" width="2.5" height="2.5" fill="#a3182f"/>
<rect x="235.98" y="553.62" width="2.5" height="2.5" fill="#a3182f"/>
<rect x="237.82" y="553.22" width="2.5" height="2.5" fill="#a3182f"/>
<rect x="239.65" y="552.55" width="2.5" height="2.5" fill="#a3182f"/>
<rect x="259.95" y="543.35" width="2.5" height="2.5" fill="#2d5189"/>
<rect x="259.95" y="549.95" width="2.5" height="2.5" fill="#2d5189"/>
<rect x="253.45" y="552.55" width="2.5" height="2.5" fill="#2d5189"/>
<rect x="255.07" y="553.08" width="2.5" height="2.5" fill="#2d5189"/>
<rect x="256.7" y="553.45" width="2.5" height="2.5" fill="#2d5189"/>
<rect x="258.32" y="553.67" width="2.5" height="2.5" fill="#2d5189"/>
<rect x="259.95" y="553.75" width="2.5" height="2.5" fill="#2d5189"/>
<rect x="261.57" y="553.67" width="2.5" height="2.5" fill="#2d5189"/>
<rect x="263.2" y="553.45" width="2.5" height="2.5" fill="#2d5189"/>
<rect x="264.82" y="553.08" width="2.5" height="2.5" fill="#2d5189"/>
<rect x="266.45" y="552.55" width="2.5" height="2.5" fill="#2d5189"/>
<rect x="286.15" y="495.95" width="2.5" height="2.5" fill="#a3182f"/>
<rect x="286.15" y="506.95" width="2.5" height="2.5" fill="#a3182f"/>
<rect x="287.95" y="521.35" width="2.5" height="2.5" fill="#a3182f"/>
<rect x="284.25" y="523.35" width="2.5" height="2.5" fill="#a3182f"/>
<rect x="282.55" y="544.45" width="2.5" height="2.5" fill="#a3182f"/>
<rect x="286.15" y="544.95" width="2.5" height="2.5" fill="#a3182f"/>
<rect x="289.85" y="542.95" width="2.5" height="2.5" fill="#a3182f"/>
<rect x="281.35" y="551.85" width="2.5" height="2.5" fill="#a3182f"/>
<rect x="284.55" y="552.25" width="2.5" height="2.5" fill="#a3182f"/>
<rect x="287.95" y="552.25" width="2.5" height="2.5" fill="#a3182f"/>
<rect x="291.35" y="550.75" width="2.5" height="2.5" fill="#a3182f"/>
<rect x="312.25" y="536.75" width="2.5" height="2.5" fill="#2d5189"/>
<rect x="312.25" y="543.35" width="2.5" height="2.5" fill="#2d5189"/>
<rect x="315.65" y="546.45" width="2.5" height="2.5" fill="#2d5189"/>
<rect x="308.75" y="549.55" width="2.5" height="2.5" fill="#2d5189"/>
<rect x="312.25" y="549.95" width="2.5" height="2.5" fill="#2d5189"/>
<rect x="305.75" y="552.55" width="2.5" height="2.5" fill="#2d5189"/>
<rect x="307.38" y="553.08" width="2.5" height="2.5" fill="#2d5189"/>
<rect x="309.0" y="553.45" width="2.5" height="2.5" fill="#2d5189"/>
<rect x="310.62" y="553.67" width="2.5" height="2.5" fill="#2d5189"/>
<rect x="312.25" y="553.75" width="2.5" height="2.5" fill="#2d5189"/>
<rect x="313.88" y="553.67" width="2.5" height="2.5" fill="#2d5189"/>
<rect x="315.5" y="553.45" width="2.5" height="2.5" fill="#2d5189"/>
<rect x="317.12" y="553.08" width="2.5" height="2.5" fill="#2d5189"/>
<rect x="318.75" y="552.55" width="2.5" height="2.5" fill="#2d5189"/>
<rect x="338.45" y="522.55" width="2.5" height="2.5" fill="#a3182f"/>
<rect x="336.45" y="539.25" width="2.5" height="2.5" fill="#a3182f"/>
<rect x="341.85" y="539.95" width="2.5" height="2.5" fill="#a3182f"/>
<rect x="339.95" y="541.55" width="2.5" height="2.5" fill="#a3182f"/>
<rect x="336.45" y="544.45" width="2.5" height="2.5" fill="#a3182f"/>
<rect x="336.45" y="549.55" width="2.5" height="2.5" fill="#a3182f"/>
<rect x="340.25" y="550.25" width="2.5" height="2.5" fill="#a3182f"/>
<rect x="334.95" y="553.05" width="2.5" height="2.5" fill="#a3182f"/>
<rect x="338.45" y="554.35" width="2.5" height="2.5" fill="#a3182f"/>
<rect x="342.15" y="554.15" width="2.5" height="2.5" fill="#a3182f"/>
<rect x="364.55" y="546.45" width="2.5" height="2.5" fill="#2d5189"/>
<rect x="364.55" y="550.55" width="2.5" height="2.5" fill="#2d5189"/>
<rect x="369.55" y="551.85" width="2.5" height="2.5" fill="#2d5189"/>
<rect x="359.95" y="552.55" width="2.5" height="2.5" fill="#2d5189"/>
<rect x="362.25" y="553.75" width="2.5" height="2.5" fill="#2d5189"/>
<rect x="366.75" y="553.75" width="2.5" height="2.5" fill="#2d5189"/>
<rect x="417.25" y="518.75" width="2.5" height="2.5" fill="#a3182f"/>
<rect x="421.35" y="520.35" width="2.5" height="2.5" fill="#a3182f"/>
<rect x="419.55" y="539.95" width="2.5" height="2.5" fill="#a3182f"/>
<rect x="419.55" y="548.05" width="2.5" height="2.5" fill="#a3182f"/>
<rect x="415.05" y="553.95" width="2.5" height="2.5" fill="#a3182f"/>
<rect x="416.95" y="553.95" width="2.5" height="2.5" fill="#a3182f"/>
<rect x="418.85" y="553.95" width="2.5" height="2.5" fill="#a3182f"/>
<rect x="420.75" y="553.95" width="2.5" height="2.5" fill="#a3182f"/>
<rect x="422.65" y="553.95" width="2.5" height="2.5" fill="#a3182f"/>
<rect x="424.55" y="553.95" width="2.5" height="2.5" fill="#a3182f"/>
<rect x="444.25" y="530.25" width="2.5" height="2.5" fill="#2d5189"/>
<rect x="449.55" y="532.55" width="2.5" height="2.5" fill="#2d5189"/>
<rect x="447.65" y="533.75" width="2.5" height="2.5" fill="#2d5189"/>
<rect x="444.25" y="537.65" width="2.5" height="2.5" fill="#2d5189"/>
<rect x="441.95" y="544.15" width="2.5" height="2.5" fill="#2d5189"/>
<rect x="445.55" y="544.85" width="2.5" height="2.5" fill="#2d5189"/>
<rect x="449.55" y="544.15" width="2.5" height="2.5" fill="#2d5189"/>
<rect x="440.95" y="548.75" width="2.5" height="2.5" fill="#2d5189"/>
<rect x="440.25" y="552.25" width="2.5" height="2.5" fill="#2d5189"/>
<rect x="442.15" y="552.25" width="2.5" height="2.5" fill="#2d5189"/>
<rect x="444.05" y="552.25" width="2.5" height="2.5" fill="#2d5189"/>
<rect x="445.95" y="552.25" width="2.5" height="2.5" fill="#2d5189"/>
<rect x="447.85" y="552.25" width="2.5" height="2.5" fill="#2d5189"/>
<rect x="449.75" y="552.25" width="2.5" height="2.5" fill="#2d5189"/>
<rect x="451.65" y="552.25" width="2.5" height="2.5" fill="#2d5189"/>
<rect x="472.15" y="511.35" width="2.5" height="2.5" fill="#a3182f"/>
<rect x="472.15" y="530.95" width="2.5" height="2.5" fill="#a3182f"/>
<rect x="472.15" y="542.25" width="2.5" height="2.5" fill="#a3182f"/>
<rect x="467.25" y="551.55" width="2.5" height="2.5" fill="#a3182f"/>
<rect x="467.75" y="554.15" width="2.5" height="2.5" fill="#a3182f"/>
<rect x="469.65" y="554.15" width="2.5" height="2.5" fill="#a3182f"/>
<rect x="471.55" y="554.15" width="2.5" height="2.5" fill="#a3182f"/>
<rect x="473.45" y="554.15" width="2.5" height="2.5" fill="#a3182f"/>
<rect x="475.35" y="554.15" width="2.5" height="2.5" fill="#a3182f"/>
<rect x="477.25" y="554.15" width="2.5" height="2.5" fill="#a3182f"/>
<rect x="498.45" y="507.25" width="2.5" height="2.5" fill="#2d5189"/>
<rect x="498.45" y="548.05" width="2.5" height="2.5" fill="#2d5189"/>
<rect x="494.95" y="550.55" width="2.5" height="2.5" fill="#2d5189"/>
<rect x="498.45" y="553.85" width="2.5" height="2.5" fill="#2d5189"/>
<rect x="501.95" y="553.35" width="2.5" height="2.5" fill="#2d5189"/>
<rect x="0" y="0" width="520" height="1.1" fill="#000"/>
<rect x="0" y="0" width="1.8" height="607" fill="#3a3a3a"/>
<rect x="518.4" y="0" width="1.6" height="607" fill="#3a3a3a"/>
<rect x="0" y="605.6" width="520" height="1.4" fill="#000"/>
</svg>
</body></html>
